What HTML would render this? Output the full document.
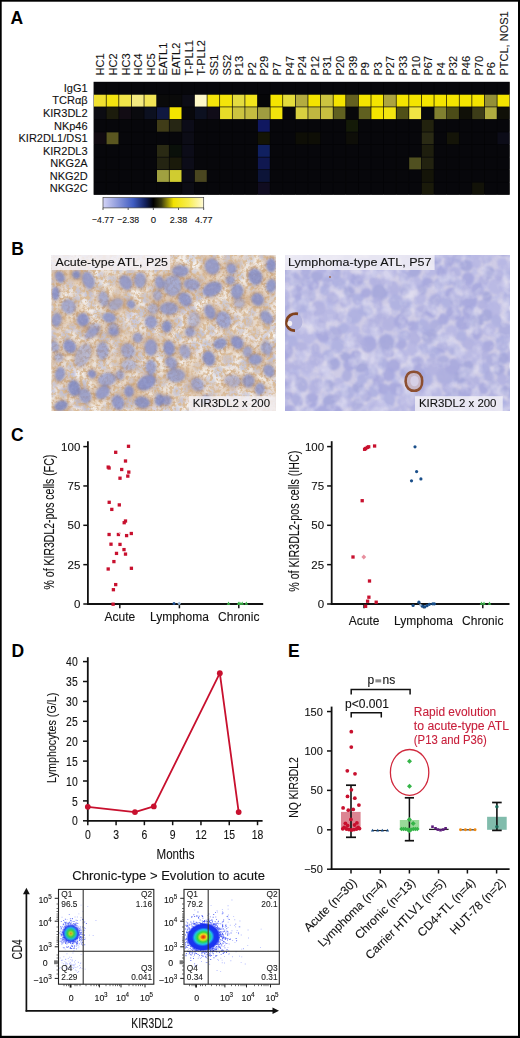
<!DOCTYPE html>
<html><head><meta charset="utf-8"><title>Figure</title>
<style>html,body{margin:0;padding:0;background:#fff;} svg{display:block;} text{font-family:"Liberation Sans", sans-serif;}</style>
</head><body>
<svg width="520" height="1038" viewBox="0 0 520 1038">
<rect x="0" y="0" width="520" height="1038" fill="#fff"/>
<rect x="0.00" y="0.00" width="1.70" height="1038.00" fill="#000" />
<rect x="0.00" y="0.00" width="520.00" height="1.70" fill="#000" />
<rect x="518.00" y="0.00" width="2.00" height="1038.00" fill="#000" />
<rect x="0.00" y="1035.80" width="520.00" height="2.20" fill="#000" />
<text x="10.40" y="23.60" font-size="17.5" text-anchor="start" fill="#000" font-weight="bold" >A</text>
<text x="11.30" y="254.80" font-size="17.5" text-anchor="start" fill="#000" font-weight="bold" >B</text>
<text x="10.90" y="441.00" font-size="17.5" text-anchor="start" fill="#000" font-weight="bold" >C</text>
<text x="11.40" y="656.90" font-size="17.5" text-anchor="start" fill="#000" font-weight="bold" >D</text>
<text x="288.00" y="656.90" font-size="17.5" text-anchor="start" fill="#000" font-weight="bold" >E</text>
<rect x="93.60" y="81.80" width="416.10" height="113.00" fill="#050507" />
<rect x="93.95" y="82.15" width="11.91" height="11.86" fill="#07070b" />
<rect x="106.56" y="82.15" width="11.91" height="11.86" fill="#07070b" />
<rect x="119.17" y="82.15" width="11.91" height="11.86" fill="#07070b" />
<rect x="131.78" y="82.15" width="11.91" height="11.86" fill="#07070b" />
<rect x="144.39" y="82.15" width="11.91" height="11.86" fill="#07070b" />
<rect x="157.00" y="82.15" width="11.91" height="11.86" fill="#07070b" />
<rect x="169.60" y="82.15" width="11.91" height="11.86" fill="#07070b" />
<rect x="182.21" y="82.15" width="11.91" height="11.86" fill="#07070b" />
<rect x="194.82" y="82.15" width="11.91" height="11.86" fill="#07070b" />
<rect x="207.43" y="82.15" width="11.91" height="11.86" fill="#07070b" />
<rect x="220.04" y="82.15" width="11.91" height="11.86" fill="#07070b" />
<rect x="232.65" y="82.15" width="11.91" height="11.86" fill="#07070b" />
<rect x="245.26" y="82.15" width="11.91" height="11.86" fill="#07070b" />
<rect x="257.87" y="82.15" width="11.91" height="11.86" fill="#07070b" />
<rect x="270.48" y="82.15" width="11.91" height="11.86" fill="#07070b" />
<rect x="283.09" y="82.15" width="11.91" height="11.86" fill="#07070b" />
<rect x="295.70" y="82.15" width="11.91" height="11.86" fill="#07070b" />
<rect x="308.30" y="82.15" width="11.91" height="11.86" fill="#07070b" />
<rect x="320.91" y="82.15" width="11.91" height="11.86" fill="#07070b" />
<rect x="333.52" y="82.15" width="11.91" height="11.86" fill="#07070b" />
<rect x="346.13" y="82.15" width="11.91" height="11.86" fill="#07070b" />
<rect x="358.74" y="82.15" width="11.91" height="11.86" fill="#07070b" />
<rect x="371.35" y="82.15" width="11.91" height="11.86" fill="#07070b" />
<rect x="383.96" y="82.15" width="11.91" height="11.86" fill="#07070b" />
<rect x="396.57" y="82.15" width="11.91" height="11.86" fill="#07070b" />
<rect x="409.18" y="82.15" width="11.91" height="11.86" fill="#07070b" />
<rect x="421.79" y="82.15" width="11.91" height="11.86" fill="#07070b" />
<rect x="434.40" y="82.15" width="11.91" height="11.86" fill="#07070b" />
<rect x="447.00" y="82.15" width="11.91" height="11.86" fill="#07070b" />
<rect x="459.61" y="82.15" width="11.91" height="11.86" fill="#07070b" />
<rect x="472.22" y="82.15" width="11.91" height="11.86" fill="#07070b" />
<rect x="484.83" y="82.15" width="11.91" height="11.86" fill="#07070b" />
<rect x="497.44" y="82.15" width="11.91" height="11.86" fill="#07070b" />
<rect x="93.95" y="94.71" width="11.91" height="11.86" fill="#f0e030" />
<rect x="106.56" y="94.71" width="11.91" height="11.86" fill="#f4e410" />
<rect x="119.17" y="94.71" width="11.91" height="11.86" fill="#f2e44a" />
<rect x="131.78" y="94.71" width="11.91" height="11.86" fill="#f4ea80" />
<rect x="144.39" y="94.71" width="11.91" height="11.86" fill="#f2e456" />
<rect x="157.00" y="94.71" width="11.91" height="11.86" fill="#0a0a0a" />
<rect x="169.60" y="94.71" width="11.91" height="11.86" fill="#0a0a0a" />
<rect x="182.21" y="94.71" width="11.91" height="11.86" fill="#0c0c16" />
<rect x="194.82" y="94.71" width="11.91" height="11.86" fill="#fdf8c8" />
<rect x="207.43" y="94.71" width="11.91" height="11.86" fill="#f4e40a" />
<rect x="220.04" y="94.71" width="11.91" height="11.86" fill="#f4e40a" />
<rect x="232.65" y="94.71" width="11.91" height="11.86" fill="#e4dc40" />
<rect x="245.26" y="94.71" width="11.91" height="11.86" fill="#f2e41c" />
<rect x="257.87" y="94.71" width="11.91" height="11.86" fill="#060608" />
<rect x="270.48" y="94.71" width="11.91" height="11.86" fill="#f4e400" />
<rect x="283.09" y="94.71" width="11.91" height="11.86" fill="#e4dc3c" />
<rect x="295.70" y="94.71" width="11.91" height="11.86" fill="#b4ac40" />
<rect x="308.30" y="94.71" width="11.91" height="11.86" fill="#f4e400" />
<rect x="320.91" y="94.71" width="11.91" height="11.86" fill="#ccc440" />
<rect x="333.52" y="94.71" width="11.91" height="11.86" fill="#f4e400" />
<rect x="346.13" y="94.71" width="11.91" height="11.86" fill="#646020" />
<rect x="358.74" y="94.71" width="11.91" height="11.86" fill="#f4e400" />
<rect x="371.35" y="94.71" width="11.91" height="11.86" fill="#f4e400" />
<rect x="383.96" y="94.71" width="11.91" height="11.86" fill="#aca440" />
<rect x="396.57" y="94.71" width="11.91" height="11.86" fill="#f4e400" />
<rect x="409.18" y="94.71" width="11.91" height="11.86" fill="#f4e400" />
<rect x="421.79" y="94.71" width="11.91" height="11.86" fill="#f4e400" />
<rect x="434.40" y="94.71" width="11.91" height="11.86" fill="#f4e400" />
<rect x="447.00" y="94.71" width="11.91" height="11.86" fill="#f4e400" />
<rect x="459.61" y="94.71" width="11.91" height="11.86" fill="#f4e400" />
<rect x="472.22" y="94.71" width="11.91" height="11.86" fill="#f4e400" />
<rect x="484.83" y="94.71" width="11.91" height="11.86" fill="#949038" />
<rect x="497.44" y="94.71" width="11.91" height="11.86" fill="#f4e400" />
<rect x="93.95" y="107.26" width="11.91" height="11.86" fill="#0c0c12" />
<rect x="106.56" y="107.26" width="11.91" height="11.86" fill="#1c1c0c" />
<rect x="119.17" y="107.26" width="11.91" height="11.86" fill="#120c14" />
<rect x="131.78" y="107.26" width="11.91" height="11.86" fill="#0a0a0e" />
<rect x="144.39" y="107.26" width="11.91" height="11.86" fill="#0c1020" />
<rect x="157.00" y="107.26" width="11.91" height="11.86" fill="#101840" />
<rect x="169.60" y="107.26" width="11.91" height="11.86" fill="#f4e400" />
<rect x="182.21" y="107.26" width="11.91" height="11.86" fill="#08080c" />
<rect x="194.82" y="107.26" width="11.91" height="11.86" fill="#0c1020" />
<rect x="207.43" y="107.26" width="11.91" height="11.86" fill="#100c18" />
<rect x="220.04" y="107.26" width="11.91" height="11.86" fill="#e8dc28" />
<rect x="232.65" y="107.26" width="11.91" height="11.86" fill="#ccc440" />
<rect x="245.26" y="107.26" width="11.91" height="11.86" fill="#c4bc40" />
<rect x="257.87" y="107.26" width="11.91" height="11.86" fill="#a09c40" />
<rect x="270.48" y="107.26" width="11.91" height="11.86" fill="#f2e40c" />
<rect x="283.09" y="107.26" width="11.91" height="11.86" fill="#06060a" />
<rect x="295.70" y="107.26" width="11.91" height="11.86" fill="#d8d040" />
<rect x="308.30" y="107.26" width="11.91" height="11.86" fill="#c0b840" />
<rect x="320.91" y="107.26" width="11.91" height="11.86" fill="#c8c040" />
<rect x="333.52" y="107.26" width="11.91" height="11.86" fill="#606020" />
<rect x="346.13" y="107.26" width="11.91" height="11.86" fill="#08080a" />
<rect x="358.74" y="107.26" width="11.91" height="11.86" fill="#606020" />
<rect x="371.35" y="107.26" width="11.91" height="11.86" fill="#f4e400" />
<rect x="383.96" y="107.26" width="11.91" height="11.86" fill="#f2e410" />
<rect x="396.57" y="107.26" width="11.91" height="11.86" fill="#505018" />
<rect x="409.18" y="107.26" width="11.91" height="11.86" fill="#f0e444" />
<rect x="421.79" y="107.26" width="11.91" height="11.86" fill="#06080c" />
<rect x="434.40" y="107.26" width="11.91" height="11.86" fill="#808030" />
<rect x="447.00" y="107.26" width="11.91" height="11.86" fill="#4c4c18" />
<rect x="459.61" y="107.26" width="11.91" height="11.86" fill="#101008" />
<rect x="472.22" y="107.26" width="11.91" height="11.86" fill="#3c3c18" />
<rect x="484.83" y="107.26" width="11.91" height="11.86" fill="#b0ac40" />
<rect x="497.44" y="107.26" width="11.91" height="11.86" fill="#101008" />
<rect x="93.95" y="119.82" width="11.91" height="11.86" fill="#07070b" />
<rect x="106.56" y="119.82" width="11.91" height="11.86" fill="#07070b" />
<rect x="119.17" y="119.82" width="11.91" height="11.86" fill="#07070b" />
<rect x="131.78" y="119.82" width="11.91" height="11.86" fill="#07070b" />
<rect x="144.39" y="119.82" width="11.91" height="11.86" fill="#07070b" />
<rect x="157.00" y="119.82" width="11.91" height="11.86" fill="#403c18" />
<rect x="169.60" y="119.82" width="11.91" height="11.86" fill="#262614" />
<rect x="182.21" y="119.82" width="11.91" height="11.86" fill="#0c0c18" />
<rect x="194.82" y="119.82" width="11.91" height="11.86" fill="#07070b" />
<rect x="207.43" y="119.82" width="11.91" height="11.86" fill="#07070b" />
<rect x="220.04" y="119.82" width="11.91" height="11.86" fill="#07070b" />
<rect x="232.65" y="119.82" width="11.91" height="11.86" fill="#07070b" />
<rect x="245.26" y="119.82" width="11.91" height="11.86" fill="#07070b" />
<rect x="257.87" y="119.82" width="11.91" height="11.86" fill="#101860" />
<rect x="270.48" y="119.82" width="11.91" height="11.86" fill="#07070b" />
<rect x="283.09" y="119.82" width="11.91" height="11.86" fill="#07070b" />
<rect x="295.70" y="119.82" width="11.91" height="11.86" fill="#07070b" />
<rect x="308.30" y="119.82" width="11.91" height="11.86" fill="#07070b" />
<rect x="320.91" y="119.82" width="11.91" height="11.86" fill="#07070b" />
<rect x="333.52" y="119.82" width="11.91" height="11.86" fill="#07070b" />
<rect x="346.13" y="119.82" width="11.91" height="11.86" fill="#141a08" />
<rect x="358.74" y="119.82" width="11.91" height="11.86" fill="#07070b" />
<rect x="371.35" y="119.82" width="11.91" height="11.86" fill="#07070b" />
<rect x="383.96" y="119.82" width="11.91" height="11.86" fill="#07070b" />
<rect x="396.57" y="119.82" width="11.91" height="11.86" fill="#07070b" />
<rect x="409.18" y="119.82" width="11.91" height="11.86" fill="#07070b" />
<rect x="421.79" y="119.82" width="11.91" height="11.86" fill="#22220e" />
<rect x="434.40" y="119.82" width="11.91" height="11.86" fill="#07070b" />
<rect x="447.00" y="119.82" width="11.91" height="11.86" fill="#07070b" />
<rect x="459.61" y="119.82" width="11.91" height="11.86" fill="#07070b" />
<rect x="472.22" y="119.82" width="11.91" height="11.86" fill="#07070b" />
<rect x="484.83" y="119.82" width="11.91" height="11.86" fill="#07070b" />
<rect x="497.44" y="119.82" width="11.91" height="11.86" fill="#07070b" />
<rect x="93.95" y="132.37" width="11.91" height="11.86" fill="#100a10" />
<rect x="106.56" y="132.37" width="11.91" height="11.86" fill="#5a5620" />
<rect x="119.17" y="132.37" width="11.91" height="11.86" fill="#07070b" />
<rect x="131.78" y="132.37" width="11.91" height="11.86" fill="#07070b" />
<rect x="144.39" y="132.37" width="11.91" height="11.86" fill="#07070b" />
<rect x="157.00" y="132.37" width="11.91" height="11.86" fill="#07070b" />
<rect x="169.60" y="132.37" width="11.91" height="11.86" fill="#07070b" />
<rect x="182.21" y="132.37" width="11.91" height="11.86" fill="#0c0c16" />
<rect x="194.82" y="132.37" width="11.91" height="11.86" fill="#07070b" />
<rect x="207.43" y="132.37" width="11.91" height="11.86" fill="#07070b" />
<rect x="220.04" y="132.37" width="11.91" height="11.86" fill="#07070b" />
<rect x="232.65" y="132.37" width="11.91" height="11.86" fill="#07070b" />
<rect x="245.26" y="132.37" width="11.91" height="11.86" fill="#07070b" />
<rect x="257.87" y="132.37" width="11.91" height="11.86" fill="#141406" />
<rect x="270.48" y="132.37" width="11.91" height="11.86" fill="#07070b" />
<rect x="283.09" y="132.37" width="11.91" height="11.86" fill="#07070b" />
<rect x="295.70" y="132.37" width="11.91" height="11.86" fill="#0e0e06" />
<rect x="308.30" y="132.37" width="11.91" height="11.86" fill="#0e0e06" />
<rect x="320.91" y="132.37" width="11.91" height="11.86" fill="#07070b" />
<rect x="333.52" y="132.37" width="11.91" height="11.86" fill="#07070b" />
<rect x="346.13" y="132.37" width="11.91" height="11.86" fill="#0e0e08" />
<rect x="358.74" y="132.37" width="11.91" height="11.86" fill="#07070b" />
<rect x="371.35" y="132.37" width="11.91" height="11.86" fill="#07070b" />
<rect x="383.96" y="132.37" width="11.91" height="11.86" fill="#07070b" />
<rect x="396.57" y="132.37" width="11.91" height="11.86" fill="#07070b" />
<rect x="409.18" y="132.37" width="11.91" height="11.86" fill="#07070b" />
<rect x="421.79" y="132.37" width="11.91" height="11.86" fill="#2a2a14" />
<rect x="434.40" y="132.37" width="11.91" height="11.86" fill="#07070b" />
<rect x="447.00" y="132.37" width="11.91" height="11.86" fill="#141408" />
<rect x="459.61" y="132.37" width="11.91" height="11.86" fill="#07070b" />
<rect x="472.22" y="132.37" width="11.91" height="11.86" fill="#07070b" />
<rect x="484.83" y="132.37" width="11.91" height="11.86" fill="#07070b" />
<rect x="497.44" y="132.37" width="11.91" height="11.86" fill="#0c0c18" />
<rect x="93.95" y="144.93" width="11.91" height="11.86" fill="#07070b" />
<rect x="106.56" y="144.93" width="11.91" height="11.86" fill="#07070b" />
<rect x="119.17" y="144.93" width="11.91" height="11.86" fill="#07070b" />
<rect x="131.78" y="144.93" width="11.91" height="11.86" fill="#07070b" />
<rect x="144.39" y="144.93" width="11.91" height="11.86" fill="#07070b" />
<rect x="157.00" y="144.93" width="11.91" height="11.86" fill="#2a2a14" />
<rect x="169.60" y="144.93" width="11.91" height="11.86" fill="#0a100a" />
<rect x="182.21" y="144.93" width="11.91" height="11.86" fill="#0c0c18" />
<rect x="194.82" y="144.93" width="11.91" height="11.86" fill="#07070b" />
<rect x="207.43" y="144.93" width="11.91" height="11.86" fill="#07070b" />
<rect x="220.04" y="144.93" width="11.91" height="11.86" fill="#07070b" />
<rect x="232.65" y="144.93" width="11.91" height="11.86" fill="#07070b" />
<rect x="245.26" y="144.93" width="11.91" height="11.86" fill="#07070b" />
<rect x="257.87" y="144.93" width="11.91" height="11.86" fill="#102060" />
<rect x="270.48" y="144.93" width="11.91" height="11.86" fill="#07070b" />
<rect x="283.09" y="144.93" width="11.91" height="11.86" fill="#07070b" />
<rect x="295.70" y="144.93" width="11.91" height="11.86" fill="#07070b" />
<rect x="308.30" y="144.93" width="11.91" height="11.86" fill="#07070b" />
<rect x="320.91" y="144.93" width="11.91" height="11.86" fill="#07070b" />
<rect x="333.52" y="144.93" width="11.91" height="11.86" fill="#07070b" />
<rect x="346.13" y="144.93" width="11.91" height="11.86" fill="#07070b" />
<rect x="358.74" y="144.93" width="11.91" height="11.86" fill="#07070b" />
<rect x="371.35" y="144.93" width="11.91" height="11.86" fill="#07070b" />
<rect x="383.96" y="144.93" width="11.91" height="11.86" fill="#07070b" />
<rect x="396.57" y="144.93" width="11.91" height="11.86" fill="#07070b" />
<rect x="409.18" y="144.93" width="11.91" height="11.86" fill="#07070b" />
<rect x="421.79" y="144.93" width="11.91" height="11.86" fill="#1e1e0e" />
<rect x="434.40" y="144.93" width="11.91" height="11.86" fill="#07070b" />
<rect x="447.00" y="144.93" width="11.91" height="11.86" fill="#07070b" />
<rect x="459.61" y="144.93" width="11.91" height="11.86" fill="#07070b" />
<rect x="472.22" y="144.93" width="11.91" height="11.86" fill="#07070b" />
<rect x="484.83" y="144.93" width="11.91" height="11.86" fill="#07070b" />
<rect x="497.44" y="144.93" width="11.91" height="11.86" fill="#07070b" />
<rect x="93.95" y="157.48" width="11.91" height="11.86" fill="#07070b" />
<rect x="106.56" y="157.48" width="11.91" height="11.86" fill="#07070b" />
<rect x="119.17" y="157.48" width="11.91" height="11.86" fill="#07070b" />
<rect x="131.78" y="157.48" width="11.91" height="11.86" fill="#07070b" />
<rect x="144.39" y="157.48" width="11.91" height="11.86" fill="#07070b" />
<rect x="157.00" y="157.48" width="11.91" height="11.86" fill="#242412" />
<rect x="169.60" y="157.48" width="11.91" height="11.86" fill="#1a1a0a" />
<rect x="182.21" y="157.48" width="11.91" height="11.86" fill="#0c0c18" />
<rect x="194.82" y="157.48" width="11.91" height="11.86" fill="#07070b" />
<rect x="207.43" y="157.48" width="11.91" height="11.86" fill="#07070b" />
<rect x="220.04" y="157.48" width="11.91" height="11.86" fill="#07070b" />
<rect x="232.65" y="157.48" width="11.91" height="11.86" fill="#07070b" />
<rect x="245.26" y="157.48" width="11.91" height="11.86" fill="#07070b" />
<rect x="257.87" y="157.48" width="11.91" height="11.86" fill="#101850" />
<rect x="270.48" y="157.48" width="11.91" height="11.86" fill="#07070b" />
<rect x="283.09" y="157.48" width="11.91" height="11.86" fill="#07070b" />
<rect x="295.70" y="157.48" width="11.91" height="11.86" fill="#07070b" />
<rect x="308.30" y="157.48" width="11.91" height="11.86" fill="#07070b" />
<rect x="320.91" y="157.48" width="11.91" height="11.86" fill="#07070b" />
<rect x="333.52" y="157.48" width="11.91" height="11.86" fill="#07070b" />
<rect x="346.13" y="157.48" width="11.91" height="11.86" fill="#07070b" />
<rect x="358.74" y="157.48" width="11.91" height="11.86" fill="#07070b" />
<rect x="371.35" y="157.48" width="11.91" height="11.86" fill="#07070b" />
<rect x="383.96" y="157.48" width="11.91" height="11.86" fill="#07070b" />
<rect x="396.57" y="157.48" width="11.91" height="11.86" fill="#07070b" />
<rect x="409.18" y="157.48" width="11.91" height="11.86" fill="#505020" />
<rect x="421.79" y="157.48" width="11.91" height="11.86" fill="#222210" />
<rect x="434.40" y="157.48" width="11.91" height="11.86" fill="#07070b" />
<rect x="447.00" y="157.48" width="11.91" height="11.86" fill="#07070b" />
<rect x="459.61" y="157.48" width="11.91" height="11.86" fill="#07070b" />
<rect x="472.22" y="157.48" width="11.91" height="11.86" fill="#07070b" />
<rect x="484.83" y="157.48" width="11.91" height="11.86" fill="#07070b" />
<rect x="497.44" y="157.48" width="11.91" height="11.86" fill="#07070b" />
<rect x="93.95" y="170.04" width="11.91" height="11.86" fill="#07070b" />
<rect x="106.56" y="170.04" width="11.91" height="11.86" fill="#07070b" />
<rect x="119.17" y="170.04" width="11.91" height="11.86" fill="#07070b" />
<rect x="131.78" y="170.04" width="11.91" height="11.86" fill="#07070b" />
<rect x="144.39" y="170.04" width="11.91" height="11.86" fill="#07070b" />
<rect x="157.00" y="170.04" width="11.91" height="11.86" fill="#a0a040" />
<rect x="169.60" y="170.04" width="11.91" height="11.86" fill="#d0cc30" />
<rect x="182.21" y="170.04" width="11.91" height="11.86" fill="#0c0c16" />
<rect x="194.82" y="170.04" width="11.91" height="11.86" fill="#4a4620" />
<rect x="207.43" y="170.04" width="11.91" height="11.86" fill="#07070b" />
<rect x="220.04" y="170.04" width="11.91" height="11.86" fill="#07070b" />
<rect x="232.65" y="170.04" width="11.91" height="11.86" fill="#07070b" />
<rect x="245.26" y="170.04" width="11.91" height="11.86" fill="#07070b" />
<rect x="257.87" y="170.04" width="11.91" height="11.86" fill="#0c1438" />
<rect x="270.48" y="170.04" width="11.91" height="11.86" fill="#07070b" />
<rect x="283.09" y="170.04" width="11.91" height="11.86" fill="#07070b" />
<rect x="295.70" y="170.04" width="11.91" height="11.86" fill="#07070b" />
<rect x="308.30" y="170.04" width="11.91" height="11.86" fill="#07070b" />
<rect x="320.91" y="170.04" width="11.91" height="11.86" fill="#07070b" />
<rect x="333.52" y="170.04" width="11.91" height="11.86" fill="#07070b" />
<rect x="346.13" y="170.04" width="11.91" height="11.86" fill="#07070b" />
<rect x="358.74" y="170.04" width="11.91" height="11.86" fill="#07070b" />
<rect x="371.35" y="170.04" width="11.91" height="11.86" fill="#07070b" />
<rect x="383.96" y="170.04" width="11.91" height="11.86" fill="#07070b" />
<rect x="396.57" y="170.04" width="11.91" height="11.86" fill="#07070b" />
<rect x="409.18" y="170.04" width="11.91" height="11.86" fill="#07070b" />
<rect x="421.79" y="170.04" width="11.91" height="11.86" fill="#141408" />
<rect x="434.40" y="170.04" width="11.91" height="11.86" fill="#07070b" />
<rect x="447.00" y="170.04" width="11.91" height="11.86" fill="#07070b" />
<rect x="459.61" y="170.04" width="11.91" height="11.86" fill="#07070b" />
<rect x="472.22" y="170.04" width="11.91" height="11.86" fill="#07070b" />
<rect x="484.83" y="170.04" width="11.91" height="11.86" fill="#07070b" />
<rect x="497.44" y="170.04" width="11.91" height="11.86" fill="#07070b" />
<rect x="93.95" y="182.59" width="11.91" height="11.86" fill="#07070b" />
<rect x="106.56" y="182.59" width="11.91" height="11.86" fill="#07070b" />
<rect x="119.17" y="182.59" width="11.91" height="11.86" fill="#07070b" />
<rect x="131.78" y="182.59" width="11.91" height="11.86" fill="#07070b" />
<rect x="144.39" y="182.59" width="11.91" height="11.86" fill="#07070b" />
<rect x="157.00" y="182.59" width="11.91" height="11.86" fill="#07070b" />
<rect x="169.60" y="182.59" width="11.91" height="11.86" fill="#07070b" />
<rect x="182.21" y="182.59" width="11.91" height="11.86" fill="#0c0c14" />
<rect x="194.82" y="182.59" width="11.91" height="11.86" fill="#07070b" />
<rect x="207.43" y="182.59" width="11.91" height="11.86" fill="#07070b" />
<rect x="220.04" y="182.59" width="11.91" height="11.86" fill="#07070b" />
<rect x="232.65" y="182.59" width="11.91" height="11.86" fill="#07070b" />
<rect x="245.26" y="182.59" width="11.91" height="11.86" fill="#07070b" />
<rect x="257.87" y="182.59" width="11.91" height="11.86" fill="#100c20" />
<rect x="270.48" y="182.59" width="11.91" height="11.86" fill="#07070b" />
<rect x="283.09" y="182.59" width="11.91" height="11.86" fill="#07070b" />
<rect x="295.70" y="182.59" width="11.91" height="11.86" fill="#07070b" />
<rect x="308.30" y="182.59" width="11.91" height="11.86" fill="#07070b" />
<rect x="320.91" y="182.59" width="11.91" height="11.86" fill="#07070b" />
<rect x="333.52" y="182.59" width="11.91" height="11.86" fill="#07070b" />
<rect x="346.13" y="182.59" width="11.91" height="11.86" fill="#07070b" />
<rect x="358.74" y="182.59" width="11.91" height="11.86" fill="#07070b" />
<rect x="371.35" y="182.59" width="11.91" height="11.86" fill="#07070b" />
<rect x="383.96" y="182.59" width="11.91" height="11.86" fill="#07070b" />
<rect x="396.57" y="182.59" width="11.91" height="11.86" fill="#07070b" />
<rect x="409.18" y="182.59" width="11.91" height="11.86" fill="#07070b" />
<rect x="421.79" y="182.59" width="11.91" height="11.86" fill="#1a1a0a" />
<rect x="434.40" y="182.59" width="11.91" height="11.86" fill="#07070b" />
<rect x="447.00" y="182.59" width="11.91" height="11.86" fill="#07070b" />
<rect x="459.61" y="182.59" width="11.91" height="11.86" fill="#07070b" />
<rect x="472.22" y="182.59" width="11.91" height="11.86" fill="#121208" />
<rect x="484.83" y="182.59" width="11.91" height="11.86" fill="#07070b" />
<rect x="497.44" y="182.59" width="11.91" height="11.86" fill="#07070b" />
<text transform="translate(104.40,75.50) rotate(-90)" font-size="11" text-anchor="start" fill="#111" stroke="#111" stroke-width="0.1">HC1</text>
<text transform="translate(117.01,75.50) rotate(-90)" font-size="11" text-anchor="start" fill="#111" stroke="#111" stroke-width="0.1">HC2</text>
<text transform="translate(129.62,75.50) rotate(-90)" font-size="11" text-anchor="start" fill="#111" stroke="#111" stroke-width="0.1">HC3</text>
<text transform="translate(142.23,75.50) rotate(-90)" font-size="11" text-anchor="start" fill="#111" stroke="#111" stroke-width="0.1">HC4</text>
<text transform="translate(154.84,75.50) rotate(-90)" font-size="11" text-anchor="start" fill="#111" stroke="#111" stroke-width="0.1">HC5</text>
<text transform="translate(167.45,75.50) rotate(-90)" font-size="11" text-anchor="start" fill="#111" stroke="#111" stroke-width="0.1">EATL1</text>
<text transform="translate(180.06,75.50) rotate(-90)" font-size="11" text-anchor="start" fill="#111" stroke="#111" stroke-width="0.1">EATL2</text>
<text transform="translate(192.67,75.50) rotate(-90)" font-size="11" text-anchor="start" fill="#111" stroke="#111" stroke-width="0.1">T-PLL1</text>
<text transform="translate(205.28,75.50) rotate(-90)" font-size="11" text-anchor="start" fill="#111" stroke="#111" stroke-width="0.1">T-PLL2</text>
<text transform="translate(217.89,75.50) rotate(-90)" font-size="11" text-anchor="start" fill="#111" stroke="#111" stroke-width="0.1">SS1</text>
<text transform="translate(230.50,75.50) rotate(-90)" font-size="11" text-anchor="start" fill="#111" stroke="#111" stroke-width="0.1">SS2</text>
<text transform="translate(243.10,75.50) rotate(-90)" font-size="11" text-anchor="start" fill="#111" stroke="#111" stroke-width="0.1">P13</text>
<text transform="translate(255.71,75.50) rotate(-90)" font-size="11" text-anchor="start" fill="#111" stroke="#111" stroke-width="0.1">P2</text>
<text transform="translate(268.32,75.50) rotate(-90)" font-size="11" text-anchor="start" fill="#111" stroke="#111" stroke-width="0.1">P29</text>
<text transform="translate(280.93,75.50) rotate(-90)" font-size="11" text-anchor="start" fill="#111" stroke="#111" stroke-width="0.1">P7</text>
<text transform="translate(293.54,75.50) rotate(-90)" font-size="11" text-anchor="start" fill="#111" stroke="#111" stroke-width="0.1">P47</text>
<text transform="translate(306.15,75.50) rotate(-90)" font-size="11" text-anchor="start" fill="#111" stroke="#111" stroke-width="0.1">P24</text>
<text transform="translate(318.76,75.50) rotate(-90)" font-size="11" text-anchor="start" fill="#111" stroke="#111" stroke-width="0.1">P12</text>
<text transform="translate(331.37,75.50) rotate(-90)" font-size="11" text-anchor="start" fill="#111" stroke="#111" stroke-width="0.1">P31</text>
<text transform="translate(343.98,75.50) rotate(-90)" font-size="11" text-anchor="start" fill="#111" stroke="#111" stroke-width="0.1">P20</text>
<text transform="translate(356.59,75.50) rotate(-90)" font-size="11" text-anchor="start" fill="#111" stroke="#111" stroke-width="0.1">P39</text>
<text transform="translate(369.20,75.50) rotate(-90)" font-size="11" text-anchor="start" fill="#111" stroke="#111" stroke-width="0.1">P9</text>
<text transform="translate(381.80,75.50) rotate(-90)" font-size="11" text-anchor="start" fill="#111" stroke="#111" stroke-width="0.1">P3</text>
<text transform="translate(394.41,75.50) rotate(-90)" font-size="11" text-anchor="start" fill="#111" stroke="#111" stroke-width="0.1">P27</text>
<text transform="translate(407.02,75.50) rotate(-90)" font-size="11" text-anchor="start" fill="#111" stroke="#111" stroke-width="0.1">P33</text>
<text transform="translate(419.63,75.50) rotate(-90)" font-size="11" text-anchor="start" fill="#111" stroke="#111" stroke-width="0.1">P10</text>
<text transform="translate(432.24,75.50) rotate(-90)" font-size="11" text-anchor="start" fill="#111" stroke="#111" stroke-width="0.1">P67</text>
<text transform="translate(444.85,75.50) rotate(-90)" font-size="11" text-anchor="start" fill="#111" stroke="#111" stroke-width="0.1">P4</text>
<text transform="translate(457.46,75.50) rotate(-90)" font-size="11" text-anchor="start" fill="#111" stroke="#111" stroke-width="0.1">P32</text>
<text transform="translate(470.07,75.50) rotate(-90)" font-size="11" text-anchor="start" fill="#111" stroke="#111" stroke-width="0.1">P46</text>
<text transform="translate(482.68,75.50) rotate(-90)" font-size="11" text-anchor="start" fill="#111" stroke="#111" stroke-width="0.1">P70</text>
<text transform="translate(495.29,75.50) rotate(-90)" font-size="11" text-anchor="start" fill="#111" stroke="#111" stroke-width="0.1">P6</text>
<text transform="translate(507.90,75.50) rotate(-90)" font-size="11" text-anchor="start" fill="#111" stroke="#111" stroke-width="0.1">PTCL, NOS1</text>
<text x="87.60" y="91.88" font-size="11" text-anchor="end" fill="#111" font-weight="normal" stroke="#111" stroke-width="0.1" >IgG1</text>
<text x="87.60" y="104.43" font-size="11" text-anchor="end" fill="#111" font-weight="normal" stroke="#111" stroke-width="0.1" >TCR&#945;&#946;</text>
<text x="87.60" y="116.99" font-size="11" text-anchor="end" fill="#111" font-weight="normal" stroke="#111" stroke-width="0.1" >KIR3DL2</text>
<text x="87.60" y="129.54" font-size="11" text-anchor="end" fill="#111" font-weight="normal" stroke="#111" stroke-width="0.1" >NKp46</text>
<text x="87.60" y="142.10" font-size="11" text-anchor="end" fill="#111" font-weight="normal" stroke="#111" stroke-width="0.1" >KIR2DL1/DS1</text>
<text x="87.60" y="154.66" font-size="11" text-anchor="end" fill="#111" font-weight="normal" stroke="#111" stroke-width="0.1" >KIR2DL3</text>
<text x="87.60" y="167.21" font-size="11" text-anchor="end" fill="#111" font-weight="normal" stroke="#111" stroke-width="0.1" >NKG2A</text>
<text x="87.60" y="179.77" font-size="11" text-anchor="end" fill="#111" font-weight="normal" stroke="#111" stroke-width="0.1" >NKG2D</text>
<text x="87.60" y="192.32" font-size="11" text-anchor="end" fill="#111" font-weight="normal" stroke="#111" stroke-width="0.1" >NKG2C</text>
<defs><linearGradient id="cbar" x1="0" x2="1" y1="0" y2="0">
<stop offset="0" stop-color="#d4d4f6"/><stop offset="0.12" stop-color="#9aa4e0"/><stop offset="0.3" stop-color="#3f5cc2"/>
<stop offset="0.42" stop-color="#12205c"/><stop offset="0.5" stop-color="#000000"/><stop offset="0.58" stop-color="#3a3a10"/>
<stop offset="0.7" stop-color="#f2e200"/><stop offset="0.85" stop-color="#f8ee50"/><stop offset="1" stop-color="#fffad8"/></linearGradient></defs>
<rect x="103.00" y="197.60" width="100.70" height="10.30" fill="url(#cbar)" stroke="#444" stroke-width="0.7"/>
<line x1="103.00" y1="207.90" x2="103.00" y2="210.00" stroke="#333" stroke-width="0.8"/>
<text x="103.00" y="222.60" font-size="9.6" text-anchor="middle" fill="#111" font-weight="normal" textLength="22.0" lengthAdjust="spacingAndGlyphs" stroke="#111" stroke-width="0.1" >&#8722;4.77</text>
<line x1="128.17" y1="207.90" x2="128.17" y2="210.00" stroke="#333" stroke-width="0.8"/>
<text x="128.17" y="222.60" font-size="9.6" text-anchor="middle" fill="#111" font-weight="normal" textLength="22.0" lengthAdjust="spacingAndGlyphs" stroke="#111" stroke-width="0.1" >&#8722;2.38</text>
<line x1="153.34" y1="207.90" x2="153.34" y2="210.00" stroke="#333" stroke-width="0.8"/>
<text x="153.34" y="222.60" font-size="9.6" text-anchor="middle" fill="#111" font-weight="normal" stroke="#111" stroke-width="0.1" >0</text>
<line x1="178.51" y1="207.90" x2="178.51" y2="210.00" stroke="#333" stroke-width="0.8"/>
<text x="178.51" y="222.60" font-size="9.6" text-anchor="middle" fill="#111" font-weight="normal" textLength="17.6" lengthAdjust="spacingAndGlyphs" stroke="#111" stroke-width="0.1" >2.38</text>
<line x1="203.68" y1="207.90" x2="203.68" y2="210.00" stroke="#333" stroke-width="0.8"/>
<text x="203.68" y="222.60" font-size="9.6" text-anchor="middle" fill="#111" font-weight="normal" textLength="17.6" lengthAdjust="spacingAndGlyphs" stroke="#111" stroke-width="0.1" >4.77</text>
<defs>
<clipPath id="clipL"><rect x="51.5" y="255" width="224.4" height="156"/></clipPath>
<clipPath id="clipR"><rect x="285" y="255" width="224.7" height="156"/></clipPath>
<filter id="brownTex" x="0" y="0" width="1" height="1">
 <feTurbulence type="fractalNoise" baseFrequency="0.3" numOctaves="3" seed="4"/>
 <feColorMatrix type="matrix" values="0 0 0 0 0.70  0 0 0 0 0.50  0 0 0 0 0.32  0 0 0 4.0 -1.7" />
</filter>
<filter id="brownTex2" x="0" y="0" width="1" height="1">
 <feTurbulence type="fractalNoise" baseFrequency="0.045" numOctaves="2" seed="17"/>
 <feColorMatrix type="matrix" values="0 0 0 0 0.76  0 0 0 0 0.57  0 0 0 0 0.40  0 0 0 2.1 -0.95" />
</filter>
<filter id="creamTex" x="0" y="0" width="1" height="1">
 <feTurbulence type="fractalNoise" baseFrequency="0.06" numOctaves="3" seed="12"/>
 <feColorMatrix type="matrix" values="0 0 0 0 0.95  0 0 0 0 0.93  0 0 0 0 0.91  0 0 0 2.6 -1.0" />
</filter>
<filter id="violTex" x="0" y="0" width="1" height="1">
 <feTurbulence type="fractalNoise" baseFrequency="0.05" numOctaves="2" seed="33"/>
 <feColorMatrix type="matrix" values="0 0 0 0 0.66  0 0 0 0 0.64  0 0 0 0 0.80  0 0 0 2.0 -0.95" />
</filter>
<filter id="lavTex" x="0" y="0" width="1" height="1">
 <feTurbulence type="fractalNoise" baseFrequency="0.06" numOctaves="3" seed="9"/>
 <feColorMatrix type="matrix" values="0 0 0 0 0.87  0 0 0 0 0.85  0 0 0 0 0.93  0 0 0 2.6 -1.2" />
</filter>
<filter id="lavTex2" x="0" y="0" width="1" height="1">
 <feTurbulence type="fractalNoise" baseFrequency="0.09" numOctaves="3" seed="21"/>
 <feColorMatrix type="matrix" values="0 0 0 0 0.49  0 0 0 0 0.50  0 0 0 0 0.80  0 0 0 2.2 -0.9" />
</filter>
<filter id="nucTex" x="0" y="0" width="1" height="1">
 <feTurbulence type="fractalNoise" baseFrequency="0.3" numOctaves="2" seed="5"/>
 <feColorMatrix type="matrix" values="0 0 0 0 0.42  0 0 0 0 0.45  0 0 0 0 0.70  0 0 0 1.6 -0.75" />
</filter>
<filter id="blur06"><feGaussianBlur stdDeviation="0.7"/></filter>
<filter id="blur09"><feGaussianBlur stdDeviation="0.9"/></filter>
<filter id="blur08"><feGaussianBlur stdDeviation="0.9"/></filter>
<filter id="blur12"><feGaussianBlur stdDeviation="1.6"/></filter>
<mask id="nucMask"><rect x="51.5" y="255" width="224.4" height="156" fill="#000"/><g fill="#fff"><ellipse cx="59.9" cy="277" rx="4.5" ry="5" transform="rotate(0 59.9 277)"/><ellipse cx="76.3" cy="274.8" rx="4" ry="3.2" transform="rotate(0 76.3 274.8)"/><ellipse cx="88.4" cy="280.3" rx="5.5" ry="8.5" transform="rotate(-20 88.4 280.3)"/><ellipse cx="55.5" cy="293.5" rx="3.5" ry="6.5" transform="rotate(0 55.5 293.5)"/><ellipse cx="68.6" cy="306.6" rx="7.5" ry="6.5" transform="rotate(0 68.6 306.6)"/><ellipse cx="103.7" cy="299" rx="4.5" ry="7.5" transform="rotate(-10 103.7 299)"/><ellipse cx="125.7" cy="282.5" rx="6.5" ry="6.5" transform="rotate(0 125.7 282.5)"/><ellipse cx="140" cy="280.3" rx="5.5" ry="7.5" transform="rotate(0 140 280.3)"/><ellipse cx="115.8" cy="304.4" rx="7.5" ry="5" transform="rotate(-30 115.8 304.4)"/><ellipse cx="109.2" cy="317.6" rx="6.5" ry="4.5" transform="rotate(0 109.2 317.6)"/><ellipse cx="82.9" cy="319.8" rx="6.5" ry="5.5" transform="rotate(0 82.9 319.8)"/><ellipse cx="131" cy="304.4" rx="4" ry="3.5" transform="rotate(0 131 304.4)"/><ellipse cx="153" cy="308.8" rx="5.5" ry="4.5" transform="rotate(0 153 308.8)"/><ellipse cx="151" cy="322" rx="6.5" ry="5.5" transform="rotate(0 151 322)"/><ellipse cx="56.6" cy="319.8" rx="4.5" ry="6.5" transform="rotate(0 56.6 319.8)"/><ellipse cx="159.6" cy="282.5" rx="4.5" ry="5.5" transform="rotate(0 159.6 282.5)"/><ellipse cx="157.5" cy="295.7" rx="4.5" ry="4.5" transform="rotate(0 157.5 295.7)"/><ellipse cx="93.9" cy="328.6" rx="6.5" ry="4.5" transform="rotate(0 93.9 328.6)"/><ellipse cx="113.6" cy="328.6" rx="5.5" ry="4.5" transform="rotate(0 113.6 328.6)"/><ellipse cx="212.2" cy="266.5" rx="8" ry="7" transform="rotate(0 212.2 266.5)"/><ellipse cx="231.5" cy="268.7" rx="5" ry="4.5" transform="rotate(0 231.5 268.7)"/><ellipse cx="230.3" cy="280" rx="4.5" ry="3.5" transform="rotate(0 230.3 280)"/><ellipse cx="180.4" cy="271" rx="8" ry="5.5" transform="rotate(0 180.4 271)"/><ellipse cx="172.5" cy="285.8" rx="10" ry="9" transform="rotate(0 172.5 285.8)"/><ellipse cx="191.8" cy="284.6" rx="8" ry="5.5" transform="rotate(0 191.8 284.6)"/><ellipse cx="212.2" cy="289.2" rx="10" ry="6.5" transform="rotate(-25 212.2 289.2)"/><ellipse cx="237.2" cy="291.4" rx="6.5" ry="6.5" transform="rotate(0 237.2 291.4)"/><ellipse cx="255.3" cy="276.7" rx="6.5" ry="8" transform="rotate(0 255.3 276.7)"/><ellipse cx="271.2" cy="265.3" rx="4.5" ry="6.5" transform="rotate(0 271.2 265.3)"/><ellipse cx="271.2" cy="285.8" rx="4.5" ry="6.5" transform="rotate(0 271.2 285.8)"/><ellipse cx="169" cy="308.5" rx="9" ry="6" transform="rotate(0 169 308.5)"/><ellipse cx="185" cy="299.4" rx="6.5" ry="6.5" transform="rotate(0 185 299.4)"/><ellipse cx="194" cy="319.8" rx="6.5" ry="6.5" transform="rotate(0 194 319.8)"/><ellipse cx="209.9" cy="311.9" rx="5.5" ry="6.5" transform="rotate(0 209.9 311.9)"/><ellipse cx="223.5" cy="319.8" rx="8" ry="7.5" transform="rotate(0 223.5 319.8)"/><ellipse cx="239.4" cy="302.8" rx="5.5" ry="4.5" transform="rotate(0 239.4 302.8)"/><ellipse cx="257.6" cy="299.4" rx="6.5" ry="5.5" transform="rotate(0 257.6 299.4)"/><ellipse cx="266.6" cy="317.5" rx="5.5" ry="6.5" transform="rotate(0 266.6 317.5)"/><ellipse cx="166.8" cy="326.6" rx="5" ry="5" transform="rotate(0 166.8 326.6)"/><ellipse cx="54.4" cy="346.4" rx="4" ry="5.5" transform="rotate(0 54.4 346.4)"/><ellipse cx="58.8" cy="357.4" rx="4.5" ry="3.5" transform="rotate(0 58.8 357.4)"/><ellipse cx="69.7" cy="346.4" rx="6.5" ry="6" transform="rotate(0 69.7 346.4)"/><ellipse cx="82.9" cy="355.2" rx="7" ry="12" transform="rotate(25 82.9 355.2)"/><ellipse cx="91.7" cy="333.3" rx="7.5" ry="3.5" transform="rotate(0 91.7 333.3)"/><ellipse cx="102.6" cy="350.8" rx="6.5" ry="7.5" transform="rotate(0 102.6 350.8)"/><ellipse cx="113.6" cy="332.2" rx="5" ry="3.5" transform="rotate(0 113.6 332.2)"/><ellipse cx="127.9" cy="350.8" rx="7.5" ry="6.5" transform="rotate(0 127.9 350.8)"/><ellipse cx="137.7" cy="337.7" rx="5" ry="4" transform="rotate(0 137.7 337.7)"/><ellipse cx="150.9" cy="347.5" rx="6" ry="8" transform="rotate(0 150.9 347.5)"/><ellipse cx="129" cy="365" rx="7.5" ry="5" transform="rotate(0 129 365)"/><ellipse cx="150.9" cy="367.3" rx="5.5" ry="6.5" transform="rotate(0 150.9 367.3)"/><ellipse cx="107" cy="379.3" rx="9" ry="6" transform="rotate(0 107 379.3)"/><ellipse cx="74.1" cy="388.1" rx="6.5" ry="7" transform="rotate(0 74.1 388.1)"/><ellipse cx="85" cy="395.8" rx="6.5" ry="6.5" transform="rotate(0 85 395.8)"/><ellipse cx="102.6" cy="392.5" rx="7.5" ry="5.5" transform="rotate(0 102.6 392.5)"/><ellipse cx="118" cy="402.4" rx="6.5" ry="6.5" transform="rotate(0 118 402.4)"/><ellipse cx="129" cy="391.4" rx="5" ry="5" transform="rotate(0 129 391.4)"/><ellipse cx="146.5" cy="382.6" rx="10" ry="6.5" transform="rotate(0 146.5 382.6)"/><ellipse cx="142.1" cy="402.4" rx="7.5" ry="5.5" transform="rotate(0 142.1 402.4)"/><ellipse cx="61" cy="405.7" rx="6.5" ry="4.5" transform="rotate(0 61 405.7)"/><ellipse cx="159.6" cy="400.2" rx="5" ry="5" transform="rotate(0 159.6 400.2)"/><ellipse cx="169" cy="348.2" rx="6" ry="6.5" transform="rotate(0 169 348.2)"/><ellipse cx="171.3" cy="362.9" rx="5" ry="6.5" transform="rotate(0 171.3 362.9)"/><ellipse cx="185" cy="351.6" rx="5.5" ry="6" transform="rotate(0 185 351.6)"/><ellipse cx="175.9" cy="375.4" rx="9" ry="6.5" transform="rotate(0 175.9 375.4)"/><ellipse cx="197.4" cy="384.5" rx="6.5" ry="6" transform="rotate(0 197.4 384.5)"/><ellipse cx="208.8" cy="358.4" rx="6.5" ry="6.5" transform="rotate(0 208.8 358.4)"/><ellipse cx="220.1" cy="343.6" rx="6.5" ry="5" transform="rotate(0 220.1 343.6)"/><ellipse cx="237.2" cy="342.5" rx="6" ry="6" transform="rotate(0 237.2 342.5)"/><ellipse cx="247.4" cy="351.6" rx="4.5" ry="4.5" transform="rotate(0 247.4 351.6)"/><ellipse cx="255.3" cy="359.5" rx="6.5" ry="5" transform="rotate(0 255.3 359.5)"/><ellipse cx="266.6" cy="348.2" rx="6" ry="5.5" transform="rotate(0 266.6 348.2)"/><ellipse cx="268.9" cy="370.8" rx="5.5" ry="5.5" transform="rotate(0 268.9 370.8)"/><ellipse cx="232.6" cy="381" rx="8" ry="5.5" transform="rotate(0 232.6 381)"/><ellipse cx="248.5" cy="381" rx="6.5" ry="5.5" transform="rotate(0 248.5 381)"/><ellipse cx="259.8" cy="389" rx="5" ry="5" transform="rotate(0 259.8 389)"/><ellipse cx="166.8" cy="400.3" rx="5" ry="4" transform="rotate(0 166.8 400.3)"/><ellipse cx="60" cy="374" rx="5" ry="6" transform="rotate(0 60 374)"/><ellipse cx="120" cy="375" rx="4" ry="4" transform="rotate(0 120 375)"/><ellipse cx="92" cy="374" rx="4" ry="3.5" transform="rotate(0 92 374)"/><ellipse cx="206" cy="400" rx="5" ry="4" transform="rotate(0 206 400)"/><ellipse cx="190" cy="332" rx="5" ry="4" transform="rotate(0 190 332)"/></g></mask>
</defs>
<g clip-path="url(#clipL)">
<rect x="51.50" y="255.00" width="224.40" height="156.00" fill="#ebe2da" />
<rect x="51.50" y="255.00" width="224.40" height="156.00" fill="#fff" filter="url(#violTex)"/>
<rect x="51.50" y="255.00" width="224.40" height="156.00" fill="#fff" filter="url(#creamTex)"/>
<g filter="url(#blur09)">
<ellipse cx="91.7" cy="304.4" rx="4.0" ry="4.7" transform="rotate(-30 91.7 304.4)" fill="#9ca0c6" fill-opacity="0.45"/>
<ellipse cx="93.7" cy="266.0" rx="4.2" ry="4.9" transform="rotate(-20 93.7 266.0)" fill="#9ca0c6" fill-opacity="0.40"/>
<ellipse cx="177.7" cy="323.0" rx="5.0" ry="5.9" transform="rotate(0 177.7 323.0)" fill="#9ca0c6" fill-opacity="0.46"/>
<ellipse cx="218.7" cy="371.9" rx="5.3" ry="6.2" transform="rotate(-10 218.7 371.9)" fill="#9ca0c6" fill-opacity="0.40"/>
<ellipse cx="71.6" cy="326.8" rx="4.0" ry="4.7" transform="rotate(-30 71.6 326.8)" fill="#9ca0c6" fill-opacity="0.48"/>
<ellipse cx="77.7" cy="402.9" rx="3.9" ry="4.6" transform="rotate(-10 77.7 402.9)" fill="#9ca0c6" fill-opacity="0.49"/>
<ellipse cx="242.2" cy="408.8" rx="5.1" ry="6.0" transform="rotate(-10 242.2 408.8)" fill="#9ca0c6" fill-opacity="0.37"/>
<ellipse cx="265.7" cy="338.0" rx="4.2" ry="4.9" transform="rotate(-10 265.7 338.0)" fill="#9ca0c6" fill-opacity="0.32"/>
<ellipse cx="163.0" cy="259.3" rx="4.4" ry="5.2" transform="rotate(-30 163.0 259.3)" fill="#9ca0c6" fill-opacity="0.31"/>
<ellipse cx="118.0" cy="267.7" rx="5.3" ry="6.2" transform="rotate(10 118.0 267.7)" fill="#9ca0c6" fill-opacity="0.31"/>
<ellipse cx="258.7" cy="400.8" rx="5.1" ry="6.0" transform="rotate(-10 258.7 400.8)" fill="#9ca0c6" fill-opacity="0.30"/>
<ellipse cx="51.9" cy="267.1" rx="5.4" ry="6.3" transform="rotate(-20 51.9 267.1)" fill="#9ca0c6" fill-opacity="0.50"/>
<ellipse cx="66.1" cy="256.0" rx="4.1" ry="4.8" transform="rotate(-10 66.1 256.0)" fill="#9ca0c6" fill-opacity="0.43"/>
<ellipse cx="226.9" cy="408.2" rx="5.1" ry="6.0" transform="rotate(0 226.9 408.2)" fill="#9ca0c6" fill-opacity="0.39"/>
<ellipse cx="278.0" cy="329.5" rx="5.1" ry="6.0" transform="rotate(-30 278.0 329.5)" fill="#9ca0c6" fill-opacity="0.38"/>
<ellipse cx="86.7" cy="408.0" rx="3.9" ry="4.6" transform="rotate(-30 86.7 408.0)" fill="#9ca0c6" fill-opacity="0.46"/>
<ellipse cx="69.8" cy="365.4" rx="4.0" ry="4.7" transform="rotate(-30 69.8 365.4)" fill="#9ca0c6" fill-opacity="0.36"/>
<ellipse cx="228.0" cy="259.1" rx="5.2" ry="6.1" transform="rotate(0 228.0 259.1)" fill="#9ca0c6" fill-opacity="0.49"/>
<ellipse cx="225.4" cy="304.6" rx="4.6" ry="5.4" transform="rotate(-30 225.4 304.6)" fill="#9ca0c6" fill-opacity="0.40"/>
<ellipse cx="190.0" cy="412.1" rx="4.3" ry="5.1" transform="rotate(0 190.0 412.1)" fill="#9ca0c6" fill-opacity="0.45"/>
<ellipse cx="247.8" cy="321.7" rx="5.1" ry="6.0" transform="rotate(-40 247.8 321.7)" fill="#9ca0c6" fill-opacity="0.48"/>
<ellipse cx="271.5" cy="358.1" rx="4.8" ry="5.7" transform="rotate(0 271.5 358.1)" fill="#9ca0c6" fill-opacity="0.46"/>
<ellipse cx="249.2" cy="258.0" rx="5.0" ry="5.8" transform="rotate(-30 249.2 258.0)" fill="#9ca0c6" fill-opacity="0.33"/>
<ellipse cx="69.7" cy="283.2" rx="4.9" ry="5.8" transform="rotate(0 69.7 283.2)" fill="#9ca0c6" fill-opacity="0.44"/>
<ellipse cx="210.8" cy="329.7" rx="4.2" ry="5.0" transform="rotate(0 210.8 329.7)" fill="#9ca0c6" fill-opacity="0.36"/>
<ellipse cx="125.2" cy="329.3" rx="5.1" ry="6.0" transform="rotate(-30 125.2 329.3)" fill="#9ca0c6" fill-opacity="0.40"/>
<ellipse cx="186.9" cy="388.9" rx="4.5" ry="5.3" transform="rotate(0 186.9 388.9)" fill="#9ca0c6" fill-opacity="0.49"/>
<ellipse cx="156.7" cy="267.6" rx="4.3" ry="5.1" transform="rotate(-10 156.7 267.6)" fill="#9ca0c6" fill-opacity="0.49"/>
<ellipse cx="267.8" cy="328.0" rx="4.1" ry="4.8" transform="rotate(-20 267.8 328.0)" fill="#9ca0c6" fill-opacity="0.36"/>
<ellipse cx="202.2" cy="257.1" rx="4.7" ry="5.5" transform="rotate(-20 202.2 257.1)" fill="#9ca0c6" fill-opacity="0.44"/>
<ellipse cx="140.6" cy="257.0" rx="4.2" ry="4.9" transform="rotate(-40 140.6 257.0)" fill="#9ca0c6" fill-opacity="0.35"/>
<ellipse cx="71.5" cy="375.0" rx="4.2" ry="4.9" transform="rotate(-30 71.5 375.0)" fill="#9ca0c6" fill-opacity="0.39"/>
<ellipse cx="255.3" cy="332.6" rx="4.6" ry="5.5" transform="rotate(-20 255.3 332.6)" fill="#9ca0c6" fill-opacity="0.34"/>
<ellipse cx="227.9" cy="359.7" rx="5.3" ry="6.3" transform="rotate(-20 227.9 359.7)" fill="#9ca0c6" fill-opacity="0.43"/>
<ellipse cx="115.3" cy="254.6" rx="4.5" ry="5.3" transform="rotate(-40 115.3 254.6)" fill="#9ca0c6" fill-opacity="0.33"/>
<ellipse cx="206.7" cy="345.4" rx="4.6" ry="5.4" transform="rotate(-10 206.7 345.4)" fill="#9ca0c6" fill-opacity="0.43"/>
<ellipse cx="51.9" cy="392.7" rx="3.9" ry="4.6" transform="rotate(-20 51.9 392.7)" fill="#9ca0c6" fill-opacity="0.35"/>
<ellipse cx="127.1" cy="296.7" rx="4.6" ry="5.4" transform="rotate(-20 127.1 296.7)" fill="#9ca0c6" fill-opacity="0.45"/>
<ellipse cx="196.4" cy="402.2" rx="4.9" ry="5.8" transform="rotate(0 196.4 402.2)" fill="#9ca0c6" fill-opacity="0.47"/>
<ellipse cx="130.4" cy="271.2" rx="4.3" ry="5.0" transform="rotate(-40 130.4 271.2)" fill="#9ca0c6" fill-opacity="0.39"/>
<ellipse cx="88.8" cy="294.9" rx="4.7" ry="5.5" transform="rotate(-10 88.8 294.9)" fill="#9ca0c6" fill-opacity="0.45"/>
<ellipse cx="162.5" cy="337.6" rx="5.0" ry="5.9" transform="rotate(-10 162.5 337.6)" fill="#9ca0c6" fill-opacity="0.38"/>
<ellipse cx="178.4" cy="336.8" rx="4.0" ry="4.7" transform="rotate(10 178.4 336.8)" fill="#9ca0c6" fill-opacity="0.47"/>
<ellipse cx="54.4" cy="382.9" rx="4.4" ry="5.2" transform="rotate(0 54.4 382.9)" fill="#9ca0c6" fill-opacity="0.34"/>
<ellipse cx="145.1" cy="265.8" rx="3.8" ry="4.5" transform="rotate(-40 145.1 265.8)" fill="#9ca0c6" fill-opacity="0.49"/>
<ellipse cx="271.8" cy="298.0" rx="4.7" ry="5.5" transform="rotate(0 271.8 298.0)" fill="#9ca0c6" fill-opacity="0.31"/>
<ellipse cx="262.7" cy="255.3" rx="4.0" ry="4.7" transform="rotate(10 262.7 255.3)" fill="#9ca0c6" fill-opacity="0.46"/>
<ellipse cx="276.6" cy="402.1" rx="5.1" ry="6.0" transform="rotate(-40 276.6 402.1)" fill="#9ca0c6" fill-opacity="0.36"/>
<ellipse cx="101.7" cy="276.0" rx="4.2" ry="4.9" transform="rotate(-30 101.7 276.0)" fill="#9ca0c6" fill-opacity="0.44"/>
<ellipse cx="197.2" cy="366.9" rx="4.3" ry="5.1" transform="rotate(0 197.2 366.9)" fill="#9ca0c6" fill-opacity="0.36"/>
<ellipse cx="135.8" cy="323.2" rx="5.0" ry="5.9" transform="rotate(-10 135.8 323.2)" fill="#9ca0c6" fill-opacity="0.41"/>
<ellipse cx="192.0" cy="309.4" rx="4.1" ry="4.8" transform="rotate(-40 192.0 309.4)" fill="#9ca0c6" fill-opacity="0.42"/>
<ellipse cx="194.8" cy="272.8" rx="3.8" ry="4.5" transform="rotate(0 194.8 272.8)" fill="#9ca0c6" fill-opacity="0.30"/>
<ellipse cx="145.5" cy="297.7" rx="4.8" ry="5.7" transform="rotate(-30 145.5 297.7)" fill="#9ca0c6" fill-opacity="0.50"/>
<ellipse cx="86.0" cy="254.0" rx="5.4" ry="6.3" transform="rotate(0 86.0 254.0)" fill="#9ca0c6" fill-opacity="0.45"/>
<ellipse cx="277.9" cy="384.3" rx="4.6" ry="5.4" transform="rotate(-30 277.9 384.3)" fill="#9ca0c6" fill-opacity="0.45"/>
<ellipse cx="106.2" cy="409.3" rx="5.0" ry="5.9" transform="rotate(0 106.2 409.3)" fill="#9ca0c6" fill-opacity="0.36"/>
<ellipse cx="114.9" cy="362.8" rx="3.9" ry="4.6" transform="rotate(-30 114.9 362.8)" fill="#9ca0c6" fill-opacity="0.45"/>
<ellipse cx="77.2" cy="299.8" rx="4.0" ry="4.7" transform="rotate(-40 77.2 299.8)" fill="#9ca0c6" fill-opacity="0.38"/>
<ellipse cx="117.2" cy="342.2" rx="4.6" ry="5.4" transform="rotate(-30 117.2 342.2)" fill="#9ca0c6" fill-opacity="0.43"/>
<ellipse cx="161.9" cy="380.9" rx="5.1" ry="6.0" transform="rotate(-20 161.9 380.9)" fill="#9ca0c6" fill-opacity="0.39"/>
<ellipse cx="112.1" cy="280.1" rx="5.1" ry="5.9" transform="rotate(-30 112.1 280.1)" fill="#9ca0c6" fill-opacity="0.39"/>
<ellipse cx="233.8" cy="396.3" rx="5.5" ry="6.5" transform="rotate(-30 233.8 396.3)" fill="#9ca0c6" fill-opacity="0.30"/>
<ellipse cx="82.2" cy="266.4" rx="4.8" ry="5.7" transform="rotate(-10 82.2 266.4)" fill="#9ca0c6" fill-opacity="0.49"/>
<ellipse cx="140.2" cy="369.1" rx="4.2" ry="4.9" transform="rotate(0 140.2 369.1)" fill="#9ca0c6" fill-opacity="0.33"/>
<ellipse cx="84.5" cy="383.8" rx="3.9" ry="4.6" transform="rotate(0 84.5 383.8)" fill="#9ca0c6" fill-opacity="0.48"/>
<ellipse cx="239.6" cy="275.8" rx="4.0" ry="4.7" transform="rotate(-30 239.6 275.8)" fill="#9ca0c6" fill-opacity="0.43"/>
<ellipse cx="182.6" cy="310.0" rx="4.3" ry="5.0" transform="rotate(10 182.6 310.0)" fill="#9ca0c6" fill-opacity="0.37"/>
<ellipse cx="190.8" cy="258.0" rx="4.9" ry="5.8" transform="rotate(10 190.8 258.0)" fill="#9ca0c6" fill-opacity="0.33"/>
<ellipse cx="244.5" cy="365.2" rx="5.4" ry="6.3" transform="rotate(10 244.5 365.2)" fill="#9ca0c6" fill-opacity="0.47"/>
<ellipse cx="105.2" cy="261.4" rx="4.4" ry="5.1" transform="rotate(10 105.2 261.4)" fill="#9ca0c6" fill-opacity="0.37"/>
<ellipse cx="128.0" cy="254.5" rx="5.4" ry="6.3" transform="rotate(-30 128.0 254.5)" fill="#9ca0c6" fill-opacity="0.38"/>
<ellipse cx="252.3" cy="311.7" rx="4.3" ry="5.1" transform="rotate(0 252.3 311.7)" fill="#9ca0c6" fill-opacity="0.45"/>
<ellipse cx="189.5" cy="377.2" rx="4.4" ry="5.1" transform="rotate(-30 189.5 377.2)" fill="#9ca0c6" fill-opacity="0.31"/>
<ellipse cx="51.7" cy="308.0" rx="5.0" ry="5.9" transform="rotate(-30 51.7 308.0)" fill="#9ca0c6" fill-opacity="0.37"/>
<ellipse cx="212.8" cy="253.9" rx="4.6" ry="5.4" transform="rotate(-40 212.8 253.9)" fill="#9ca0c6" fill-opacity="0.48"/>
<ellipse cx="210.2" cy="380.8" rx="5.1" ry="6.0" transform="rotate(-40 210.2 380.8)" fill="#9ca0c6" fill-opacity="0.31"/>
<ellipse cx="236.3" cy="320.2" rx="3.9" ry="4.6" transform="rotate(10 236.3 320.2)" fill="#9ca0c6" fill-opacity="0.37"/>
<ellipse cx="160.8" cy="355.1" rx="3.9" ry="4.5" transform="rotate(-30 160.8 355.1)" fill="#9ca0c6" fill-opacity="0.31"/>
<ellipse cx="131.8" cy="380.5" rx="4.2" ry="5.0" transform="rotate(0 131.8 380.5)" fill="#9ca0c6" fill-opacity="0.37"/>
<ellipse cx="212.6" cy="393.0" rx="4.4" ry="5.2" transform="rotate(-20 212.6 393.0)" fill="#9ca0c6" fill-opacity="0.39"/>
<ellipse cx="245.8" cy="397.0" rx="4.7" ry="5.6" transform="rotate(-10 245.8 397.0)" fill="#9ca0c6" fill-opacity="0.37"/>
<ellipse cx="139.2" cy="356.2" rx="5.2" ry="6.1" transform="rotate(0 139.2 356.2)" fill="#9ca0c6" fill-opacity="0.46"/>
<ellipse cx="240.7" cy="329.4" rx="4.2" ry="4.9" transform="rotate(-10 240.7 329.4)" fill="#9ca0c6" fill-opacity="0.37"/>
<ellipse cx="69.6" cy="266.0" rx="4.4" ry="5.2" transform="rotate(-40 69.6 266.0)" fill="#9ca0c6" fill-opacity="0.31"/>
<ellipse cx="99.0" cy="253.1" rx="4.2" ry="4.9" transform="rotate(-10 99.0 253.1)" fill="#9ca0c6" fill-opacity="0.49"/>
<ellipse cx="116.9" cy="293.4" rx="4.0" ry="4.7" transform="rotate(10 116.9 293.4)" fill="#9ca0c6" fill-opacity="0.45"/>
<ellipse cx="65.7" cy="335.8" rx="4.7" ry="5.5" transform="rotate(-10 65.7 335.8)" fill="#9ca0c6" fill-opacity="0.50"/>
<ellipse cx="198.3" cy="296.0" rx="4.6" ry="5.4" transform="rotate(10 198.3 296.0)" fill="#9ca0c6" fill-opacity="0.49"/>
<ellipse cx="79.9" cy="333.4" rx="3.9" ry="4.5" transform="rotate(-20 79.9 333.4)" fill="#9ca0c6" fill-opacity="0.43"/>
<ellipse cx="164.9" cy="411.4" rx="5.3" ry="6.3" transform="rotate(10 164.9 411.4)" fill="#9ca0c6" fill-opacity="0.37"/>
<ellipse cx="121.0" cy="319.7" rx="4.1" ry="4.8" transform="rotate(-40 121.0 319.7)" fill="#9ca0c6" fill-opacity="0.43"/>
<ellipse cx="97.7" cy="314.1" rx="4.3" ry="5.0" transform="rotate(-30 97.7 314.1)" fill="#9ca0c6" fill-opacity="0.31"/>
<ellipse cx="277.4" cy="344.2" rx="5.3" ry="6.3" transform="rotate(-30 277.4 344.2)" fill="#9ca0c6" fill-opacity="0.46"/>
<ellipse cx="69.0" cy="412.8" rx="4.1" ry="4.9" transform="rotate(-30 69.0 412.8)" fill="#9ca0c6" fill-opacity="0.49"/>
<ellipse cx="212.0" cy="407.4" rx="4.4" ry="5.2" transform="rotate(0 212.0 407.4)" fill="#9ca0c6" fill-opacity="0.40"/>
<ellipse cx="50.2" cy="281.8" rx="4.4" ry="5.2" transform="rotate(0 50.2 281.8)" fill="#9ca0c6" fill-opacity="0.48"/>
<ellipse cx="102.5" cy="364.6" rx="5.4" ry="6.3" transform="rotate(-30 102.5 364.6)" fill="#9ca0c6" fill-opacity="0.39"/>
<ellipse cx="173.6" cy="254.1" rx="4.7" ry="5.6" transform="rotate(10 173.6 254.1)" fill="#9ca0c6" fill-opacity="0.34"/>
<ellipse cx="129.2" cy="403.8" rx="4.9" ry="5.8" transform="rotate(10 129.2 403.8)" fill="#9ca0c6" fill-opacity="0.49"/>
<ellipse cx="228.3" cy="333.9" rx="4.8" ry="5.6" transform="rotate(0 228.3 333.9)" fill="#9ca0c6" fill-opacity="0.47"/>
<ellipse cx="181.5" cy="402.0" rx="4.1" ry="4.8" transform="rotate(10 181.5 402.0)" fill="#9ca0c6" fill-opacity="0.44"/>
<ellipse cx="99.1" cy="286.3" rx="4.0" ry="4.7" transform="rotate(10 99.1 286.3)" fill="#9ca0c6" fill-opacity="0.33"/>
<ellipse cx="52.3" cy="335.2" rx="4.7" ry="5.5" transform="rotate(10 52.3 335.2)" fill="#9ca0c6" fill-opacity="0.45"/>
<ellipse cx="54.6" cy="254.0" rx="4.3" ry="5.0" transform="rotate(-20 54.6 254.0)" fill="#9ca0c6" fill-opacity="0.36"/>
<ellipse cx="252.4" cy="288.1" rx="4.2" ry="4.9" transform="rotate(0 252.4 288.1)" fill="#9ca0c6" fill-opacity="0.34"/>
<ellipse cx="266.8" cy="307.1" rx="4.0" ry="4.8" transform="rotate(-10 266.8 307.1)" fill="#9ca0c6" fill-opacity="0.36"/>
<ellipse cx="201.9" cy="278.2" rx="4.1" ry="4.8" transform="rotate(-20 201.9 278.2)" fill="#9ca0c6" fill-opacity="0.45"/>
<ellipse cx="176.6" cy="391.8" rx="4.1" ry="4.9" transform="rotate(-20 176.6 391.8)" fill="#9ca0c6" fill-opacity="0.39"/>
<ellipse cx="266.8" cy="411.7" rx="4.7" ry="5.6" transform="rotate(0 266.8 411.7)" fill="#9ca0c6" fill-opacity="0.37"/>
<ellipse cx="257.0" cy="369.8" rx="3.8" ry="4.5" transform="rotate(-40 257.0 369.8)" fill="#9ca0c6" fill-opacity="0.42"/>
<ellipse cx="141.9" cy="312.3" rx="5.3" ry="6.2" transform="rotate(-30 141.9 312.3)" fill="#9ca0c6" fill-opacity="0.43"/>
<ellipse cx="63.2" cy="392.8" rx="4.8" ry="5.6" transform="rotate(0 63.2 392.8)" fill="#9ca0c6" fill-opacity="0.47"/>
<ellipse cx="118.2" cy="390.2" rx="4.5" ry="5.3" transform="rotate(10 118.2 390.2)" fill="#9ca0c6" fill-opacity="0.31"/>
<ellipse cx="195.2" cy="345.6" rx="4.2" ry="4.9" transform="rotate(-10 195.2 345.6)" fill="#9ca0c6" fill-opacity="0.38"/>
<ellipse cx="152.1" cy="256.7" rx="5.5" ry="6.4" transform="rotate(0 152.1 256.7)" fill="#9ca0c6" fill-opacity="0.34"/>
<ellipse cx="176.0" cy="410.0" rx="3.8" ry="4.5" transform="rotate(0 176.0 410.0)" fill="#9ca0c6" fill-opacity="0.35"/>
<ellipse cx="156.7" cy="391.0" rx="4.1" ry="4.8" transform="rotate(10 156.7 391.0)" fill="#9ca0c6" fill-opacity="0.36"/>
<ellipse cx="103.9" cy="337.4" rx="5.4" ry="6.4" transform="rotate(-40 103.9 337.4)" fill="#9ca0c6" fill-opacity="0.48"/>
<ellipse cx="150.9" cy="332.5" rx="4.2" ry="5.0" transform="rotate(10 150.9 332.5)" fill="#9ca0c6" fill-opacity="0.46"/>
<ellipse cx="128.4" cy="313.4" rx="4.2" ry="4.9" transform="rotate(-30 128.4 313.4)" fill="#9ca0c6" fill-opacity="0.31"/>
<ellipse cx="239.0" cy="263.7" rx="4.1" ry="4.9" transform="rotate(10 239.0 263.7)" fill="#9ca0c6" fill-opacity="0.42"/>
<ellipse cx="276.9" cy="317.9" rx="3.9" ry="4.6" transform="rotate(10 276.9 317.9)" fill="#9ca0c6" fill-opacity="0.47"/>
<ellipse cx="53.5" cy="364.0" rx="3.9" ry="4.5" transform="rotate(-10 53.5 364.0)" fill="#9ca0c6" fill-opacity="0.32"/>
<ellipse cx="166.2" cy="270.9" rx="4.2" ry="5.0" transform="rotate(0 166.2 270.9)" fill="#9ca0c6" fill-opacity="0.40"/>
<ellipse cx="116.7" cy="353.6" rx="4.1" ry="4.8" transform="rotate(-20 116.7 353.6)" fill="#9ca0c6" fill-opacity="0.35"/>
<ellipse cx="144.6" cy="413.0" rx="3.9" ry="4.6" transform="rotate(-30 144.6 413.0)" fill="#9ca0c6" fill-opacity="0.34"/>
<ellipse cx="200.2" cy="334.4" rx="4.9" ry="5.8" transform="rotate(-20 200.2 334.4)" fill="#9ca0c6" fill-opacity="0.50"/>
<ellipse cx="151.9" cy="289.1" rx="4.2" ry="4.9" transform="rotate(0 151.9 289.1)" fill="#9ca0c6" fill-opacity="0.32"/>
<ellipse cx="78.6" cy="290.2" rx="4.4" ry="5.1" transform="rotate(-40 78.6 290.2)" fill="#9ca0c6" fill-opacity="0.44"/>
</g>
<rect x="51.50" y="255.00" width="224.40" height="156.00" fill="#fff" filter="url(#brownTex2)"/>
<rect x="51.50" y="255.00" width="224.40" height="156.00" fill="#fff" filter="url(#brownTex)"/>
<g filter="url(#blur12)">
<ellipse cx="59.9" cy="277" rx="6.5" ry="7.0" transform="rotate(0 59.9 277)" fill="none" stroke="#b07c50" stroke-width="2.4" stroke-opacity="0.4"/>
<ellipse cx="76.3" cy="274.8" rx="6.0" ry="5.2" transform="rotate(0 76.3 274.8)" fill="none" stroke="#b07c50" stroke-width="2.4" stroke-opacity="0.4"/>
<ellipse cx="88.4" cy="280.3" rx="7.5" ry="10.5" transform="rotate(-20 88.4 280.3)" fill="none" stroke="#b07c50" stroke-width="2.4" stroke-opacity="0.4"/>
<ellipse cx="55.5" cy="293.5" rx="5.5" ry="8.5" transform="rotate(0 55.5 293.5)" fill="none" stroke="#b07c50" stroke-width="2.4" stroke-opacity="0.4"/>
<ellipse cx="68.6" cy="306.6" rx="9.5" ry="8.5" transform="rotate(0 68.6 306.6)" fill="none" stroke="#b07c50" stroke-width="2.4" stroke-opacity="0.4"/>
<ellipse cx="103.7" cy="299" rx="6.5" ry="9.5" transform="rotate(-10 103.7 299)" fill="none" stroke="#b07c50" stroke-width="2.4" stroke-opacity="0.4"/>
<ellipse cx="125.7" cy="282.5" rx="8.5" ry="8.5" transform="rotate(0 125.7 282.5)" fill="none" stroke="#b07c50" stroke-width="2.4" stroke-opacity="0.4"/>
<ellipse cx="140" cy="280.3" rx="7.5" ry="9.5" transform="rotate(0 140 280.3)" fill="none" stroke="#b07c50" stroke-width="2.4" stroke-opacity="0.4"/>
<ellipse cx="115.8" cy="304.4" rx="9.5" ry="7.0" transform="rotate(-30 115.8 304.4)" fill="none" stroke="#b07c50" stroke-width="2.4" stroke-opacity="0.4"/>
<ellipse cx="109.2" cy="317.6" rx="8.5" ry="6.5" transform="rotate(0 109.2 317.6)" fill="none" stroke="#b07c50" stroke-width="2.4" stroke-opacity="0.4"/>
<ellipse cx="82.9" cy="319.8" rx="8.5" ry="7.5" transform="rotate(0 82.9 319.8)" fill="none" stroke="#b07c50" stroke-width="2.4" stroke-opacity="0.4"/>
<ellipse cx="131" cy="304.4" rx="6.0" ry="5.5" transform="rotate(0 131 304.4)" fill="none" stroke="#b07c50" stroke-width="2.4" stroke-opacity="0.4"/>
<ellipse cx="153" cy="308.8" rx="7.5" ry="6.5" transform="rotate(0 153 308.8)" fill="none" stroke="#b07c50" stroke-width="2.4" stroke-opacity="0.4"/>
<ellipse cx="151" cy="322" rx="8.5" ry="7.5" transform="rotate(0 151 322)" fill="none" stroke="#b07c50" stroke-width="2.4" stroke-opacity="0.4"/>
<ellipse cx="56.6" cy="319.8" rx="6.5" ry="8.5" transform="rotate(0 56.6 319.8)" fill="none" stroke="#b07c50" stroke-width="2.4" stroke-opacity="0.4"/>
<ellipse cx="159.6" cy="282.5" rx="6.5" ry="7.5" transform="rotate(0 159.6 282.5)" fill="none" stroke="#b07c50" stroke-width="2.4" stroke-opacity="0.4"/>
<ellipse cx="157.5" cy="295.7" rx="6.5" ry="6.5" transform="rotate(0 157.5 295.7)" fill="none" stroke="#b07c50" stroke-width="2.4" stroke-opacity="0.4"/>
<ellipse cx="93.9" cy="328.6" rx="8.5" ry="6.5" transform="rotate(0 93.9 328.6)" fill="none" stroke="#b07c50" stroke-width="2.4" stroke-opacity="0.4"/>
<ellipse cx="113.6" cy="328.6" rx="7.5" ry="6.5" transform="rotate(0 113.6 328.6)" fill="none" stroke="#b07c50" stroke-width="2.4" stroke-opacity="0.4"/>
<ellipse cx="212.2" cy="266.5" rx="10.0" ry="9.0" transform="rotate(0 212.2 266.5)" fill="none" stroke="#b07c50" stroke-width="2.4" stroke-opacity="0.4"/>
<ellipse cx="231.5" cy="268.7" rx="7.0" ry="6.5" transform="rotate(0 231.5 268.7)" fill="none" stroke="#b07c50" stroke-width="2.4" stroke-opacity="0.4"/>
<ellipse cx="230.3" cy="280" rx="6.5" ry="5.5" transform="rotate(0 230.3 280)" fill="none" stroke="#b07c50" stroke-width="2.4" stroke-opacity="0.4"/>
<ellipse cx="180.4" cy="271" rx="10.0" ry="7.5" transform="rotate(0 180.4 271)" fill="none" stroke="#b07c50" stroke-width="2.4" stroke-opacity="0.4"/>
<ellipse cx="172.5" cy="285.8" rx="12.0" ry="11.0" transform="rotate(0 172.5 285.8)" fill="none" stroke="#b07c50" stroke-width="2.4" stroke-opacity="0.4"/>
<ellipse cx="191.8" cy="284.6" rx="10.0" ry="7.5" transform="rotate(0 191.8 284.6)" fill="none" stroke="#b07c50" stroke-width="2.4" stroke-opacity="0.4"/>
<ellipse cx="212.2" cy="289.2" rx="12.0" ry="8.5" transform="rotate(-25 212.2 289.2)" fill="none" stroke="#b07c50" stroke-width="2.4" stroke-opacity="0.4"/>
<ellipse cx="237.2" cy="291.4" rx="8.5" ry="8.5" transform="rotate(0 237.2 291.4)" fill="none" stroke="#b07c50" stroke-width="2.4" stroke-opacity="0.4"/>
<ellipse cx="255.3" cy="276.7" rx="8.5" ry="10.0" transform="rotate(0 255.3 276.7)" fill="none" stroke="#b07c50" stroke-width="2.4" stroke-opacity="0.4"/>
<ellipse cx="271.2" cy="265.3" rx="6.5" ry="8.5" transform="rotate(0 271.2 265.3)" fill="none" stroke="#b07c50" stroke-width="2.4" stroke-opacity="0.4"/>
<ellipse cx="271.2" cy="285.8" rx="6.5" ry="8.5" transform="rotate(0 271.2 285.8)" fill="none" stroke="#b07c50" stroke-width="2.4" stroke-opacity="0.4"/>
<ellipse cx="169" cy="308.5" rx="11.0" ry="8.0" transform="rotate(0 169 308.5)" fill="none" stroke="#b07c50" stroke-width="2.4" stroke-opacity="0.4"/>
<ellipse cx="185" cy="299.4" rx="8.5" ry="8.5" transform="rotate(0 185 299.4)" fill="none" stroke="#b07c50" stroke-width="2.4" stroke-opacity="0.4"/>
<ellipse cx="194" cy="319.8" rx="8.5" ry="8.5" transform="rotate(0 194 319.8)" fill="none" stroke="#b07c50" stroke-width="2.4" stroke-opacity="0.4"/>
<ellipse cx="209.9" cy="311.9" rx="7.5" ry="8.5" transform="rotate(0 209.9 311.9)" fill="none" stroke="#b07c50" stroke-width="2.4" stroke-opacity="0.4"/>
<ellipse cx="223.5" cy="319.8" rx="10.0" ry="9.5" transform="rotate(0 223.5 319.8)" fill="none" stroke="#b07c50" stroke-width="2.4" stroke-opacity="0.4"/>
<ellipse cx="239.4" cy="302.8" rx="7.5" ry="6.5" transform="rotate(0 239.4 302.8)" fill="none" stroke="#b07c50" stroke-width="2.4" stroke-opacity="0.4"/>
<ellipse cx="257.6" cy="299.4" rx="8.5" ry="7.5" transform="rotate(0 257.6 299.4)" fill="none" stroke="#b07c50" stroke-width="2.4" stroke-opacity="0.4"/>
<ellipse cx="266.6" cy="317.5" rx="7.5" ry="8.5" transform="rotate(0 266.6 317.5)" fill="none" stroke="#b07c50" stroke-width="2.4" stroke-opacity="0.4"/>
<ellipse cx="166.8" cy="326.6" rx="7.0" ry="7.0" transform="rotate(0 166.8 326.6)" fill="none" stroke="#b07c50" stroke-width="2.4" stroke-opacity="0.4"/>
<ellipse cx="54.4" cy="346.4" rx="6.0" ry="7.5" transform="rotate(0 54.4 346.4)" fill="none" stroke="#b07c50" stroke-width="2.4" stroke-opacity="0.4"/>
<ellipse cx="58.8" cy="357.4" rx="6.5" ry="5.5" transform="rotate(0 58.8 357.4)" fill="none" stroke="#b07c50" stroke-width="2.4" stroke-opacity="0.4"/>
<ellipse cx="69.7" cy="346.4" rx="8.5" ry="8.0" transform="rotate(0 69.7 346.4)" fill="none" stroke="#b07c50" stroke-width="2.4" stroke-opacity="0.4"/>
<ellipse cx="82.9" cy="355.2" rx="9.0" ry="14.0" transform="rotate(25 82.9 355.2)" fill="none" stroke="#b07c50" stroke-width="2.4" stroke-opacity="0.4"/>
<ellipse cx="91.7" cy="333.3" rx="9.5" ry="5.5" transform="rotate(0 91.7 333.3)" fill="none" stroke="#b07c50" stroke-width="2.4" stroke-opacity="0.4"/>
<ellipse cx="102.6" cy="350.8" rx="8.5" ry="9.5" transform="rotate(0 102.6 350.8)" fill="none" stroke="#b07c50" stroke-width="2.4" stroke-opacity="0.4"/>
<ellipse cx="113.6" cy="332.2" rx="7.0" ry="5.5" transform="rotate(0 113.6 332.2)" fill="none" stroke="#b07c50" stroke-width="2.4" stroke-opacity="0.4"/>
<ellipse cx="127.9" cy="350.8" rx="9.5" ry="8.5" transform="rotate(0 127.9 350.8)" fill="none" stroke="#b07c50" stroke-width="2.4" stroke-opacity="0.4"/>
<ellipse cx="137.7" cy="337.7" rx="7.0" ry="6.0" transform="rotate(0 137.7 337.7)" fill="none" stroke="#b07c50" stroke-width="2.4" stroke-opacity="0.4"/>
<ellipse cx="150.9" cy="347.5" rx="8.0" ry="10.0" transform="rotate(0 150.9 347.5)" fill="none" stroke="#b07c50" stroke-width="2.4" stroke-opacity="0.4"/>
<ellipse cx="129" cy="365" rx="9.5" ry="7.0" transform="rotate(0 129 365)" fill="none" stroke="#b07c50" stroke-width="2.4" stroke-opacity="0.4"/>
<ellipse cx="150.9" cy="367.3" rx="7.5" ry="8.5" transform="rotate(0 150.9 367.3)" fill="none" stroke="#b07c50" stroke-width="2.4" stroke-opacity="0.4"/>
<ellipse cx="107" cy="379.3" rx="11.0" ry="8.0" transform="rotate(0 107 379.3)" fill="none" stroke="#b07c50" stroke-width="2.4" stroke-opacity="0.4"/>
<ellipse cx="74.1" cy="388.1" rx="8.5" ry="9.0" transform="rotate(0 74.1 388.1)" fill="none" stroke="#b07c50" stroke-width="2.4" stroke-opacity="0.4"/>
<ellipse cx="85" cy="395.8" rx="8.5" ry="8.5" transform="rotate(0 85 395.8)" fill="none" stroke="#b07c50" stroke-width="2.4" stroke-opacity="0.4"/>
<ellipse cx="102.6" cy="392.5" rx="9.5" ry="7.5" transform="rotate(0 102.6 392.5)" fill="none" stroke="#b07c50" stroke-width="2.4" stroke-opacity="0.4"/>
<ellipse cx="118" cy="402.4" rx="8.5" ry="8.5" transform="rotate(0 118 402.4)" fill="none" stroke="#b07c50" stroke-width="2.4" stroke-opacity="0.4"/>
<ellipse cx="129" cy="391.4" rx="7.0" ry="7.0" transform="rotate(0 129 391.4)" fill="none" stroke="#b07c50" stroke-width="2.4" stroke-opacity="0.4"/>
<ellipse cx="146.5" cy="382.6" rx="12.0" ry="8.5" transform="rotate(0 146.5 382.6)" fill="none" stroke="#b07c50" stroke-width="2.4" stroke-opacity="0.4"/>
<ellipse cx="142.1" cy="402.4" rx="9.5" ry="7.5" transform="rotate(0 142.1 402.4)" fill="none" stroke="#b07c50" stroke-width="2.4" stroke-opacity="0.4"/>
<ellipse cx="61" cy="405.7" rx="8.5" ry="6.5" transform="rotate(0 61 405.7)" fill="none" stroke="#b07c50" stroke-width="2.4" stroke-opacity="0.4"/>
<ellipse cx="159.6" cy="400.2" rx="7.0" ry="7.0" transform="rotate(0 159.6 400.2)" fill="none" stroke="#b07c50" stroke-width="2.4" stroke-opacity="0.4"/>
<ellipse cx="169" cy="348.2" rx="8.0" ry="8.5" transform="rotate(0 169 348.2)" fill="none" stroke="#b07c50" stroke-width="2.4" stroke-opacity="0.4"/>
<ellipse cx="171.3" cy="362.9" rx="7.0" ry="8.5" transform="rotate(0 171.3 362.9)" fill="none" stroke="#b07c50" stroke-width="2.4" stroke-opacity="0.4"/>
<ellipse cx="185" cy="351.6" rx="7.5" ry="8.0" transform="rotate(0 185 351.6)" fill="none" stroke="#b07c50" stroke-width="2.4" stroke-opacity="0.4"/>
<ellipse cx="175.9" cy="375.4" rx="11.0" ry="8.5" transform="rotate(0 175.9 375.4)" fill="none" stroke="#b07c50" stroke-width="2.4" stroke-opacity="0.4"/>
<ellipse cx="197.4" cy="384.5" rx="8.5" ry="8.0" transform="rotate(0 197.4 384.5)" fill="none" stroke="#b07c50" stroke-width="2.4" stroke-opacity="0.4"/>
<ellipse cx="208.8" cy="358.4" rx="8.5" ry="8.5" transform="rotate(0 208.8 358.4)" fill="none" stroke="#b07c50" stroke-width="2.4" stroke-opacity="0.4"/>
<ellipse cx="220.1" cy="343.6" rx="8.5" ry="7.0" transform="rotate(0 220.1 343.6)" fill="none" stroke="#b07c50" stroke-width="2.4" stroke-opacity="0.4"/>
<ellipse cx="237.2" cy="342.5" rx="8.0" ry="8.0" transform="rotate(0 237.2 342.5)" fill="none" stroke="#b07c50" stroke-width="2.4" stroke-opacity="0.4"/>
<ellipse cx="247.4" cy="351.6" rx="6.5" ry="6.5" transform="rotate(0 247.4 351.6)" fill="none" stroke="#b07c50" stroke-width="2.4" stroke-opacity="0.4"/>
<ellipse cx="255.3" cy="359.5" rx="8.5" ry="7.0" transform="rotate(0 255.3 359.5)" fill="none" stroke="#b07c50" stroke-width="2.4" stroke-opacity="0.4"/>
<ellipse cx="266.6" cy="348.2" rx="8.0" ry="7.5" transform="rotate(0 266.6 348.2)" fill="none" stroke="#b07c50" stroke-width="2.4" stroke-opacity="0.4"/>
<ellipse cx="268.9" cy="370.8" rx="7.5" ry="7.5" transform="rotate(0 268.9 370.8)" fill="none" stroke="#b07c50" stroke-width="2.4" stroke-opacity="0.4"/>
<ellipse cx="232.6" cy="381" rx="10.0" ry="7.5" transform="rotate(0 232.6 381)" fill="none" stroke="#b07c50" stroke-width="2.4" stroke-opacity="0.4"/>
<ellipse cx="248.5" cy="381" rx="8.5" ry="7.5" transform="rotate(0 248.5 381)" fill="none" stroke="#b07c50" stroke-width="2.4" stroke-opacity="0.4"/>
<ellipse cx="259.8" cy="389" rx="7.0" ry="7.0" transform="rotate(0 259.8 389)" fill="none" stroke="#b07c50" stroke-width="2.4" stroke-opacity="0.4"/>
<ellipse cx="166.8" cy="400.3" rx="7.0" ry="6.0" transform="rotate(0 166.8 400.3)" fill="none" stroke="#b07c50" stroke-width="2.4" stroke-opacity="0.4"/>
<ellipse cx="60" cy="374" rx="7.0" ry="8.0" transform="rotate(0 60 374)" fill="none" stroke="#b07c50" stroke-width="2.4" stroke-opacity="0.4"/>
<ellipse cx="120" cy="375" rx="6.0" ry="6.0" transform="rotate(0 120 375)" fill="none" stroke="#b07c50" stroke-width="2.4" stroke-opacity="0.4"/>
<ellipse cx="92" cy="374" rx="6.0" ry="5.5" transform="rotate(0 92 374)" fill="none" stroke="#b07c50" stroke-width="2.4" stroke-opacity="0.4"/>
<ellipse cx="206" cy="400" rx="7.0" ry="6.0" transform="rotate(0 206 400)" fill="none" stroke="#b07c50" stroke-width="2.4" stroke-opacity="0.4"/>
<ellipse cx="190" cy="332" rx="7.0" ry="6.0" transform="rotate(0 190 332)" fill="none" stroke="#b07c50" stroke-width="2.4" stroke-opacity="0.4"/>
</g>
<g filter="url(#blur08)">
<ellipse cx="59.9" cy="277" rx="4.1" ry="5.6" transform="rotate(-30 59.9 277)" fill="#868dc2" fill-opacity="0.90" stroke="#6a70a8" stroke-width="0.9" stroke-opacity="0.63"/>
<ellipse cx="76.3" cy="274.8" rx="3.6" ry="3.7" transform="rotate(-30 76.3 274.8)" fill="#8088c0" fill-opacity="0.90" stroke="#6a70a8" stroke-width="0.9" stroke-opacity="0.63"/>
<ellipse cx="88.4" cy="280.3" rx="5.5" ry="8.4" transform="rotate(-20 88.4 280.3)" fill="#9096c6" fill-opacity="0.90" stroke="#6a70a8" stroke-width="0.9" stroke-opacity="0.63"/>
<ellipse cx="55.5" cy="293.5" rx="3.6" ry="6.5" transform="rotate(0 55.5 293.5)" fill="#848cc4" fill-opacity="0.90" stroke="#6a70a8" stroke-width="0.9" stroke-opacity="0.63"/>
<ellipse cx="68.6" cy="306.6" rx="6.6" ry="7.2" transform="rotate(-40 68.6 306.6)" fill="#9096c6" fill-opacity="0.75" stroke="#6a70a8" stroke-width="0.9" stroke-opacity="0.52"/>
<ellipse cx="103.7" cy="299" rx="4.6" ry="7.4" transform="rotate(-10 103.7 299)" fill="#868dc2" fill-opacity="0.65" stroke="#6a70a8" stroke-width="0.9" stroke-opacity="0.45"/>
<ellipse cx="125.7" cy="282.5" rx="5.7" ry="7.2" transform="rotate(-30 125.7 282.5)" fill="#9096c6" fill-opacity="0.90" stroke="#6a70a8" stroke-width="0.9" stroke-opacity="0.63"/>
<ellipse cx="140" cy="280.3" rx="5.5" ry="7.4" transform="rotate(0 140 280.3)" fill="#9096c6" fill-opacity="0.85" stroke="#6a70a8" stroke-width="0.9" stroke-opacity="0.59"/>
<ellipse cx="115.8" cy="304.4" rx="7.4" ry="5.0" transform="rotate(-30 115.8 304.4)" fill="#8c93c6" fill-opacity="0.65" stroke="#6a70a8" stroke-width="0.9" stroke-opacity="0.45"/>
<ellipse cx="109.2" cy="317.6" rx="6.5" ry="4.6" transform="rotate(10 109.2 317.6)" fill="#8c93c6" fill-opacity="0.90" stroke="#6a70a8" stroke-width="0.9" stroke-opacity="0.63"/>
<ellipse cx="82.9" cy="319.8" rx="5.7" ry="6.2" transform="rotate(-10 82.9 319.8)" fill="#848cc4" fill-opacity="0.90" stroke="#6a70a8" stroke-width="0.9" stroke-opacity="0.63"/>
<ellipse cx="131" cy="304.4" rx="3.6" ry="4.0" transform="rotate(-40 131 304.4)" fill="#8c93c6" fill-opacity="0.90" stroke="#6a70a8" stroke-width="0.9" stroke-opacity="0.63"/>
<ellipse cx="153" cy="308.8" rx="4.9" ry="5.1" transform="rotate(-40 153 308.8)" fill="#8088c0" fill-opacity="0.50" stroke="#6a70a8" stroke-width="0.9" stroke-opacity="0.35"/>
<ellipse cx="151" cy="322" rx="5.7" ry="6.2" transform="rotate(-20 151 322)" fill="#9096c6" fill-opacity="0.90" stroke="#6a70a8" stroke-width="0.9" stroke-opacity="0.63"/>
<ellipse cx="56.6" cy="319.8" rx="4.6" ry="6.5" transform="rotate(10 56.6 319.8)" fill="#9096c6" fill-opacity="0.90" stroke="#6a70a8" stroke-width="0.9" stroke-opacity="0.63"/>
<ellipse cx="159.6" cy="282.5" rx="4.1" ry="6.2" transform="rotate(-10 159.6 282.5)" fill="#9096c6" fill-opacity="0.90" stroke="#6a70a8" stroke-width="0.9" stroke-opacity="0.63"/>
<ellipse cx="157.5" cy="295.7" rx="4.1" ry="5.1" transform="rotate(0 157.5 295.7)" fill="#9096c6" fill-opacity="0.65" stroke="#6a70a8" stroke-width="0.9" stroke-opacity="0.45"/>
<ellipse cx="93.9" cy="328.6" rx="6.5" ry="4.6" transform="rotate(-20 93.9 328.6)" fill="#848cc4" fill-opacity="0.50" stroke="#6a70a8" stroke-width="0.9" stroke-opacity="0.35"/>
<ellipse cx="113.6" cy="328.6" rx="4.9" ry="5.1" transform="rotate(-30 113.6 328.6)" fill="#9096c6" fill-opacity="0.65" stroke="#6a70a8" stroke-width="0.9" stroke-opacity="0.45"/>
<ellipse cx="212.2" cy="266.5" rx="7.0" ry="7.7" transform="rotate(-20 212.2 266.5)" fill="#9096c6" fill-opacity="0.90" stroke="#6a70a8" stroke-width="0.9" stroke-opacity="0.63"/>
<ellipse cx="231.5" cy="268.7" rx="4.5" ry="5.1" transform="rotate(-20 231.5 268.7)" fill="#9096c6" fill-opacity="0.90" stroke="#6a70a8" stroke-width="0.9" stroke-opacity="0.63"/>
<ellipse cx="230.3" cy="280" rx="4.1" ry="4.0" transform="rotate(-10 230.3 280)" fill="#868dc2" fill-opacity="0.75" stroke="#6a70a8" stroke-width="0.9" stroke-opacity="0.52"/>
<ellipse cx="180.4" cy="271" rx="7.9" ry="5.5" transform="rotate(0 180.4 271)" fill="#868dc2" fill-opacity="0.85" stroke="#6a70a8" stroke-width="0.9" stroke-opacity="0.59"/>
<ellipse cx="172.5" cy="285.8" rx="8.7" ry="9.9" transform="rotate(0 172.5 285.8)" fill="#8c93c6" fill-opacity="0.75" stroke="#6a70a8" stroke-width="0.9" stroke-opacity="0.52"/>
<ellipse cx="191.8" cy="284.6" rx="7.9" ry="5.5" transform="rotate(10 191.8 284.6)" fill="#848cc4" fill-opacity="0.75" stroke="#6a70a8" stroke-width="0.9" stroke-opacity="0.52"/>
<ellipse cx="212.2" cy="289.2" rx="9.8" ry="6.5" transform="rotate(-25 212.2 289.2)" fill="#868dc2" fill-opacity="0.90" stroke="#6a70a8" stroke-width="0.9" stroke-opacity="0.63"/>
<ellipse cx="237.2" cy="291.4" rx="5.7" ry="7.2" transform="rotate(10 237.2 291.4)" fill="#8c93c6" fill-opacity="0.90" stroke="#6a70a8" stroke-width="0.9" stroke-opacity="0.63"/>
<ellipse cx="255.3" cy="276.7" rx="6.5" ry="7.9" transform="rotate(-20 255.3 276.7)" fill="#868dc2" fill-opacity="0.90" stroke="#6a70a8" stroke-width="0.9" stroke-opacity="0.63"/>
<ellipse cx="271.2" cy="265.3" rx="4.6" ry="6.5" transform="rotate(0 271.2 265.3)" fill="#848cc4" fill-opacity="0.90" stroke="#6a70a8" stroke-width="0.9" stroke-opacity="0.63"/>
<ellipse cx="271.2" cy="285.8" rx="4.6" ry="6.5" transform="rotate(10 271.2 285.8)" fill="#8c93c6" fill-opacity="0.90" stroke="#6a70a8" stroke-width="0.9" stroke-opacity="0.63"/>
<ellipse cx="169" cy="308.5" rx="8.8" ry="6.0" transform="rotate(0 169 308.5)" fill="#8088c0" fill-opacity="0.75" stroke="#6a70a8" stroke-width="0.9" stroke-opacity="0.52"/>
<ellipse cx="185" cy="299.4" rx="5.7" ry="7.2" transform="rotate(-40 185 299.4)" fill="#848cc4" fill-opacity="0.85" stroke="#6a70a8" stroke-width="0.9" stroke-opacity="0.59"/>
<ellipse cx="194" cy="319.8" rx="5.7" ry="7.2" transform="rotate(10 194 319.8)" fill="#9096c6" fill-opacity="0.50" stroke="#6a70a8" stroke-width="0.9" stroke-opacity="0.35"/>
<ellipse cx="209.9" cy="311.9" rx="4.9" ry="7.2" transform="rotate(-20 209.9 311.9)" fill="#848cc4" fill-opacity="0.85" stroke="#6a70a8" stroke-width="0.9" stroke-opacity="0.59"/>
<ellipse cx="223.5" cy="319.8" rx="7.0" ry="8.3" transform="rotate(-30 223.5 319.8)" fill="#848cc4" fill-opacity="0.75" stroke="#6a70a8" stroke-width="0.9" stroke-opacity="0.52"/>
<ellipse cx="239.4" cy="302.8" rx="4.9" ry="5.1" transform="rotate(-10 239.4 302.8)" fill="#9096c6" fill-opacity="0.50" stroke="#6a70a8" stroke-width="0.9" stroke-opacity="0.35"/>
<ellipse cx="257.6" cy="299.4" rx="5.7" ry="6.2" transform="rotate(-40 257.6 299.4)" fill="#868dc2" fill-opacity="0.90" stroke="#6a70a8" stroke-width="0.9" stroke-opacity="0.63"/>
<ellipse cx="266.6" cy="317.5" rx="4.9" ry="7.2" transform="rotate(-40 266.6 317.5)" fill="#9096c6" fill-opacity="0.90" stroke="#6a70a8" stroke-width="0.9" stroke-opacity="0.63"/>
<ellipse cx="166.8" cy="326.6" rx="4.5" ry="5.6" transform="rotate(0 166.8 326.6)" fill="#8088c0" fill-opacity="0.90" stroke="#6a70a8" stroke-width="0.9" stroke-opacity="0.63"/>
<ellipse cx="54.4" cy="346.4" rx="4.1" ry="5.5" transform="rotate(-20 54.4 346.4)" fill="#868dc2" fill-opacity="0.65" stroke="#6a70a8" stroke-width="0.9" stroke-opacity="0.45"/>
<ellipse cx="58.8" cy="357.4" rx="4.1" ry="4.0" transform="rotate(-40 58.8 357.4)" fill="#8088c0" fill-opacity="0.50" stroke="#6a70a8" stroke-width="0.9" stroke-opacity="0.35"/>
<ellipse cx="69.7" cy="346.4" rx="5.7" ry="6.7" transform="rotate(-40 69.7 346.4)" fill="#848cc4" fill-opacity="0.90" stroke="#6a70a8" stroke-width="0.9" stroke-opacity="0.63"/>
<ellipse cx="82.9" cy="355.2" rx="6.9" ry="11.7" transform="rotate(25 82.9 355.2)" fill="#868dc2" fill-opacity="0.50" stroke="#6a70a8" stroke-width="0.9" stroke-opacity="0.35"/>
<ellipse cx="91.7" cy="333.3" rx="7.4" ry="3.6" transform="rotate(-30 91.7 333.3)" fill="#9096c6" fill-opacity="0.75" stroke="#6a70a8" stroke-width="0.9" stroke-opacity="0.52"/>
<ellipse cx="102.6" cy="350.8" rx="5.7" ry="8.3" transform="rotate(0 102.6 350.8)" fill="#8088c0" fill-opacity="0.65" stroke="#6a70a8" stroke-width="0.9" stroke-opacity="0.45"/>
<ellipse cx="113.6" cy="332.2" rx="5.0" ry="3.6" transform="rotate(10 113.6 332.2)" fill="#848cc4" fill-opacity="0.75" stroke="#6a70a8" stroke-width="0.9" stroke-opacity="0.52"/>
<ellipse cx="127.9" cy="350.8" rx="6.6" ry="7.2" transform="rotate(-20 127.9 350.8)" fill="#8088c0" fill-opacity="0.65" stroke="#6a70a8" stroke-width="0.9" stroke-opacity="0.45"/>
<ellipse cx="137.7" cy="337.7" rx="4.5" ry="4.6" transform="rotate(-10 137.7 337.7)" fill="#9096c6" fill-opacity="0.85" stroke="#6a70a8" stroke-width="0.9" stroke-opacity="0.59"/>
<ellipse cx="150.9" cy="347.5" rx="6.0" ry="7.9" transform="rotate(0 150.9 347.5)" fill="#9096c6" fill-opacity="0.90" stroke="#6a70a8" stroke-width="0.9" stroke-opacity="0.63"/>
<ellipse cx="129" cy="365" rx="7.4" ry="5.0" transform="rotate(0 129 365)" fill="#868dc2" fill-opacity="0.50" stroke="#6a70a8" stroke-width="0.9" stroke-opacity="0.35"/>
<ellipse cx="150.9" cy="367.3" rx="4.9" ry="7.2" transform="rotate(0 150.9 367.3)" fill="#868dc2" fill-opacity="0.75" stroke="#6a70a8" stroke-width="0.9" stroke-opacity="0.52"/>
<ellipse cx="107" cy="379.3" rx="8.8" ry="6.0" transform="rotate(-10 107 379.3)" fill="#8c93c6" fill-opacity="0.75" stroke="#6a70a8" stroke-width="0.9" stroke-opacity="0.52"/>
<ellipse cx="74.1" cy="388.1" rx="5.7" ry="7.7" transform="rotate(-10 74.1 388.1)" fill="#8088c0" fill-opacity="0.90" stroke="#6a70a8" stroke-width="0.9" stroke-opacity="0.63"/>
<ellipse cx="85" cy="395.8" rx="5.7" ry="7.2" transform="rotate(-20 85 395.8)" fill="#868dc2" fill-opacity="0.75" stroke="#6a70a8" stroke-width="0.9" stroke-opacity="0.52"/>
<ellipse cx="102.6" cy="392.5" rx="7.4" ry="5.5" transform="rotate(-40 102.6 392.5)" fill="#9096c6" fill-opacity="0.90" stroke="#6a70a8" stroke-width="0.9" stroke-opacity="0.63"/>
<ellipse cx="118" cy="402.4" rx="5.7" ry="7.2" transform="rotate(-20 118 402.4)" fill="#848cc4" fill-opacity="0.85" stroke="#6a70a8" stroke-width="0.9" stroke-opacity="0.59"/>
<ellipse cx="129" cy="391.4" rx="4.5" ry="5.6" transform="rotate(0 129 391.4)" fill="#868dc2" fill-opacity="0.90" stroke="#6a70a8" stroke-width="0.9" stroke-opacity="0.63"/>
<ellipse cx="146.5" cy="382.6" rx="9.8" ry="6.5" transform="rotate(-30 146.5 382.6)" fill="#848cc4" fill-opacity="0.90" stroke="#6a70a8" stroke-width="0.9" stroke-opacity="0.63"/>
<ellipse cx="142.1" cy="402.4" rx="7.4" ry="5.5" transform="rotate(10 142.1 402.4)" fill="#8088c0" fill-opacity="0.85" stroke="#6a70a8" stroke-width="0.9" stroke-opacity="0.59"/>
<ellipse cx="61" cy="405.7" rx="6.5" ry="4.6" transform="rotate(-20 61 405.7)" fill="#8088c0" fill-opacity="0.90" stroke="#6a70a8" stroke-width="0.9" stroke-opacity="0.63"/>
<ellipse cx="159.6" cy="400.2" rx="4.5" ry="5.6" transform="rotate(10 159.6 400.2)" fill="#8088c0" fill-opacity="0.90" stroke="#6a70a8" stroke-width="0.9" stroke-opacity="0.63"/>
<ellipse cx="169" cy="348.2" rx="5.3" ry="7.2" transform="rotate(-10 169 348.2)" fill="#848cc4" fill-opacity="0.90" stroke="#6a70a8" stroke-width="0.9" stroke-opacity="0.63"/>
<ellipse cx="171.3" cy="362.9" rx="5.0" ry="6.5" transform="rotate(-40 171.3 362.9)" fill="#848cc4" fill-opacity="0.75" stroke="#6a70a8" stroke-width="0.9" stroke-opacity="0.52"/>
<ellipse cx="185" cy="351.6" rx="4.9" ry="6.7" transform="rotate(-20 185 351.6)" fill="#9096c6" fill-opacity="0.75" stroke="#6a70a8" stroke-width="0.9" stroke-opacity="0.52"/>
<ellipse cx="175.9" cy="375.4" rx="8.8" ry="6.5" transform="rotate(0 175.9 375.4)" fill="#868dc2" fill-opacity="0.75" stroke="#6a70a8" stroke-width="0.9" stroke-opacity="0.52"/>
<ellipse cx="197.4" cy="384.5" rx="5.7" ry="6.7" transform="rotate(-30 197.4 384.5)" fill="#8088c0" fill-opacity="0.65" stroke="#6a70a8" stroke-width="0.9" stroke-opacity="0.45"/>
<ellipse cx="208.8" cy="358.4" rx="5.7" ry="7.2" transform="rotate(-20 208.8 358.4)" fill="#8088c0" fill-opacity="0.90" stroke="#6a70a8" stroke-width="0.9" stroke-opacity="0.63"/>
<ellipse cx="220.1" cy="343.6" rx="6.5" ry="5.0" transform="rotate(-20 220.1 343.6)" fill="#8088c0" fill-opacity="0.85" stroke="#6a70a8" stroke-width="0.9" stroke-opacity="0.59"/>
<ellipse cx="237.2" cy="342.5" rx="5.3" ry="6.7" transform="rotate(-40 237.2 342.5)" fill="#848cc4" fill-opacity="0.90" stroke="#6a70a8" stroke-width="0.9" stroke-opacity="0.63"/>
<ellipse cx="247.4" cy="351.6" rx="4.1" ry="5.1" transform="rotate(10 247.4 351.6)" fill="#8c93c6" fill-opacity="0.75" stroke="#6a70a8" stroke-width="0.9" stroke-opacity="0.52"/>
<ellipse cx="255.3" cy="359.5" rx="6.5" ry="5.0" transform="rotate(0 255.3 359.5)" fill="#8c93c6" fill-opacity="0.90" stroke="#6a70a8" stroke-width="0.9" stroke-opacity="0.63"/>
<ellipse cx="266.6" cy="348.2" rx="5.3" ry="6.2" transform="rotate(-20 266.6 348.2)" fill="#8c93c6" fill-opacity="0.75" stroke="#6a70a8" stroke-width="0.9" stroke-opacity="0.52"/>
<ellipse cx="268.9" cy="370.8" rx="4.9" ry="6.2" transform="rotate(-30 268.9 370.8)" fill="#9096c6" fill-opacity="0.90" stroke="#6a70a8" stroke-width="0.9" stroke-opacity="0.63"/>
<ellipse cx="232.6" cy="381" rx="7.9" ry="5.5" transform="rotate(10 232.6 381)" fill="#848cc4" fill-opacity="0.50" stroke="#6a70a8" stroke-width="0.9" stroke-opacity="0.35"/>
<ellipse cx="248.5" cy="381" rx="5.7" ry="6.2" transform="rotate(0 248.5 381)" fill="#8088c0" fill-opacity="0.75" stroke="#6a70a8" stroke-width="0.9" stroke-opacity="0.52"/>
<ellipse cx="259.8" cy="389" rx="4.5" ry="5.6" transform="rotate(10 259.8 389)" fill="#8c93c6" fill-opacity="0.85" stroke="#6a70a8" stroke-width="0.9" stroke-opacity="0.59"/>
<ellipse cx="166.8" cy="400.3" rx="4.5" ry="4.6" transform="rotate(-30 166.8 400.3)" fill="#848cc4" fill-opacity="0.75" stroke="#6a70a8" stroke-width="0.9" stroke-opacity="0.52"/>
<ellipse cx="60" cy="374" rx="4.5" ry="6.7" transform="rotate(10 60 374)" fill="#8c93c6" fill-opacity="0.90" stroke="#6a70a8" stroke-width="0.9" stroke-opacity="0.63"/>
<ellipse cx="120" cy="375" rx="3.6" ry="4.6" transform="rotate(-10 120 375)" fill="#8088c0" fill-opacity="0.65" stroke="#6a70a8" stroke-width="0.9" stroke-opacity="0.45"/>
<ellipse cx="92" cy="374" rx="3.6" ry="4.0" transform="rotate(-40 92 374)" fill="#848cc4" fill-opacity="0.90" stroke="#6a70a8" stroke-width="0.9" stroke-opacity="0.63"/>
<ellipse cx="206" cy="400" rx="4.5" ry="4.6" transform="rotate(-30 206 400)" fill="#8088c0" fill-opacity="0.90" stroke="#6a70a8" stroke-width="0.9" stroke-opacity="0.63"/>
<ellipse cx="190" cy="332" rx="4.5" ry="4.6" transform="rotate(-30 190 332)" fill="#8088c0" fill-opacity="0.75" stroke="#6a70a8" stroke-width="0.9" stroke-opacity="0.52"/>
</g>
<rect x="51.50" y="255.00" width="224.40" height="156.00" fill="#fff" filter="url(#nucTex)" mask="url(#nucMask)" opacity="0.5"/>
</g>
<g clip-path="url(#clipR)">
<rect x="285.00" y="255.00" width="224.70" height="156.00" fill="#cfcce6" />
<rect x="285.00" y="255.00" width="224.70" height="156.00" fill="#fff" filter="url(#lavTex2)"/>
<g filter="url(#blur09)">
<ellipse cx="386.3" cy="342.9" rx="8.7" ry="8.3" transform="rotate(85 386.3 342.9)" fill="#a2a4da" fill-opacity="0.84"/>
<ellipse cx="323.4" cy="335.0" rx="7.7" ry="7.3" transform="rotate(31 323.4 335.0)" fill="#a4a6dc" fill-opacity="0.84"/>
<ellipse cx="466.3" cy="265.6" rx="6.6" ry="5.9" transform="rotate(2 466.3 265.6)" fill="#a2a4da" fill-opacity="0.84"/>
<ellipse cx="301.3" cy="384.4" rx="7.9" ry="6.5" transform="rotate(63 301.3 384.4)" fill="#aaacde" fill-opacity="0.84"/>
<ellipse cx="289.8" cy="413.0" rx="8.9" ry="7.9" transform="rotate(37 289.8 413.0)" fill="#a4a6dc" fill-opacity="0.84"/>
<ellipse cx="433.7" cy="352.2" rx="6.1" ry="5.9" transform="rotate(12 433.7 352.2)" fill="#acaee0" fill-opacity="0.84"/>
<ellipse cx="283.5" cy="337.7" rx="5.7" ry="5.4" transform="rotate(154 283.5 337.7)" fill="#a2a4da" fill-opacity="0.84"/>
<ellipse cx="324.7" cy="290.2" rx="5.6" ry="4.8" transform="rotate(100 324.7 290.2)" fill="#acaee0" fill-opacity="0.84"/>
<ellipse cx="389.0" cy="323.1" rx="8.4" ry="7.2" transform="rotate(102 389.0 323.1)" fill="#b0b0e0" fill-opacity="0.84"/>
<ellipse cx="402.0" cy="356.3" rx="7.2" ry="6.9" transform="rotate(115 402.0 356.3)" fill="#b6b6e4" fill-opacity="0.84"/>
<ellipse cx="435.7" cy="325.9" rx="6.5" ry="6.4" transform="rotate(5 435.7 325.9)" fill="#aaacde" fill-opacity="0.84"/>
<ellipse cx="514.4" cy="415.3" rx="8.4" ry="7.0" transform="rotate(62 514.4 415.3)" fill="#a4a6dc" fill-opacity="0.84"/>
<ellipse cx="446.3" cy="302.3" rx="6.3" ry="5.3" transform="rotate(47 446.3 302.3)" fill="#acaee0" fill-opacity="0.84"/>
<ellipse cx="347.9" cy="261.7" rx="8.2" ry="7.6" transform="rotate(107 347.9 261.7)" fill="#a2a4da" fill-opacity="0.84"/>
<ellipse cx="374.1" cy="390.5" rx="6.9" ry="5.6" transform="rotate(95 374.1 390.5)" fill="#acaee0" fill-opacity="0.84"/>
<ellipse cx="505.1" cy="390.7" rx="5.5" ry="5.4" transform="rotate(17 505.1 390.7)" fill="#a2a4da" fill-opacity="0.84"/>
<ellipse cx="329.3" cy="401.1" rx="7.1" ry="6.1" transform="rotate(135 329.3 401.1)" fill="#a2a4da" fill-opacity="0.84"/>
<ellipse cx="510.4" cy="316.0" rx="5.8" ry="5.7" transform="rotate(97 510.4 316.0)" fill="#acaee0" fill-opacity="0.84"/>
<ellipse cx="427.9" cy="379.2" rx="6.4" ry="4.9" transform="rotate(93 427.9 379.2)" fill="#acaee0" fill-opacity="0.84"/>
<ellipse cx="300.5" cy="305.2" rx="8.9" ry="8.1" transform="rotate(5 300.5 305.2)" fill="#acaee0" fill-opacity="0.84"/>
<ellipse cx="303.7" cy="259.9" rx="8.3" ry="8.1" transform="rotate(154 303.7 259.9)" fill="#acaee0" fill-opacity="0.84"/>
<ellipse cx="324.8" cy="371.5" rx="6.0" ry="5.4" transform="rotate(89 324.8 371.5)" fill="#b6b6e4" fill-opacity="0.84"/>
<ellipse cx="431.3" cy="269.3" rx="7.0" ry="7.0" transform="rotate(144 431.3 269.3)" fill="#b6b6e4" fill-opacity="0.84"/>
<ellipse cx="468.8" cy="300.5" rx="8.6" ry="7.6" transform="rotate(15 468.8 300.5)" fill="#a4a6dc" fill-opacity="0.84"/>
<ellipse cx="329.5" cy="315.4" rx="8.5" ry="6.8" transform="rotate(5 329.5 315.4)" fill="#b6b6e4" fill-opacity="0.84"/>
<ellipse cx="357.3" cy="299.2" rx="5.8" ry="5.7" transform="rotate(10 357.3 299.2)" fill="#acaee0" fill-opacity="0.84"/>
<ellipse cx="301.2" cy="346.7" rx="6.4" ry="5.3" transform="rotate(5 301.2 346.7)" fill="#b0b0e0" fill-opacity="0.84"/>
<ellipse cx="421.3" cy="311.7" rx="7.1" ry="5.9" transform="rotate(138 421.3 311.7)" fill="#b0b0e0" fill-opacity="0.84"/>
<ellipse cx="505.4" cy="330.3" rx="7.5" ry="7.1" transform="rotate(93 505.4 330.3)" fill="#aaacde" fill-opacity="0.84"/>
<ellipse cx="483.6" cy="280.3" rx="6.0" ry="5.3" transform="rotate(125 483.6 280.3)" fill="#b0b0e0" fill-opacity="0.84"/>
<ellipse cx="493.5" cy="385.8" rx="6.4" ry="5.2" transform="rotate(97 493.5 385.8)" fill="#a2a4da" fill-opacity="0.84"/>
<ellipse cx="420.2" cy="298.7" rx="6.1" ry="5.7" transform="rotate(146 420.2 298.7)" fill="#b6b6e4" fill-opacity="0.84"/>
<ellipse cx="449.3" cy="261.4" rx="6.3" ry="4.9" transform="rotate(109 449.3 261.4)" fill="#a4a6dc" fill-opacity="0.84"/>
<ellipse cx="411.5" cy="391.5" rx="7.7" ry="6.7" transform="rotate(162 411.5 391.5)" fill="#acaee0" fill-opacity="0.84"/>
<ellipse cx="345.9" cy="402.3" rx="6.2" ry="5.9" transform="rotate(45 345.9 402.3)" fill="#b6b6e4" fill-opacity="0.84"/>
<ellipse cx="283.9" cy="294.7" rx="7.1" ry="5.7" transform="rotate(72 283.9 294.7)" fill="#b0b0e0" fill-opacity="0.84"/>
<ellipse cx="294.2" cy="279.3" rx="6.8" ry="6.6" transform="rotate(124 294.2 279.3)" fill="#aaacde" fill-opacity="0.84"/>
<ellipse cx="414.5" cy="271.8" rx="6.8" ry="5.3" transform="rotate(150 414.5 271.8)" fill="#a2a4da" fill-opacity="0.84"/>
<ellipse cx="489.4" cy="412.8" rx="7.8" ry="7.5" transform="rotate(128 489.4 412.8)" fill="#a4a6dc" fill-opacity="0.84"/>
<ellipse cx="442.4" cy="347.0" rx="6.0" ry="5.9" transform="rotate(90 442.4 347.0)" fill="#a4a6dc" fill-opacity="0.84"/>
<ellipse cx="288.2" cy="253.0" rx="8.7" ry="7.1" transform="rotate(59 288.2 253.0)" fill="#a2a4da" fill-opacity="0.84"/>
<ellipse cx="444.7" cy="409.8" rx="5.6" ry="4.2" transform="rotate(15 444.7 409.8)" fill="#b6b6e4" fill-opacity="0.84"/>
<ellipse cx="354.9" cy="415.9" rx="5.8" ry="4.6" transform="rotate(61 354.9 415.9)" fill="#aaacde" fill-opacity="0.84"/>
<ellipse cx="408.3" cy="372.3" rx="8.7" ry="6.7" transform="rotate(163 408.3 372.3)" fill="#aaacde" fill-opacity="0.84"/>
<ellipse cx="453.2" cy="366.8" rx="8.3" ry="8.3" transform="rotate(155 453.2 366.8)" fill="#a4a6dc" fill-opacity="0.84"/>
<ellipse cx="495.0" cy="308.4" rx="7.9" ry="6.8" transform="rotate(41 495.0 308.4)" fill="#b6b6e4" fill-opacity="0.84"/>
<ellipse cx="465.8" cy="393.3" rx="7.5" ry="6.0" transform="rotate(151 465.8 393.3)" fill="#a4a6dc" fill-opacity="0.84"/>
<ellipse cx="371.3" cy="372.0" rx="7.5" ry="6.3" transform="rotate(124 371.3 372.0)" fill="#acaee0" fill-opacity="0.84"/>
<ellipse cx="383.5" cy="389.2" rx="5.8" ry="5.3" transform="rotate(138 383.5 389.2)" fill="#a4a6dc" fill-opacity="0.84"/>
<ellipse cx="393.0" cy="288.2" rx="7.9" ry="6.1" transform="rotate(67 393.0 288.2)" fill="#b0b0e0" fill-opacity="0.84"/>
<ellipse cx="340.1" cy="251.9" rx="6.6" ry="5.7" transform="rotate(22 340.1 251.9)" fill="#b0b0e0" fill-opacity="0.84"/>
<ellipse cx="439.4" cy="283.6" rx="6.1" ry="5.6" transform="rotate(131 439.4 283.6)" fill="#acaee0" fill-opacity="0.84"/>
<ellipse cx="492.8" cy="359.6" rx="7.0" ry="6.5" transform="rotate(162 492.8 359.6)" fill="#aaacde" fill-opacity="0.84"/>
<ellipse cx="494.8" cy="396.1" rx="6.8" ry="6.0" transform="rotate(155 494.8 396.1)" fill="#b0b0e0" fill-opacity="0.84"/>
<ellipse cx="396.7" cy="389.0" rx="8.5" ry="6.5" transform="rotate(21 396.7 389.0)" fill="#a4a6dc" fill-opacity="0.84"/>
<ellipse cx="319.7" cy="324.8" rx="6.5" ry="6.4" transform="rotate(173 319.7 324.8)" fill="#b0b0e0" fill-opacity="0.84"/>
<ellipse cx="396.1" cy="302.4" rx="8.4" ry="7.2" transform="rotate(85 396.1 302.4)" fill="#acaee0" fill-opacity="0.84"/>
<ellipse cx="287.4" cy="394.9" rx="5.6" ry="4.6" transform="rotate(20 287.4 394.9)" fill="#a4a6dc" fill-opacity="0.84"/>
<ellipse cx="466.0" cy="253.2" rx="6.0" ry="4.7" transform="rotate(40 466.0 253.2)" fill="#acaee0" fill-opacity="0.84"/>
<ellipse cx="386.9" cy="254.1" rx="8.4" ry="8.3" transform="rotate(30 386.9 254.1)" fill="#a2a4da" fill-opacity="0.84"/>
<ellipse cx="335.8" cy="273.4" rx="5.7" ry="5.4" transform="rotate(111 335.8 273.4)" fill="#aaacde" fill-opacity="0.84"/>
<ellipse cx="322.0" cy="251.8" rx="7.2" ry="6.6" transform="rotate(174 322.0 251.8)" fill="#b6b6e4" fill-opacity="0.84"/>
<ellipse cx="447.8" cy="279.7" rx="6.5" ry="5.3" transform="rotate(35 447.8 279.7)" fill="#acaee0" fill-opacity="0.84"/>
<ellipse cx="361.2" cy="365.8" rx="7.3" ry="6.7" transform="rotate(159 361.2 365.8)" fill="#a2a4da" fill-opacity="0.84"/>
<ellipse cx="499.2" cy="369.9" rx="6.0" ry="5.3" transform="rotate(147 499.2 369.9)" fill="#a2a4da" fill-opacity="0.84"/>
<ellipse cx="368.5" cy="344.4" rx="8.6" ry="8.3" transform="rotate(147 368.5 344.4)" fill="#a4a6dc" fill-opacity="0.84"/>
<ellipse cx="467.2" cy="406.7" rx="7.1" ry="6.4" transform="rotate(17 467.2 406.7)" fill="#acaee0" fill-opacity="0.84"/>
<ellipse cx="472.3" cy="356.5" rx="8.0" ry="7.2" transform="rotate(101 472.3 356.5)" fill="#b6b6e4" fill-opacity="0.84"/>
<ellipse cx="361.9" cy="263.7" rx="7.0" ry="6.0" transform="rotate(133 361.9 263.7)" fill="#aaacde" fill-opacity="0.84"/>
<ellipse cx="286.7" cy="384.3" rx="5.7" ry="5.7" transform="rotate(108 286.7 384.3)" fill="#a4a6dc" fill-opacity="0.84"/>
<ellipse cx="468.0" cy="278.7" rx="6.7" ry="6.1" transform="rotate(95 468.0 278.7)" fill="#a4a6dc" fill-opacity="0.84"/>
<ellipse cx="503.1" cy="264.3" rx="6.3" ry="5.7" transform="rotate(49 503.1 264.3)" fill="#b6b6e4" fill-opacity="0.84"/>
<ellipse cx="430.1" cy="336.8" rx="8.5" ry="7.5" transform="rotate(4 430.1 336.8)" fill="#a2a4da" fill-opacity="0.84"/>
<ellipse cx="478.6" cy="399.5" rx="6.2" ry="5.7" transform="rotate(79 478.6 399.5)" fill="#b6b6e4" fill-opacity="0.84"/>
<ellipse cx="414.7" cy="283.4" rx="7.4" ry="5.8" transform="rotate(124 414.7 283.4)" fill="#b6b6e4" fill-opacity="0.84"/>
<ellipse cx="468.3" cy="343.4" rx="7.2" ry="6.3" transform="rotate(31 468.3 343.4)" fill="#b0b0e0" fill-opacity="0.84"/>
<ellipse cx="377.2" cy="408.8" rx="8.7" ry="7.6" transform="rotate(0 377.2 408.8)" fill="#b6b6e4" fill-opacity="0.84"/>
<ellipse cx="343.3" cy="328.5" rx="5.9" ry="5.2" transform="rotate(149 343.3 328.5)" fill="#acaee0" fill-opacity="0.84"/>
<ellipse cx="425.2" cy="403.6" rx="6.0" ry="5.4" transform="rotate(27 425.2 403.6)" fill="#a2a4da" fill-opacity="0.84"/>
<ellipse cx="333.4" cy="364.0" rx="6.6" ry="6.5" transform="rotate(137 333.4 364.0)" fill="#a2a4da" fill-opacity="0.84"/>
<ellipse cx="338.9" cy="282.8" rx="7.4" ry="5.9" transform="rotate(29 338.9 282.8)" fill="#acaee0" fill-opacity="0.84"/>
<ellipse cx="382.6" cy="312.4" rx="6.9" ry="6.8" transform="rotate(70 382.6 312.4)" fill="#b0b0e0" fill-opacity="0.84"/>
<ellipse cx="404.4" cy="276.5" rx="6.2" ry="5.5" transform="rotate(59 404.4 276.5)" fill="#acaee0" fill-opacity="0.84"/>
<ellipse cx="496.9" cy="286.2" rx="9.0" ry="7.8" transform="rotate(157 496.9 286.2)" fill="#b6b6e4" fill-opacity="0.84"/>
<ellipse cx="488.6" cy="272.2" rx="6.3" ry="5.6" transform="rotate(91 488.6 272.2)" fill="#a2a4da" fill-opacity="0.84"/>
<ellipse cx="450.7" cy="293.1" rx="5.8" ry="5.3" transform="rotate(141 450.7 293.1)" fill="#a4a6dc" fill-opacity="0.84"/>
<ellipse cx="475.6" cy="320.0" rx="8.3" ry="7.4" transform="rotate(39 475.6 320.0)" fill="#a2a4da" fill-opacity="0.84"/>
<ellipse cx="309.6" cy="316.9" rx="7.9" ry="6.7" transform="rotate(113 309.6 316.9)" fill="#b6b6e4" fill-opacity="0.84"/>
<ellipse cx="401.0" cy="344.4" rx="6.0" ry="5.0" transform="rotate(161 401.0 344.4)" fill="#a4a6dc" fill-opacity="0.84"/>
<ellipse cx="512.7" cy="403.9" rx="5.8" ry="5.1" transform="rotate(174 512.7 403.9)" fill="#b6b6e4" fill-opacity="0.84"/>
<ellipse cx="401.1" cy="321.4" rx="7.6" ry="7.0" transform="rotate(87 401.1 321.4)" fill="#a4a6dc" fill-opacity="0.84"/>
<ellipse cx="283.1" cy="366.4" rx="8.5" ry="7.9" transform="rotate(33 283.1 366.4)" fill="#b0b0e0" fill-opacity="0.84"/>
<ellipse cx="375.2" cy="282.4" rx="6.1" ry="4.7" transform="rotate(17 375.2 282.4)" fill="#b0b0e0" fill-opacity="0.84"/>
<ellipse cx="400.5" cy="252.6" rx="8.6" ry="7.2" transform="rotate(178 400.5 252.6)" fill="#aaacde" fill-opacity="0.84"/>
<ellipse cx="398.5" cy="413.1" rx="8.3" ry="6.4" transform="rotate(135 398.5 413.1)" fill="#b6b6e4" fill-opacity="0.84"/>
<ellipse cx="460.3" cy="377.0" rx="6.9" ry="6.4" transform="rotate(167 460.3 377.0)" fill="#a2a4da" fill-opacity="0.84"/>
<ellipse cx="444.8" cy="376.4" rx="8.9" ry="8.2" transform="rotate(29 444.8 376.4)" fill="#aaacde" fill-opacity="0.84"/>
<ellipse cx="285.4" cy="352.2" rx="8.1" ry="7.0" transform="rotate(133 285.4 352.2)" fill="#a4a6dc" fill-opacity="0.84"/>
<ellipse cx="340.3" cy="316.7" rx="5.7" ry="4.8" transform="rotate(128 340.3 316.7)" fill="#b0b0e0" fill-opacity="0.84"/>
<ellipse cx="513.8" cy="355.9" rx="8.3" ry="7.3" transform="rotate(115 513.8 355.9)" fill="#b0b0e0" fill-opacity="0.84"/>
<ellipse cx="423.6" cy="259.7" rx="8.8" ry="8.4" transform="rotate(12 423.6 259.7)" fill="#b6b6e4" fill-opacity="0.84"/>
<ellipse cx="297.3" cy="400.3" rx="7.0" ry="5.5" transform="rotate(65 297.3 400.3)" fill="#aaacde" fill-opacity="0.84"/>
<ellipse cx="412.7" cy="348.2" rx="7.7" ry="5.9" transform="rotate(89 412.7 348.2)" fill="#b6b6e4" fill-opacity="0.84"/>
<ellipse cx="379.9" cy="353.5" rx="5.9" ry="4.5" transform="rotate(95 379.9 353.5)" fill="#acaee0" fill-opacity="0.84"/>
<ellipse cx="407.3" cy="262.0" rx="5.8" ry="5.6" transform="rotate(144 407.3 262.0)" fill="#aaacde" fill-opacity="0.84"/>
<ellipse cx="367.7" cy="329.4" rx="6.2" ry="5.1" transform="rotate(30 367.7 329.4)" fill="#b6b6e4" fill-opacity="0.84"/>
<ellipse cx="379.7" cy="292.8" rx="8.3" ry="8.2" transform="rotate(2 379.7 292.8)" fill="#a2a4da" fill-opacity="0.84"/>
<ellipse cx="356.5" cy="341.1" rx="8.1" ry="7.7" transform="rotate(133 356.5 341.1)" fill="#b0b0e0" fill-opacity="0.84"/>
<ellipse cx="496.4" cy="321.0" rx="6.8" ry="5.5" transform="rotate(76 496.4 321.0)" fill="#acaee0" fill-opacity="0.84"/>
<ellipse cx="307.6" cy="367.7" rx="7.5" ry="6.0" transform="rotate(165 307.6 367.7)" fill="#b6b6e4" fill-opacity="0.84"/>
<ellipse cx="354.6" cy="316.3" rx="8.8" ry="7.3" transform="rotate(132 354.6 316.3)" fill="#acaee0" fill-opacity="0.84"/>
<ellipse cx="365.9" cy="310.3" rx="6.9" ry="5.9" transform="rotate(25 365.9 310.3)" fill="#acaee0" fill-opacity="0.84"/>
<ellipse cx="487.0" cy="296.7" rx="5.6" ry="4.9" transform="rotate(67 487.0 296.7)" fill="#a2a4da" fill-opacity="0.84"/>
<ellipse cx="305.5" cy="280.6" rx="6.3" ry="4.8" transform="rotate(115 305.5 280.6)" fill="#aaacde" fill-opacity="0.84"/>
<ellipse cx="404.0" cy="335.6" rx="6.5" ry="5.4" transform="rotate(175 404.0 335.6)" fill="#acaee0" fill-opacity="0.84"/>
<ellipse cx="282.6" cy="328.5" rx="6.8" ry="5.6" transform="rotate(33 282.6 328.5)" fill="#aaacde" fill-opacity="0.84"/>
<ellipse cx="467.2" cy="368.4" rx="7.6" ry="7.3" transform="rotate(93 467.2 368.4)" fill="#a2a4da" fill-opacity="0.84"/>
<ellipse cx="317.0" cy="276.0" rx="6.6" ry="5.2" transform="rotate(7 317.0 276.0)" fill="#a2a4da" fill-opacity="0.84"/>
<ellipse cx="429.7" cy="414.9" rx="6.4" ry="5.4" transform="rotate(117 429.7 414.9)" fill="#aaacde" fill-opacity="0.84"/>
<ellipse cx="412.6" cy="326.0" rx="5.5" ry="5.2" transform="rotate(168 412.6 326.0)" fill="#a4a6dc" fill-opacity="0.84"/>
<ellipse cx="513.0" cy="382.7" rx="6.2" ry="5.5" transform="rotate(45 513.0 382.7)" fill="#a2a4da" fill-opacity="0.84"/>
<ellipse cx="372.2" cy="360.7" rx="6.4" ry="5.4" transform="rotate(127 372.2 360.7)" fill="#b0b0e0" fill-opacity="0.84"/>
<ellipse cx="502.1" cy="343.4" rx="8.0" ry="6.7" transform="rotate(89 502.1 343.4)" fill="#acaee0" fill-opacity="0.84"/>
<ellipse cx="357.9" cy="387.3" rx="5.8" ry="5.2" transform="rotate(165 357.9 387.3)" fill="#a2a4da" fill-opacity="0.84"/>
<ellipse cx="375.6" cy="262.1" rx="8.7" ry="7.3" transform="rotate(51 375.6 262.1)" fill="#a2a4da" fill-opacity="0.84"/>
<ellipse cx="284.4" cy="304.9" rx="6.7" ry="6.0" transform="rotate(79 284.4 304.9)" fill="#aaacde" fill-opacity="0.84"/>
<ellipse cx="427.4" cy="282.9" rx="5.8" ry="5.3" transform="rotate(166 427.4 282.9)" fill="#a4a6dc" fill-opacity="0.84"/>
<ellipse cx="337.5" cy="345.7" rx="7.9" ry="6.7" transform="rotate(115 337.5 345.7)" fill="#acaee0" fill-opacity="0.84"/>
<ellipse cx="357.4" cy="404.2" rx="6.8" ry="5.2" transform="rotate(153 357.4 404.2)" fill="#aaacde" fill-opacity="0.84"/>
<ellipse cx="388.8" cy="270.6" rx="8.9" ry="8.1" transform="rotate(70 388.8 270.6)" fill="#b0b0e0" fill-opacity="0.84"/>
<ellipse cx="311.9" cy="400.1" rx="7.4" ry="7.1" transform="rotate(124 311.9 400.1)" fill="#a4a6dc" fill-opacity="0.84"/>
<ellipse cx="322.3" cy="413.8" rx="8.8" ry="8.0" transform="rotate(125 322.3 413.8)" fill="#a4a6dc" fill-opacity="0.84"/>
<ellipse cx="434.7" cy="301.1" rx="7.8" ry="6.1" transform="rotate(126 434.7 301.1)" fill="#aaacde" fill-opacity="0.84"/>
<ellipse cx="453.4" cy="313.4" rx="7.6" ry="7.0" transform="rotate(24 453.4 313.4)" fill="#a4a6dc" fill-opacity="0.84"/>
<ellipse cx="443.3" cy="337.4" rx="6.3" ry="4.9" transform="rotate(158 443.3 337.4)" fill="#acaee0" fill-opacity="0.84"/>
<ellipse cx="436.4" cy="393.8" rx="7.0" ry="5.7" transform="rotate(81 436.4 393.8)" fill="#b6b6e4" fill-opacity="0.84"/>
<ellipse cx="503.5" cy="250.1" rx="6.4" ry="6.2" transform="rotate(38 503.5 250.1)" fill="#a2a4da" fill-opacity="0.84"/>
<ellipse cx="327.5" cy="355.0" rx="6.2" ry="5.0" transform="rotate(138 327.5 355.0)" fill="#acaee0" fill-opacity="0.84"/>
<ellipse cx="486.8" cy="258.3" rx="5.9" ry="5.2" transform="rotate(132 486.8 258.3)" fill="#aaacde" fill-opacity="0.84"/>
<ellipse cx="484.4" cy="368.4" rx="6.0" ry="5.6" transform="rotate(24 484.4 368.4)" fill="#acaee0" fill-opacity="0.84"/>
<ellipse cx="339.0" cy="383.3" rx="5.8" ry="5.3" transform="rotate(75 339.0 383.3)" fill="#b6b6e4" fill-opacity="0.84"/>
<ellipse cx="347.0" cy="375.4" rx="6.4" ry="5.0" transform="rotate(105 347.0 375.4)" fill="#aaacde" fill-opacity="0.84"/>
<ellipse cx="388.5" cy="374.6" rx="6.8" ry="6.3" transform="rotate(73 388.5 374.6)" fill="#a4a6dc" fill-opacity="0.84"/>
<ellipse cx="466.0" cy="289.5" rx="6.0" ry="5.3" transform="rotate(101 466.0 289.5)" fill="#b0b0e0" fill-opacity="0.84"/>
<ellipse cx="294.4" cy="318.2" rx="6.8" ry="6.2" transform="rotate(154 294.4 318.2)" fill="#acaee0" fill-opacity="0.84"/>
<ellipse cx="297.1" cy="364.8" rx="6.8" ry="5.1" transform="rotate(157 297.1 364.8)" fill="#b0b0e0" fill-opacity="0.84"/>
<ellipse cx="461.1" cy="336.2" rx="5.7" ry="5.2" transform="rotate(173 461.1 336.2)" fill="#acaee0" fill-opacity="0.84"/>
<ellipse cx="315.5" cy="348.8" rx="5.6" ry="4.4" transform="rotate(78 315.5 348.8)" fill="#b0b0e0" fill-opacity="0.84"/>
<ellipse cx="333.1" cy="298.5" rx="6.7" ry="6.4" transform="rotate(2 333.1 298.5)" fill="#b0b0e0" fill-opacity="0.84"/>
<ellipse cx="330.7" cy="256.8" rx="5.6" ry="5.0" transform="rotate(138 330.7 256.8)" fill="#b6b6e4" fill-opacity="0.84"/>
<ellipse cx="509.3" cy="299.5" rx="7.8" ry="6.2" transform="rotate(43 509.3 299.5)" fill="#acaee0" fill-opacity="0.84"/>
<ellipse cx="509.6" cy="274.9" rx="6.2" ry="4.8" transform="rotate(83 509.6 274.9)" fill="#acaee0" fill-opacity="0.84"/>
<ellipse cx="405.5" cy="289.3" rx="6.4" ry="5.8" transform="rotate(142 405.5 289.3)" fill="#aaacde" fill-opacity="0.84"/>
<ellipse cx="356.4" cy="279.5" rx="7.3" ry="5.9" transform="rotate(24 356.4 279.5)" fill="#a4a6dc" fill-opacity="0.84"/>
<ellipse cx="499.3" cy="414.1" rx="5.7" ry="4.8" transform="rotate(47 499.3 414.1)" fill="#b0b0e0" fill-opacity="0.84"/>
<ellipse cx="366.0" cy="293.1" rx="5.7" ry="4.8" transform="rotate(152 366.0 293.1)" fill="#a4a6dc" fill-opacity="0.84"/>
<ellipse cx="321.7" cy="267.6" rx="6.0" ry="5.3" transform="rotate(85 321.7 267.6)" fill="#b0b0e0" fill-opacity="0.84"/>
<ellipse cx="305.5" cy="413.9" rx="7.0" ry="5.3" transform="rotate(110 305.5 413.9)" fill="#aaacde" fill-opacity="0.84"/>
<ellipse cx="513.3" cy="372.5" rx="6.6" ry="5.5" transform="rotate(129 513.3 372.5)" fill="#a2a4da" fill-opacity="0.84"/>
<ellipse cx="453.1" cy="414.2" rx="6.9" ry="5.4" transform="rotate(144 453.1 414.2)" fill="#aaacde" fill-opacity="0.84"/>
<ellipse cx="345.7" cy="356.9" rx="5.8" ry="4.6" transform="rotate(31 345.7 356.9)" fill="#a2a4da" fill-opacity="0.84"/>
<ellipse cx="483.2" cy="388.4" rx="5.9" ry="4.9" transform="rotate(75 483.2 388.4)" fill="#a4a6dc" fill-opacity="0.84"/>
<ellipse cx="347.3" cy="391.8" rx="7.9" ry="6.1" transform="rotate(49 347.3 391.8)" fill="#acaee0" fill-opacity="0.84"/>
<ellipse cx="454.7" cy="349.8" rx="7.1" ry="6.0" transform="rotate(31 454.7 349.8)" fill="#acaee0" fill-opacity="0.84"/>
<ellipse cx="443.3" cy="361.6" rx="6.4" ry="6.3" transform="rotate(40 443.3 361.6)" fill="#aaacde" fill-opacity="0.84"/>
<ellipse cx="432.7" cy="366.4" rx="9.0" ry="9.0" transform="rotate(65 432.7 366.4)" fill="#b0b0e0" fill-opacity="0.84"/>
<ellipse cx="316.1" cy="385.9" rx="8.1" ry="6.6" transform="rotate(133 316.1 385.9)" fill="#b0b0e0" fill-opacity="0.84"/>
<ellipse cx="286.7" cy="268.3" rx="6.6" ry="5.1" transform="rotate(96 286.7 268.3)" fill="#a2a4da" fill-opacity="0.84"/>
<ellipse cx="353.9" cy="330.3" rx="6.3" ry="5.4" transform="rotate(47 353.9 330.3)" fill="#b6b6e4" fill-opacity="0.84"/>
<ellipse cx="472.5" cy="380.9" rx="7.7" ry="6.6" transform="rotate(40 472.5 380.9)" fill="#b0b0e0" fill-opacity="0.84"/>
<ellipse cx="293.3" cy="376.8" rx="5.7" ry="4.9" transform="rotate(21 293.3 376.8)" fill="#b0b0e0" fill-opacity="0.84"/>
<ellipse cx="463.6" cy="323.1" rx="8.1" ry="6.9" transform="rotate(147 463.6 323.1)" fill="#a4a6dc" fill-opacity="0.84"/>
<ellipse cx="411.6" cy="403.1" rx="6.2" ry="6.0" transform="rotate(16 411.6 403.1)" fill="#b0b0e0" fill-opacity="0.84"/>
<ellipse cx="318.5" cy="308.1" rx="7.6" ry="7.1" transform="rotate(64 318.5 308.1)" fill="#b0b0e0" fill-opacity="0.84"/>
<ellipse cx="348.9" cy="292.0" rx="6.0" ry="5.8" transform="rotate(8 348.9 292.0)" fill="#a2a4da" fill-opacity="0.84"/>
<ellipse cx="378.1" cy="330.7" rx="5.8" ry="4.9" transform="rotate(173 378.1 330.7)" fill="#b0b0e0" fill-opacity="0.84"/>
<ellipse cx="487.7" cy="346.4" rx="7.0" ry="5.6" transform="rotate(142 487.7 346.4)" fill="#a4a6dc" fill-opacity="0.84"/>
<ellipse cx="301.1" cy="332.6" rx="7.2" ry="6.5" transform="rotate(30 301.1 332.6)" fill="#b6b6e4" fill-opacity="0.84"/>
<ellipse cx="477.7" cy="333.5" rx="6.7" ry="5.0" transform="rotate(112 477.7 333.5)" fill="#a4a6dc" fill-opacity="0.84"/>
<ellipse cx="514.4" cy="337.6" rx="6.2" ry="5.4" transform="rotate(126 514.4 337.6)" fill="#a4a6dc" fill-opacity="0.84"/>
<ellipse cx="422.4" cy="326.4" rx="7.4" ry="7.3" transform="rotate(54 422.4 326.4)" fill="#acaee0" fill-opacity="0.84"/>
<ellipse cx="511.9" cy="287.1" rx="6.3" ry="5.4" transform="rotate(172 511.9 287.1)" fill="#a4a6dc" fill-opacity="0.84"/>
<ellipse cx="476.3" cy="262.3" rx="6.4" ry="4.9" transform="rotate(75 476.3 262.3)" fill="#b6b6e4" fill-opacity="0.84"/>
<ellipse cx="389.0" cy="399.5" rx="7.9" ry="6.1" transform="rotate(96 389.0 399.5)" fill="#acaee0" fill-opacity="0.84"/>
<ellipse cx="405.8" cy="312.3" rx="6.0" ry="4.9" transform="rotate(28 405.8 312.3)" fill="#aaacde" fill-opacity="0.84"/>
<ellipse cx="446.1" cy="400.8" rx="5.6" ry="5.0" transform="rotate(104 446.1 400.8)" fill="#a4a6dc" fill-opacity="0.84"/>
<ellipse cx="454.0" cy="393.7" rx="6.8" ry="5.9" transform="rotate(174 454.0 393.7)" fill="#a2a4da" fill-opacity="0.84"/>
<ellipse cx="359.8" cy="250.2" rx="5.5" ry="5.3" transform="rotate(79 359.8 250.2)" fill="#b6b6e4" fill-opacity="0.84"/>
<ellipse cx="364.0" cy="415.9" rx="5.7" ry="4.4" transform="rotate(129 364.0 415.9)" fill="#a2a4da" fill-opacity="0.84"/>
<ellipse cx="419.8" cy="386.1" rx="5.7" ry="5.1" transform="rotate(87 419.8 386.1)" fill="#a4a6dc" fill-opacity="0.84"/>
<ellipse cx="356.2" cy="356.1" rx="6.0" ry="5.8" transform="rotate(27 356.2 356.1)" fill="#a4a6dc" fill-opacity="0.84"/>
<ellipse cx="280.9" cy="316.0" rx="6.4" ry="5.1" transform="rotate(109 280.9 316.0)" fill="#acaee0" fill-opacity="0.84"/>
<ellipse cx="477.4" cy="414.2" rx="8.2" ry="7.9" transform="rotate(163 477.4 414.2)" fill="#b6b6e4" fill-opacity="0.84"/>
<ellipse cx="443.1" cy="319.2" rx="5.7" ry="5.1" transform="rotate(61 443.1 319.2)" fill="#a4a6dc" fill-opacity="0.84"/>
<ellipse cx="327.7" cy="282.1" rx="5.8" ry="5.3" transform="rotate(81 327.7 282.1)" fill="#aaacde" fill-opacity="0.84"/>
<ellipse cx="417.6" cy="411.8" rx="7.7" ry="6.5" transform="rotate(35 417.6 411.8)" fill="#b0b0e0" fill-opacity="0.84"/>
<ellipse cx="514.2" cy="264.7" rx="8.5" ry="6.8" transform="rotate(131 514.2 264.7)" fill="#b6b6e4" fill-opacity="0.84"/>
<ellipse cx="335.7" cy="412.2" rx="7.4" ry="6.6" transform="rotate(148 335.7 412.2)" fill="#a4a6dc" fill-opacity="0.84"/>
<ellipse cx="382.6" cy="363.5" rx="6.4" ry="5.3" transform="rotate(92 382.6 363.5)" fill="#acaee0" fill-opacity="0.84"/>
<ellipse cx="512.1" cy="252.6" rx="5.7" ry="4.8" transform="rotate(122 512.1 252.6)" fill="#b6b6e4" fill-opacity="0.84"/>
<ellipse cx="284.7" cy="277.4" rx="5.5" ry="5.1" transform="rotate(4 284.7 277.4)" fill="#a2a4da" fill-opacity="0.84"/>
<ellipse cx="372.2" cy="250.3" rx="5.7" ry="5.1" transform="rotate(96 372.2 250.3)" fill="#aaacde" fill-opacity="0.84"/>
<ellipse cx="417.6" cy="361.9" rx="6.5" ry="6.3" transform="rotate(155 417.6 361.9)" fill="#a4a6dc" fill-opacity="0.84"/>
<ellipse cx="422.0" cy="289.7" rx="5.6" ry="4.5" transform="rotate(58 422.0 289.7)" fill="#aaacde" fill-opacity="0.84"/>
<ellipse cx="435.0" cy="258.6" rx="6.2" ry="5.8" transform="rotate(11 435.0 258.6)" fill="#a2a4da" fill-opacity="0.84"/>
<ellipse cx="309.7" cy="294.6" rx="7.3" ry="5.9" transform="rotate(74 309.7 294.6)" fill="#aaacde" fill-opacity="0.84"/>
<ellipse cx="494.1" cy="250.1" rx="6.2" ry="5.5" transform="rotate(177 494.1 250.1)" fill="#b6b6e4" fill-opacity="0.84"/>
<ellipse cx="316.4" cy="359.2" rx="7.7" ry="7.0" transform="rotate(12 316.4 359.2)" fill="#b0b0e0" fill-opacity="0.84"/>
<ellipse cx="489.3" cy="329.7" rx="6.9" ry="6.0" transform="rotate(141 489.3 329.7)" fill="#b6b6e4" fill-opacity="0.84"/>
<ellipse cx="461.3" cy="357.6" rx="6.0" ry="4.7" transform="rotate(102 461.3 357.6)" fill="#b6b6e4" fill-opacity="0.84"/>
<ellipse cx="455.1" cy="272.3" rx="6.5" ry="5.3" transform="rotate(32 455.1 272.3)" fill="#b0b0e0" fill-opacity="0.84"/>
<ellipse cx="305.4" cy="271.3" rx="5.7" ry="5.2" transform="rotate(118 305.4 271.3)" fill="#aaacde" fill-opacity="0.84"/>
<ellipse cx="451.3" cy="331.3" rx="6.4" ry="5.5" transform="rotate(100 451.3 331.3)" fill="#b6b6e4" fill-opacity="0.84"/>
<ellipse cx="414.6" cy="337.4" rx="6.9" ry="6.6" transform="rotate(74 414.6 337.4)" fill="#b0b0e0" fill-opacity="0.84"/>
<ellipse cx="406.9" cy="303.5" rx="5.7" ry="4.9" transform="rotate(157 406.9 303.5)" fill="#acaee0" fill-opacity="0.84"/>
<ellipse cx="310.9" cy="250.6" rx="6.6" ry="5.7" transform="rotate(9 310.9 250.6)" fill="#aaacde" fill-opacity="0.84"/>
<ellipse cx="419.7" cy="373.0" rx="6.3" ry="5.2" transform="rotate(59 419.7 373.0)" fill="#a4a6dc" fill-opacity="0.84"/>
<ellipse cx="301.1" cy="356.1" rx="5.7" ry="5.4" transform="rotate(36 301.1 356.1)" fill="#b6b6e4" fill-opacity="0.84"/>
<ellipse cx="313.6" cy="285.2" rx="5.9" ry="4.9" transform="rotate(144 313.6 285.2)" fill="#a4a6dc" fill-opacity="0.84"/>
<ellipse cx="374.4" cy="321.3" rx="7.6" ry="6.2" transform="rotate(151 374.4 321.3)" fill="#b0b0e0" fill-opacity="0.84"/>
<ellipse cx="345.2" cy="301.9" rx="5.8" ry="5.7" transform="rotate(168 345.2 301.9)" fill="#b0b0e0" fill-opacity="0.84"/>
<ellipse cx="309.5" cy="338.8" rx="6.3" ry="4.8" transform="rotate(160 309.5 338.8)" fill="#b6b6e4" fill-opacity="0.84"/>
<ellipse cx="328.8" cy="386.0" rx="5.9" ry="5.9" transform="rotate(154 328.8 386.0)" fill="#a2a4da" fill-opacity="0.84"/>
<ellipse cx="486.7" cy="314.9" rx="6.0" ry="5.7" transform="rotate(88 486.7 314.9)" fill="#a2a4da" fill-opacity="0.84"/>
<ellipse cx="482.7" cy="304.9" rx="5.6" ry="5.1" transform="rotate(37 482.7 304.9)" fill="#b0b0e0" fill-opacity="0.84"/>
<ellipse cx="478.2" cy="251.7" rx="7.1" ry="5.7" transform="rotate(25 478.2 251.7)" fill="#b6b6e4" fill-opacity="0.84"/>
<ellipse cx="477.3" cy="289.5" rx="6.8" ry="6.5" transform="rotate(109 477.3 289.5)" fill="#a4a6dc" fill-opacity="0.84"/>
<ellipse cx="365.7" cy="395.9" rx="5.9" ry="5.7" transform="rotate(54 365.7 395.9)" fill="#aaacde" fill-opacity="0.84"/>
<ellipse cx="402.9" cy="401.1" rx="5.8" ry="5.4" transform="rotate(92 402.9 401.1)" fill="#b6b6e4" fill-opacity="0.84"/>
<ellipse cx="489.3" cy="376.3" rx="6.3" ry="5.2" transform="rotate(88 489.3 376.3)" fill="#aaacde" fill-opacity="0.84"/>
<ellipse cx="503.4" cy="358.1" rx="5.7" ry="5.4" transform="rotate(49 503.4 358.1)" fill="#a2a4da" fill-opacity="0.84"/>
<ellipse cx="437.3" cy="405.6" rx="5.6" ry="5.2" transform="rotate(141 437.3 405.6)" fill="#b0b0e0" fill-opacity="0.84"/>
<ellipse cx="498.8" cy="274.3" rx="5.8" ry="5.2" transform="rotate(78 498.8 274.3)" fill="#a4a6dc" fill-opacity="0.84"/>
<ellipse cx="334.6" cy="333.7" rx="7.4" ry="6.7" transform="rotate(161 334.6 333.7)" fill="#aaacde" fill-opacity="0.84"/>
<ellipse cx="362.5" cy="379.3" rx="5.8" ry="5.0" transform="rotate(101 362.5 379.3)" fill="#acaee0" fill-opacity="0.84"/>
<ellipse cx="442.3" cy="270.9" rx="6.7" ry="5.3" transform="rotate(133 442.3 270.9)" fill="#a4a6dc" fill-opacity="0.84"/>
<ellipse cx="502.0" cy="404.0" rx="5.5" ry="4.4" transform="rotate(126 502.0 404.0)" fill="#acaee0" fill-opacity="0.84"/>
<ellipse cx="393.4" cy="365.4" rx="6.9" ry="6.5" transform="rotate(177 393.4 365.4)" fill="#a4a6dc" fill-opacity="0.84"/>
<ellipse cx="424.0" cy="348.5" rx="5.9" ry="4.5" transform="rotate(47 424.0 348.5)" fill="#acaee0" fill-opacity="0.84"/>
<ellipse cx="349.1" cy="365.0" rx="5.9" ry="5.8" transform="rotate(65 349.1 365.0)" fill="#a4a6dc" fill-opacity="0.84"/>
<ellipse cx="444.3" cy="250.6" rx="8.2" ry="7.0" transform="rotate(29 444.3 250.6)" fill="#a4a6dc" fill-opacity="0.84"/>
<ellipse cx="377.4" cy="303.6" rx="6.5" ry="5.0" transform="rotate(67 377.4 303.6)" fill="#b0b0e0" fill-opacity="0.84"/>
<ellipse cx="502.5" cy="379.3" rx="6.1" ry="5.4" transform="rotate(62 502.5 379.3)" fill="#b0b0e0" fill-opacity="0.84"/>
<ellipse cx="297.4" cy="292.1" rx="6.6" ry="6.5" transform="rotate(170 297.4 292.1)" fill="#a4a6dc" fill-opacity="0.84"/>
<ellipse cx="431.5" cy="312.0" rx="6.4" ry="5.6" transform="rotate(32 431.5 312.0)" fill="#a4a6dc" fill-opacity="0.84"/>
<ellipse cx="366.3" cy="274.2" rx="5.8" ry="5.7" transform="rotate(66 366.3 274.2)" fill="#b0b0e0" fill-opacity="0.84"/>
<ellipse cx="281.2" cy="402.7" rx="6.4" ry="5.6" transform="rotate(153 281.2 402.7)" fill="#b6b6e4" fill-opacity="0.84"/>
<ellipse cx="337.4" cy="396.0" rx="5.5" ry="4.4" transform="rotate(111 337.4 396.0)" fill="#aaacde" fill-opacity="0.84"/>
<ellipse cx="467.7" cy="311.6" rx="5.7" ry="5.4" transform="rotate(110 467.7 311.6)" fill="#a4a6dc" fill-opacity="0.84"/>
<ellipse cx="424.9" cy="394.1" rx="5.7" ry="5.0" transform="rotate(174 424.9 394.1)" fill="#b6b6e4" fill-opacity="0.84"/>
<ellipse cx="337.2" cy="264.4" rx="6.2" ry="5.4" transform="rotate(82 337.2 264.4)" fill="#a4a6dc" fill-opacity="0.84"/>
<ellipse cx="455.6" cy="404.5" rx="5.9" ry="5.2" transform="rotate(177 455.6 404.5)" fill="#acaee0" fill-opacity="0.84"/>
<ellipse cx="411.9" cy="254.7" rx="5.8" ry="5.6" transform="rotate(71 411.9 254.7)" fill="#aaacde" fill-opacity="0.84"/>
<ellipse cx="347.1" cy="274.8" rx="5.8" ry="4.5" transform="rotate(62 347.1 274.8)" fill="#b6b6e4" fill-opacity="0.84"/>
<ellipse cx="478.1" cy="345.6" rx="5.6" ry="5.4" transform="rotate(71 478.1 345.6)" fill="#b6b6e4" fill-opacity="0.84"/>
<ellipse cx="514.9" cy="393.4" rx="8.2" ry="7.9" transform="rotate(158 514.9 393.4)" fill="#a2a4da" fill-opacity="0.84"/>
<ellipse cx="483.0" cy="354.9" rx="5.7" ry="5.3" transform="rotate(156 483.0 354.9)" fill="#b0b0e0" fill-opacity="0.84"/>
<ellipse cx="515.0" cy="324.2" rx="5.9" ry="5.0" transform="rotate(36 515.0 324.2)" fill="#b6b6e4" fill-opacity="0.84"/>
<ellipse cx="292.8" cy="327.2" rx="5.5" ry="5.0" transform="rotate(92 292.8 327.2)" fill="#b0b0e0" fill-opacity="0.84"/>
<ellipse cx="457.2" cy="301.3" rx="7.1" ry="6.2" transform="rotate(22 457.2 301.3)" fill="#aaacde" fill-opacity="0.84"/>
<ellipse cx="457.5" cy="257.6" rx="5.7" ry="5.5" transform="rotate(21 457.5 257.6)" fill="#aaacde" fill-opacity="0.84"/>
<ellipse cx="446.4" cy="387.6" rx="5.7" ry="4.5" transform="rotate(70 446.4 387.6)" fill="#b0b0e0" fill-opacity="0.84"/>
<ellipse cx="458.1" cy="284.3" rx="6.0" ry="5.3" transform="rotate(72 458.1 284.3)" fill="#acaee0" fill-opacity="0.84"/>
<ellipse cx="378.4" cy="380.3" rx="5.8" ry="5.6" transform="rotate(134 378.4 380.3)" fill="#a4a6dc" fill-opacity="0.84"/>
<ellipse cx="291.8" cy="341.0" rx="6.1" ry="6.0" transform="rotate(120 291.8 341.0)" fill="#acaee0" fill-opacity="0.84"/>
<ellipse cx="384.3" cy="281.2" rx="5.6" ry="4.6" transform="rotate(13 384.3 281.2)" fill="#b0b0e0" fill-opacity="0.84"/>
<ellipse cx="387.7" cy="415.2" rx="6.0" ry="5.7" transform="rotate(119 387.7 415.2)" fill="#b0b0e0" fill-opacity="0.84"/>
<ellipse cx="314.6" cy="259.9" rx="5.9" ry="5.2" transform="rotate(3 314.6 259.9)" fill="#aaacde" fill-opacity="0.84"/>
<ellipse cx="388.6" cy="353.5" rx="5.6" ry="4.4" transform="rotate(177 388.6 353.5)" fill="#a4a6dc" fill-opacity="0.84"/>
</g>
<rect x="285.00" y="255.00" width="224.70" height="156.00" fill="#fff" filter="url(#lavTex)" opacity="0.55"/>
<g filter="url(#blur06)">
<ellipse cx="414" cy="381.2" rx="8.2" ry="9.6" fill="#c8b8c8"/>
<path d="M414,371.8 C408,371.6 405.4,376 405.6,381.5 C405.8,387.5 409.5,391 414.5,390.8 C419.5,390.6 422.4,386.5 422.2,381 C422,375.5 419.4,372 414,371.8Z" fill="none" stroke="#8c5030" stroke-width="2.6"/>
<ellipse cx="414.5" cy="381" rx="4.2" ry="5.2" fill="#d6d0e6"/>
<ellipse cx="294.5" cy="322" rx="8" ry="8.6" fill="#b4b4de"/>
<path d="M298,313.8 C292,313 287.2,316 286.6,321.5 C286,327 289.5,330.6 295,330.6" fill="none" stroke="#80421f" stroke-width="2.8"/>
<ellipse cx="289.8" cy="323.5" rx="2.4" ry="2.8" fill="#f2eef2"/>
<circle cx="330" cy="277" r="0.9" fill="#9a6040"/>
</g></g>
<rect x="51.50" y="255.00" width="118.60" height="15.00" fill="rgba(244,242,246,0.82)" />
<text x="55.40" y="265.60" font-size="11.5" text-anchor="start" fill="#111" font-weight="normal" textLength="112.6" lengthAdjust="spacingAndGlyphs" stroke="#111" stroke-width="0.1" >Acute-type ATL, P25</text>
<rect x="188.80" y="396.20" width="87.10" height="14.80" fill="rgba(244,242,246,0.82)" />
<text x="192.70" y="407.20" font-size="11.5" text-anchor="start" fill="#111" font-weight="normal" textLength="77.3" lengthAdjust="spacingAndGlyphs" stroke="#111" stroke-width="0.1" >KIR3DL2 x 200</text>
<rect x="285.00" y="255.00" width="149.60" height="15.00" fill="rgba(244,242,246,0.82)" />
<text x="288.00" y="265.60" font-size="11.5" text-anchor="start" fill="#111" font-weight="normal" textLength="143.5" lengthAdjust="spacingAndGlyphs" stroke="#111" stroke-width="0.1" >Lymphoma-type ATL, P57</text>
<rect x="415.00" y="396.20" width="87.70" height="14.80" fill="rgba(244,242,246,0.82)" />
<text x="418.90" y="407.20" font-size="11.5" text-anchor="start" fill="#111" font-weight="normal" textLength="77.6" lengthAdjust="spacingAndGlyphs" stroke="#111" stroke-width="0.1" >KIR3DL2 x 200</text>
<line x1="87.90" y1="441.20" x2="87.90" y2="604.75" stroke="#111" stroke-width="1.8"/>
<line x1="87.00" y1="604.00" x2="263.20" y2="604.00" stroke="#111" stroke-width="1.8"/>
<line x1="83.30" y1="604.00" x2="87.90" y2="604.00" stroke="#111" stroke-width="1.5"/>
<text x="80.30" y="608.00" font-size="11.6" text-anchor="end" fill="#111" font-weight="normal" textLength="6.4" lengthAdjust="spacingAndGlyphs" stroke="#111" stroke-width="0.1" >0</text>
<line x1="83.30" y1="564.65" x2="87.90" y2="564.65" stroke="#111" stroke-width="1.5"/>
<text x="80.30" y="568.65" font-size="11.6" text-anchor="end" fill="#111" font-weight="normal" textLength="12.8" lengthAdjust="spacingAndGlyphs" stroke="#111" stroke-width="0.1" >25</text>
<line x1="83.30" y1="525.30" x2="87.90" y2="525.30" stroke="#111" stroke-width="1.5"/>
<text x="80.30" y="529.30" font-size="11.6" text-anchor="end" fill="#111" font-weight="normal" textLength="12.8" lengthAdjust="spacingAndGlyphs" stroke="#111" stroke-width="0.1" >50</text>
<line x1="83.30" y1="485.95" x2="87.90" y2="485.95" stroke="#111" stroke-width="1.5"/>
<text x="80.30" y="489.95" font-size="11.6" text-anchor="end" fill="#111" font-weight="normal" textLength="12.8" lengthAdjust="spacingAndGlyphs" stroke="#111" stroke-width="0.1" >75</text>
<line x1="83.30" y1="446.60" x2="87.90" y2="446.60" stroke="#111" stroke-width="1.5"/>
<text x="80.30" y="450.60" font-size="11.6" text-anchor="end" fill="#111" font-weight="normal" textLength="19.2" lengthAdjust="spacingAndGlyphs" stroke="#111" stroke-width="0.1" >100</text>
<line x1="119.80" y1="604.00" x2="119.80" y2="608.30" stroke="#111" stroke-width="1.5"/>
<text x="119.80" y="621.40" font-size="12" text-anchor="middle" fill="#111" font-weight="normal" stroke="#111" stroke-width="0.1" >Acute</text>
<line x1="179.40" y1="604.00" x2="179.40" y2="608.30" stroke="#111" stroke-width="1.5"/>
<text x="179.40" y="621.40" font-size="12" text-anchor="middle" fill="#111" font-weight="normal" stroke="#111" stroke-width="0.1" >Lymphoma</text>
<line x1="238.80" y1="604.00" x2="238.80" y2="608.30" stroke="#111" stroke-width="1.5"/>
<text x="238.80" y="621.40" font-size="12" text-anchor="middle" fill="#111" font-weight="normal" stroke="#111" stroke-width="0.1" >Chronic</text>
<text transform="translate(54.40,522.10) rotate(-90)" font-size="14" text-anchor="middle" fill="#111" textLength="134.6" lengthAdjust="spacingAndGlyphs" stroke="#111" stroke-width="0.1">% of KIR3DL2-pos cells (FC)</text>
<rect x="126.85" y="444.65" width="3.30" height="3.30" fill="#c8102e" />
<rect x="114.05" y="450.65" width="3.30" height="3.30" fill="#c8102e" />
<rect x="123.85" y="459.35" width="3.30" height="3.30" fill="#c8102e" />
<rect x="106.55" y="465.45" width="3.30" height="3.30" fill="#c8102e" />
<rect x="107.45" y="466.35" width="3.30" height="3.30" fill="#c8102e" />
<rect x="120.05" y="467.85" width="3.30" height="3.30" fill="#c8102e" />
<rect x="127.15" y="470.45" width="3.30" height="3.30" fill="#c8102e" />
<rect x="126.15" y="474.45" width="3.30" height="3.30" fill="#c8102e" />
<rect x="118.35" y="476.55" width="3.30" height="3.30" fill="#c8102e" />
<rect x="107.55" y="500.65" width="3.30" height="3.30" fill="#c8102e" />
<rect x="117.65" y="503.25" width="3.30" height="3.30" fill="#c8102e" />
<rect x="110.15" y="507.75" width="3.30" height="3.30" fill="#c8102e" />
<rect x="123.85" y="519.35" width="3.30" height="3.30" fill="#c8102e" />
<rect x="122.55" y="521.05" width="3.30" height="3.30" fill="#c8102e" />
<rect x="107.45" y="532.85" width="3.30" height="3.30" fill="#c8102e" />
<rect x="116.75" y="532.85" width="3.30" height="3.30" fill="#c8102e" />
<rect x="124.95" y="533.95" width="3.30" height="3.30" fill="#c8102e" />
<rect x="129.65" y="531.85" width="3.30" height="3.30" fill="#c8102e" />
<rect x="109.35" y="542.55" width="3.30" height="3.30" fill="#c8102e" />
<rect x="118.35" y="542.75" width="3.30" height="3.30" fill="#c8102e" />
<rect x="122.35" y="547.95" width="3.30" height="3.30" fill="#c8102e" />
<rect x="114.85" y="551.75" width="3.30" height="3.30" fill="#c8102e" />
<rect x="123.85" y="552.45" width="3.30" height="3.30" fill="#c8102e" />
<rect x="112.25" y="559.95" width="3.30" height="3.30" fill="#c8102e" />
<rect x="106.55" y="567.35" width="3.30" height="3.30" fill="#c8102e" />
<rect x="129.75" y="566.65" width="3.30" height="3.30" fill="#c8102e" />
<rect x="114.05" y="582.95" width="3.30" height="3.30" fill="#c8102e" />
<rect x="111.75" y="588.05" width="3.30" height="3.30" fill="#c8102e" />
<rect x="111.45" y="602.55" width="3.30" height="3.30" fill="#c8102e" />
<path d="M119.80,532.10 L121.00,533.30 L119.80,534.50 L118.60,533.30Z" fill="#f0a0b0"/>
<circle cx="174.00" cy="603.60" r="1.5" fill="#1f4f8f"/>
<path d="M179.20,601.80 L181.00,603.60 L179.20,605.40 L177.40,603.60Z" fill="#8fb0d4"/>
<path d="M228.50,601.50 L230.30,604.74 L226.70,604.74Z" fill="#3cb44a"/>
<path d="M238.50,601.50 L240.30,604.74 L236.70,604.74Z" fill="#3cb44a"/>
<path d="M239.90,601.50 L241.70,604.74 L238.10,604.74Z" fill="#3cb44a"/>
<path d="M242.20,601.50 L244.00,604.74 L240.40,604.74Z" fill="#3cb44a"/>
<path d="M246.30,601.50 L248.10,604.74 L244.50,604.74Z" fill="#3cb44a"/>
<line x1="331.70" y1="441.20" x2="331.70" y2="604.75" stroke="#111" stroke-width="1.8"/>
<line x1="330.80" y1="604.00" x2="509.50" y2="604.00" stroke="#111" stroke-width="1.8"/>
<line x1="327.10" y1="604.00" x2="331.70" y2="604.00" stroke="#111" stroke-width="1.5"/>
<text x="324.10" y="608.00" font-size="11.6" text-anchor="end" fill="#111" font-weight="normal" textLength="6.4" lengthAdjust="spacingAndGlyphs" stroke="#111" stroke-width="0.1" >0</text>
<line x1="327.10" y1="564.65" x2="331.70" y2="564.65" stroke="#111" stroke-width="1.5"/>
<text x="324.10" y="568.65" font-size="11.6" text-anchor="end" fill="#111" font-weight="normal" textLength="12.8" lengthAdjust="spacingAndGlyphs" stroke="#111" stroke-width="0.1" >25</text>
<line x1="327.10" y1="525.30" x2="331.70" y2="525.30" stroke="#111" stroke-width="1.5"/>
<text x="324.10" y="529.30" font-size="11.6" text-anchor="end" fill="#111" font-weight="normal" textLength="12.8" lengthAdjust="spacingAndGlyphs" stroke="#111" stroke-width="0.1" >50</text>
<line x1="327.10" y1="485.95" x2="331.70" y2="485.95" stroke="#111" stroke-width="1.5"/>
<text x="324.10" y="489.95" font-size="11.6" text-anchor="end" fill="#111" font-weight="normal" textLength="12.8" lengthAdjust="spacingAndGlyphs" stroke="#111" stroke-width="0.1" >75</text>
<line x1="327.10" y1="446.60" x2="331.70" y2="446.60" stroke="#111" stroke-width="1.5"/>
<text x="324.10" y="450.60" font-size="11.6" text-anchor="end" fill="#111" font-weight="normal" textLength="19.2" lengthAdjust="spacingAndGlyphs" stroke="#111" stroke-width="0.1" >100</text>
<line x1="364.00" y1="604.00" x2="364.00" y2="608.30" stroke="#111" stroke-width="1.5"/>
<text x="364.00" y="624.50" font-size="12" text-anchor="middle" fill="#111" font-weight="normal" stroke="#111" stroke-width="0.1" >Acute</text>
<line x1="423.50" y1="604.00" x2="423.50" y2="608.30" stroke="#111" stroke-width="1.5"/>
<text x="423.50" y="624.50" font-size="12" text-anchor="middle" fill="#111" font-weight="normal" stroke="#111" stroke-width="0.1" >Lymphoma</text>
<line x1="482.80" y1="604.00" x2="482.80" y2="608.30" stroke="#111" stroke-width="1.5"/>
<text x="482.80" y="624.50" font-size="12" text-anchor="middle" fill="#111" font-weight="normal" stroke="#111" stroke-width="0.1" >Chronic</text>
<text transform="translate(299.10,521.30) rotate(-90)" font-size="14" text-anchor="middle" fill="#111" textLength="141" lengthAdjust="spacingAndGlyphs" stroke="#111" stroke-width="0.1">% of KIR3DL2-pos cells (IHC)</text>
<rect x="362.95" y="447.65" width="3.30" height="3.30" fill="#c8102e" />
<rect x="364.05" y="446.85" width="3.30" height="3.30" fill="#c8102e" />
<rect x="365.65" y="445.75" width="3.30" height="3.30" fill="#c8102e" />
<rect x="367.05" y="445.15" width="3.30" height="3.30" fill="#c8102e" />
<rect x="372.95" y="444.35" width="3.30" height="3.30" fill="#c8102e" />
<rect x="360.55" y="499.05" width="3.30" height="3.30" fill="#c8102e" />
<rect x="351.35" y="555.35" width="3.30" height="3.30" fill="#c8102e" />
<rect x="367.85" y="579.35" width="3.30" height="3.30" fill="#c8102e" />
<rect x="367.25" y="595.55" width="3.30" height="3.30" fill="#c8102e" />
<rect x="365.95" y="599.55" width="3.30" height="3.30" fill="#c8102e" />
<rect x="374.55" y="600.55" width="3.30" height="3.30" fill="#c8102e" />
<rect x="363.95" y="604.65" width="3.30" height="3.30" fill="#c8102e" />
<path d="M363.80,554.60 L366.20,557.00 L363.80,559.40 L361.40,557.00Z" fill="#e8909f"/>
<circle cx="415.00" cy="446.80" r="1.6" fill="#1a4f8a"/>
<circle cx="416.60" cy="471.60" r="1.6" fill="#1a4f8a"/>
<circle cx="411.50" cy="480.80" r="1.6" fill="#1a4f8a"/>
<circle cx="420.90" cy="478.90" r="1.6" fill="#1a4f8a"/>
<circle cx="413.10" cy="605.50" r="1.6" fill="#1a4f8a"/>
<circle cx="418.90" cy="602.20" r="1.6" fill="#1a4f8a"/>
<circle cx="422.40" cy="606.20" r="1.6" fill="#1a4f8a"/>
<circle cx="424.70" cy="606.90" r="1.6" fill="#1a4f8a"/>
<circle cx="427.00" cy="605.70" r="1.6" fill="#1a4f8a"/>
<circle cx="429.30" cy="604.30" r="1.6" fill="#1a4f8a"/>
<circle cx="432.80" cy="603.80" r="1.6" fill="#1a4f8a"/>
<circle cx="434.40" cy="603.80" r="1.6" fill="#1a4f8a"/>
<path d="M420.50,603.40 L422.10,605.00 L420.50,606.60 L418.90,605.00Z" fill="#9ab8d8"/>
<path d="M481.50,601.40 L483.30,604.64 L479.70,604.64Z" fill="#3cb44a"/>
<path d="M484.00,601.40 L485.80,604.64 L482.20,604.64Z" fill="#3cb44a"/>
<path d="M489.50,601.40 L491.30,604.64 L487.70,604.64Z" fill="#3cb44a"/>
<line x1="87.80" y1="657.20" x2="87.80" y2="821.60" stroke="#111" stroke-width="1.8"/>
<line x1="86.90" y1="820.80" x2="262.60" y2="820.80" stroke="#111" stroke-width="1.8"/>
<line x1="83.00" y1="820.80" x2="87.80" y2="820.80" stroke="#111" stroke-width="1.5"/>
<text x="77.70" y="825.40" font-size="12" text-anchor="end" fill="#111" font-weight="normal" textLength="5.8" lengthAdjust="spacingAndGlyphs" stroke="#111" stroke-width="0.1" >0</text>
<line x1="83.00" y1="800.90" x2="87.80" y2="800.90" stroke="#111" stroke-width="1.5"/>
<text x="77.70" y="805.50" font-size="12" text-anchor="end" fill="#111" font-weight="normal" textLength="5.8" lengthAdjust="spacingAndGlyphs" stroke="#111" stroke-width="0.1" >5</text>
<line x1="83.00" y1="781.00" x2="87.80" y2="781.00" stroke="#111" stroke-width="1.5"/>
<text x="77.70" y="785.60" font-size="12" text-anchor="end" fill="#111" font-weight="normal" textLength="11.6" lengthAdjust="spacingAndGlyphs" stroke="#111" stroke-width="0.1" >10</text>
<line x1="83.00" y1="761.10" x2="87.80" y2="761.10" stroke="#111" stroke-width="1.5"/>
<text x="77.70" y="765.70" font-size="12" text-anchor="end" fill="#111" font-weight="normal" textLength="11.6" lengthAdjust="spacingAndGlyphs" stroke="#111" stroke-width="0.1" >15</text>
<line x1="83.00" y1="741.20" x2="87.80" y2="741.20" stroke="#111" stroke-width="1.5"/>
<text x="77.70" y="745.80" font-size="12" text-anchor="end" fill="#111" font-weight="normal" textLength="11.6" lengthAdjust="spacingAndGlyphs" stroke="#111" stroke-width="0.1" >20</text>
<line x1="83.00" y1="721.30" x2="87.80" y2="721.30" stroke="#111" stroke-width="1.5"/>
<text x="77.70" y="725.90" font-size="12" text-anchor="end" fill="#111" font-weight="normal" textLength="11.6" lengthAdjust="spacingAndGlyphs" stroke="#111" stroke-width="0.1" >25</text>
<line x1="83.00" y1="701.40" x2="87.80" y2="701.40" stroke="#111" stroke-width="1.5"/>
<text x="77.70" y="706.00" font-size="12" text-anchor="end" fill="#111" font-weight="normal" textLength="11.6" lengthAdjust="spacingAndGlyphs" stroke="#111" stroke-width="0.1" >30</text>
<line x1="83.00" y1="681.50" x2="87.80" y2="681.50" stroke="#111" stroke-width="1.5"/>
<text x="77.70" y="686.10" font-size="12" text-anchor="end" fill="#111" font-weight="normal" textLength="11.6" lengthAdjust="spacingAndGlyphs" stroke="#111" stroke-width="0.1" >35</text>
<line x1="83.00" y1="661.60" x2="87.80" y2="661.60" stroke="#111" stroke-width="1.5"/>
<text x="77.70" y="666.20" font-size="12" text-anchor="end" fill="#111" font-weight="normal" textLength="11.6" lengthAdjust="spacingAndGlyphs" stroke="#111" stroke-width="0.1" >40</text>
<line x1="87.80" y1="820.80" x2="87.80" y2="825.20" stroke="#111" stroke-width="1.5"/>
<text x="87.80" y="838.60" font-size="12" text-anchor="middle" fill="#111" font-weight="normal" textLength="5.8" lengthAdjust="spacingAndGlyphs" stroke="#111" stroke-width="0.1" >0</text>
<line x1="116.09" y1="820.80" x2="116.09" y2="825.20" stroke="#111" stroke-width="1.5"/>
<text x="116.09" y="838.60" font-size="12" text-anchor="middle" fill="#111" font-weight="normal" textLength="5.8" lengthAdjust="spacingAndGlyphs" stroke="#111" stroke-width="0.1" >3</text>
<line x1="144.38" y1="820.80" x2="144.38" y2="825.20" stroke="#111" stroke-width="1.5"/>
<text x="144.38" y="838.60" font-size="12" text-anchor="middle" fill="#111" font-weight="normal" textLength="5.8" lengthAdjust="spacingAndGlyphs" stroke="#111" stroke-width="0.1" >6</text>
<line x1="172.67" y1="820.80" x2="172.67" y2="825.20" stroke="#111" stroke-width="1.5"/>
<text x="172.67" y="838.60" font-size="12" text-anchor="middle" fill="#111" font-weight="normal" textLength="5.8" lengthAdjust="spacingAndGlyphs" stroke="#111" stroke-width="0.1" >9</text>
<line x1="200.96" y1="820.80" x2="200.96" y2="825.20" stroke="#111" stroke-width="1.5"/>
<text x="200.96" y="838.60" font-size="12" text-anchor="middle" fill="#111" font-weight="normal" textLength="11.6" lengthAdjust="spacingAndGlyphs" stroke="#111" stroke-width="0.1" >12</text>
<line x1="229.25" y1="820.80" x2="229.25" y2="825.20" stroke="#111" stroke-width="1.5"/>
<text x="229.25" y="838.60" font-size="12" text-anchor="middle" fill="#111" font-weight="normal" textLength="11.6" lengthAdjust="spacingAndGlyphs" stroke="#111" stroke-width="0.1" >15</text>
<line x1="257.54" y1="820.80" x2="257.54" y2="825.20" stroke="#111" stroke-width="1.5"/>
<text x="257.54" y="838.60" font-size="12" text-anchor="middle" fill="#111" font-weight="normal" textLength="11.6" lengthAdjust="spacingAndGlyphs" stroke="#111" stroke-width="0.1" >18</text>
<text x="175.50" y="858.80" font-size="14.8" text-anchor="middle" fill="#111" font-weight="normal" textLength="37.9" lengthAdjust="spacingAndGlyphs" stroke="#111" stroke-width="0.1" >Months</text>
<text transform="translate(55.60,737.80) rotate(-90)" font-size="13.5" text-anchor="middle" fill="#111" textLength="90.2" lengthAdjust="spacingAndGlyphs" stroke="#111" stroke-width="0.1">Lymphocytes (G/L)</text>
<polyline points="87.80,806.87 134.95,812.04 153.81,806.47 219.82,673.14 238.68,812.04" fill="none" stroke="#c8102e" stroke-width="1.8" stroke-linejoin="round"/>
<circle cx="87.80" cy="806.87" r="2.9" fill="#c8102e"/>
<circle cx="134.95" cy="812.04" r="2.9" fill="#c8102e"/>
<circle cx="153.81" cy="806.47" r="2.9" fill="#c8102e"/>
<circle cx="219.82" cy="673.14" r="2.9" fill="#c8102e"/>
<circle cx="238.68" cy="812.04" r="2.9" fill="#c8102e"/>
<text x="168.60" y="879.80" font-size="12" text-anchor="middle" fill="#111" font-weight="normal" textLength="192.7" lengthAdjust="spacingAndGlyphs" stroke="#111" stroke-width="0.1" >Chronic-type &gt; Evolution to acute</text>
<line x1="26.40" y1="893.00" x2="26.40" y2="1011.60" stroke="#111" stroke-width="1.7"/>
<line x1="25.60" y1="1010.80" x2="273.50" y2="1010.80" stroke="#111" stroke-width="1.7"/>
<path d="M26.4,887.8 L29.8,894.2 L23,894.2Z" fill="#111"/>
<path d="M279,1010.8 L272.5,1007.5 L272.5,1014.1Z" fill="#111"/>
<text transform="translate(21.70,949.40) rotate(-90)" font-size="14.6" text-anchor="middle" fill="#111" textLength="20.2" lengthAdjust="spacingAndGlyphs" stroke="#111" stroke-width="0.1">CD4</text>
<text x="152.20" y="1027.80" font-size="15" text-anchor="middle" fill="#111" font-weight="normal" textLength="41.8" lengthAdjust="spacingAndGlyphs" stroke="#111" stroke-width="0.1" >KIR3DL2</text>
<defs><radialGradient id="bg1" cx="0.5" cy="0.5" r="0.5"><stop offset="0" stop-color="#e08018"/><stop offset="0.15" stop-color="#b8d030"/><stop offset="0.35" stop-color="#38d048"/><stop offset="0.58" stop-color="#20b0e0"/><stop offset="0.78" stop-color="#2038f0" stop-opacity="0.85"/><stop offset="1" stop-color="#3a4cf6" stop-opacity="0"/></radialGradient></defs>
<path d="M68.5 936.6h0.9v0.9h-0.9zM68.8 928.3h0.9v0.9h-0.9zM62.4 929.4h0.9v0.9h-0.9zM80.8 935.7h0.9v0.9h-0.9zM80.1 934.0h0.9v0.9h-0.9zM74.4 933.4h0.9v0.9h-0.9zM75.4 936.5h0.9v0.9h-0.9zM62.8 926.8h0.9v0.9h-0.9zM73.5 931.0h0.9v0.9h-0.9zM75.5 925.1h0.9v0.9h-0.9zM73.6 935.4h0.9v0.9h-0.9zM64.8 948.7h0.9v0.9h-0.9zM75.8 943.5h0.9v0.9h-0.9zM65.2 924.1h0.9v0.9h-0.9zM67.7 930.4h0.9v0.9h-0.9zM76.5 934.0h0.9v0.9h-0.9zM66.8 921.9h0.9v0.9h-0.9zM66.1 943.7h0.9v0.9h-0.9zM63.5 933.9h0.9v0.9h-0.9zM74.6 916.6h0.9v0.9h-0.9zM71.2 944.6h0.9v0.9h-0.9zM69.8 923.3h0.9v0.9h-0.9zM75.3 930.9h0.9v0.9h-0.9zM76.8 941.0h0.9v0.9h-0.9zM83.8 935.1h0.9v0.9h-0.9zM71.9 918.5h0.9v0.9h-0.9zM76.3 925.4h0.9v0.9h-0.9zM66.7 918.9h0.9v0.9h-0.9zM62.1 926.2h0.9v0.9h-0.9zM82.4 911.2h0.9v0.9h-0.9zM83.8 937.3h0.9v0.9h-0.9zM74.0 924.1h0.9v0.9h-0.9zM60.7 941.3h0.9v0.9h-0.9zM80.7 933.1h0.9v0.9h-0.9zM73.0 935.8h0.9v0.9h-0.9zM85.1 937.7h0.9v0.9h-0.9zM75.5 937.0h0.9v0.9h-0.9zM79.4 936.8h0.9v0.9h-0.9zM78.4 913.4h0.9v0.9h-0.9zM69.1 941.7h0.9v0.9h-0.9zM75.8 930.0h0.9v0.9h-0.9zM73.7 938.0h0.9v0.9h-0.9zM71.9 943.0h0.9v0.9h-0.9zM64.8 927.4h0.9v0.9h-0.9zM80.2 931.8h0.9v0.9h-0.9zM62.9 941.0h0.9v0.9h-0.9zM84.0 927.1h0.9v0.9h-0.9zM69.5 928.5h0.9v0.9h-0.9zM83.4 921.2h0.9v0.9h-0.9zM82.1 918.8h0.9v0.9h-0.9zM63.7 937.8h0.9v0.9h-0.9zM81.0 940.1h0.9v0.9h-0.9zM73.9 932.9h0.9v0.9h-0.9zM72.2 937.3h0.9v0.9h-0.9zM69.2 934.3h0.9v0.9h-0.9zM76.0 931.5h0.9v0.9h-0.9zM77.7 937.2h0.9v0.9h-0.9zM88.9 934.7h0.9v0.9h-0.9zM67.0 927.8h0.9v0.9h-0.9zM70.7 940.7h0.9v0.9h-0.9zM67.8 935.4h0.9v0.9h-0.9zM87.3 905.9h0.9v0.9h-0.9zM60.7 933.9h0.9v0.9h-0.9zM74.4 933.9h0.9v0.9h-0.9zM66.9 938.1h0.9v0.9h-0.9zM73.3 926.3h0.9v0.9h-0.9zM92.7 935.1h0.9v0.9h-0.9zM65.8 930.5h0.9v0.9h-0.9zM68.8 930.9h0.9v0.9h-0.9zM79.9 919.8h0.9v0.9h-0.9zM70.2 941.0h0.9v0.9h-0.9zM78.5 946.4h0.9v0.9h-0.9zM67.7 937.7h0.9v0.9h-0.9zM80.6 904.7h0.9v0.9h-0.9zM80.6 917.0h0.9v0.9h-0.9zM76.9 916.6h0.9v0.9h-0.9zM72.4 943.4h0.9v0.9h-0.9zM69.5 933.4h0.9v0.9h-0.9zM78.0 932.9h0.9v0.9h-0.9zM70.0 946.8h0.9v0.9h-0.9zM80.2 928.6h0.9v0.9h-0.9zM95.5 920.0h0.9v0.9h-0.9zM79.0 928.8h0.9v0.9h-0.9zM72.0 938.6h0.9v0.9h-0.9zM72.8 937.9h0.9v0.9h-0.9zM76.3 921.9h0.9v0.9h-0.9zM61.6 916.8h0.9v0.9h-0.9zM82.2 939.0h0.9v0.9h-0.9zM84.1 922.1h0.9v0.9h-0.9zM70.8 920.1h0.9v0.9h-0.9zM77.7 947.4h0.9v0.9h-0.9zM62.8 947.1h0.9v0.9h-0.9zM79.7 929.7h0.9v0.9h-0.9zM69.9 925.5h0.9v0.9h-0.9zM74.4 935.6h0.9v0.9h-0.9zM84.3 921.3h0.9v0.9h-0.9zM76.2 970.4h0.9v0.9h-0.9zM78.0 962.1h0.9v0.9h-0.9zM65.9 968.1h0.9v0.9h-0.9zM70.6 963.6h0.9v0.9h-0.9zM77.8 961.7h0.9v0.9h-0.9zM59.8 967.1h0.9v0.9h-0.9zM71.7 959.9h0.9v0.9h-0.9zM69.9 967.2h0.9v0.9h-0.9zM70.4 969.6h0.9v0.9h-0.9zM69.7 968.2h0.9v0.9h-0.9zM78.2 971.0h0.9v0.9h-0.9zM66.3 967.4h0.9v0.9h-0.9zM59.7 957.6h0.9v0.9h-0.9zM63.2 962.9h0.9v0.9h-0.9zM68.9 962.9h0.9v0.9h-0.9zM66.7 964.2h0.9v0.9h-0.9zM79.9 963.2h0.9v0.9h-0.9zM72.9 968.0h0.9v0.9h-0.9zM68.9 956.7h0.9v0.9h-0.9zM66.9 968.4h0.9v0.9h-0.9zM60.9 960.0h0.9v0.9h-0.9zM75.5 967.0h0.9v0.9h-0.9zM70.0 967.0h0.9v0.9h-0.9zM70.9 957.1h0.9v0.9h-0.9zM61.4 959.8h0.9v0.9h-0.9zM75.1 960.2h0.9v0.9h-0.9zM65.0 959.1h0.9v0.9h-0.9zM61.6 962.4h0.9v0.9h-0.9zM63.5 964.8h0.9v0.9h-0.9zM66.5 953.3h0.9v0.9h-0.9zM74.0 961.6h0.9v0.9h-0.9zM71.6 960.7h0.9v0.9h-0.9zM74.3 966.7h0.9v0.9h-0.9zM73.7 964.6h0.9v0.9h-0.9zM77.3 966.3h0.9v0.9h-0.9zM72.5 952.6h0.9v0.9h-0.9zM74.9 969.5h0.9v0.9h-0.9zM68.4 960.7h0.9v0.9h-0.9zM80.7 954.2h0.9v0.9h-0.9zM72.6 975.1h0.9v0.9h-0.9zM64.9 966.4h0.9v0.9h-0.9zM80.4 962.4h0.9v0.9h-0.9zM73.1 967.5h0.9v0.9h-0.9zM65.0 962.6h0.9v0.9h-0.9zM71.6 967.1h0.9v0.9h-0.9zM69.8 962.0h0.9v0.9h-0.9zM64.4 961.2h0.9v0.9h-0.9zM74.9 963.5h0.9v0.9h-0.9zM65.3 958.8h0.9v0.9h-0.9zM84.7 968.7h0.9v0.9h-0.9zM73.5 950.0h0.9v0.9h-0.9zM73.4 965.4h0.9v0.9h-0.9zM79.3 965.1h0.9v0.9h-0.9zM69.6 965.6h0.9v0.9h-0.9zM59.3 968.2h0.9v0.9h-0.9zM71.8 959.5h0.9v0.9h-0.9zM77.3 972.0h0.9v0.9h-0.9zM62.3 959.7h0.9v0.9h-0.9zM71.6 963.9h0.9v0.9h-0.9zM67.8 958.1h0.9v0.9h-0.9zM81.7 968.2h0.9v0.9h-0.9zM63.4 956.3h0.9v0.9h-0.9zM79.4 967.9h0.9v0.9h-0.9zM80.0 967.1h0.9v0.9h-0.9zM65.2 964.3h0.9v0.9h-0.9zM69.7 965.6h0.9v0.9h-0.9zM66.0 962.4h0.9v0.9h-0.9zM72.5 964.9h0.9v0.9h-0.9zM73.5 964.0h0.9v0.9h-0.9zM68.2 966.9h0.9v0.9h-0.9zM70.3 958.9h0.9v0.9h-0.9zM66.6 963.0h0.9v0.9h-0.9zM69.4 963.8h0.9v0.9h-0.9zM70.0 963.9h0.9v0.9h-0.9zM69.3 956.7h0.9v0.9h-0.9z" fill="#6a78ff" fill-opacity="0.5"/>
<path d="M73.1 939.4h0.9v0.9h-0.9zM73.1 932.4h0.9v0.9h-0.9zM73.2 928.1h0.9v0.9h-0.9zM60.6 933.8h0.9v0.9h-0.9zM65.8 937.6h0.9v0.9h-0.9zM64.9 918.8h0.9v0.9h-0.9zM65.2 942.3h0.9v0.9h-0.9zM68.7 925.8h0.9v0.9h-0.9zM66.7 936.4h0.9v0.9h-0.9zM73.5 934.5h0.9v0.9h-0.9zM78.8 937.5h0.9v0.9h-0.9zM70.7 936.8h0.9v0.9h-0.9zM79.7 938.9h0.9v0.9h-0.9zM76.3 927.4h0.9v0.9h-0.9zM70.0 937.6h0.9v0.9h-0.9zM69.2 939.5h0.9v0.9h-0.9zM74.0 938.6h0.9v0.9h-0.9zM69.7 947.8h0.9v0.9h-0.9zM77.5 932.3h0.9v0.9h-0.9zM71.3 948.0h0.9v0.9h-0.9zM68.9 938.4h0.9v0.9h-0.9zM76.1 933.5h0.9v0.9h-0.9zM64.5 934.6h0.9v0.9h-0.9zM72.7 939.8h0.9v0.9h-0.9zM75.0 933.6h0.9v0.9h-0.9zM75.4 936.5h0.9v0.9h-0.9zM71.9 933.8h0.9v0.9h-0.9zM69.5 937.3h0.9v0.9h-0.9zM65.1 930.0h0.9v0.9h-0.9zM70.8 925.3h0.9v0.9h-0.9zM68.4 922.3h0.9v0.9h-0.9zM67.1 936.7h0.9v0.9h-0.9zM73.9 933.2h0.9v0.9h-0.9zM69.5 925.6h0.9v0.9h-0.9zM80.7 936.4h0.9v0.9h-0.9zM76.7 928.6h0.9v0.9h-0.9zM69.8 923.3h0.9v0.9h-0.9zM75.0 938.7h0.9v0.9h-0.9zM60.6 933.2h0.9v0.9h-0.9zM74.2 923.6h0.9v0.9h-0.9zM60.9 927.5h0.9v0.9h-0.9zM67.4 925.6h0.9v0.9h-0.9zM71.0 934.9h0.9v0.9h-0.9zM74.2 937.4h0.9v0.9h-0.9zM78.9 940.0h0.9v0.9h-0.9zM63.7 930.7h0.9v0.9h-0.9zM65.1 927.5h0.9v0.9h-0.9zM70.4 933.5h0.9v0.9h-0.9zM73.4 924.6h0.9v0.9h-0.9zM64.1 933.4h0.9v0.9h-0.9zM69.7 931.8h0.9v0.9h-0.9zM70.5 929.2h0.9v0.9h-0.9zM74.6 935.5h0.9v0.9h-0.9zM70.3 929.7h0.9v0.9h-0.9zM69.9 918.3h0.9v0.9h-0.9zM65.5 933.7h0.9v0.9h-0.9zM62.7 934.6h0.9v0.9h-0.9zM71.6 925.8h0.9v0.9h-0.9zM69.4 931.7h0.9v0.9h-0.9zM73.3 936.9h0.9v0.9h-0.9zM70.6 928.7h0.9v0.9h-0.9zM70.0 933.1h0.9v0.9h-0.9zM74.8 935.1h0.9v0.9h-0.9zM66.9 925.9h0.9v0.9h-0.9zM68.8 929.4h0.9v0.9h-0.9zM64.8 932.9h0.9v0.9h-0.9zM68.1 934.1h0.9v0.9h-0.9zM73.6 931.2h0.9v0.9h-0.9zM83.4 931.7h0.9v0.9h-0.9zM76.7 934.2h0.9v0.9h-0.9zM76.8 920.2h0.9v0.9h-0.9zM66.7 934.9h0.9v0.9h-0.9zM74.1 946.6h0.9v0.9h-0.9zM72.5 940.7h0.9v0.9h-0.9zM74.9 938.8h0.9v0.9h-0.9zM73.6 932.6h0.9v0.9h-0.9zM73.5 927.5h0.9v0.9h-0.9zM77.2 927.8h0.9v0.9h-0.9zM72.1 945.4h0.9v0.9h-0.9zM69.6 933.6h0.9v0.9h-0.9zM77.1 933.6h0.9v0.9h-0.9zM66.4 934.9h0.9v0.9h-0.9zM73.9 937.5h0.9v0.9h-0.9zM66.6 943.3h0.9v0.9h-0.9zM79.8 933.6h0.9v0.9h-0.9zM72.3 931.1h0.9v0.9h-0.9zM78.4 929.6h0.9v0.9h-0.9zM74.4 930.8h0.9v0.9h-0.9zM67.1 937.5h0.9v0.9h-0.9zM78.0 933.4h0.9v0.9h-0.9zM67.1 938.0h0.9v0.9h-0.9zM70.5 935.2h0.9v0.9h-0.9zM79.0 939.8h0.9v0.9h-0.9zM68.0 946.3h0.9v0.9h-0.9zM70.8 937.9h0.9v0.9h-0.9zM67.3 933.2h0.9v0.9h-0.9zM61.4 943.5h0.9v0.9h-0.9zM78.2 926.7h0.9v0.9h-0.9zM62.7 924.4h0.9v0.9h-0.9zM77.1 930.9h0.9v0.9h-0.9zM70.5 931.7h0.9v0.9h-0.9zM70.1 927.4h0.9v0.9h-0.9zM70.9 925.4h0.9v0.9h-0.9zM70.4 935.2h0.9v0.9h-0.9zM73.3 932.2h0.9v0.9h-0.9zM65.9 934.4h0.9v0.9h-0.9zM68.2 942.3h0.9v0.9h-0.9zM74.9 932.9h0.9v0.9h-0.9zM68.3 929.6h0.9v0.9h-0.9zM65.7 931.5h0.9v0.9h-0.9zM72.4 936.4h0.9v0.9h-0.9zM73.9 945.3h0.9v0.9h-0.9zM67.0 933.6h0.9v0.9h-0.9zM85.9 923.0h0.9v0.9h-0.9zM68.0 934.4h0.9v0.9h-0.9zM71.6 935.8h0.9v0.9h-0.9zM69.5 935.6h0.9v0.9h-0.9zM71.1 937.8h0.9v0.9h-0.9zM60.6 928.5h0.9v0.9h-0.9zM70.8 927.7h0.9v0.9h-0.9zM65.2 937.0h0.9v0.9h-0.9zM67.3 937.1h0.9v0.9h-0.9zM74.8 935.2h0.9v0.9h-0.9zM73.5 932.9h0.9v0.9h-0.9zM63.2 933.3h0.9v0.9h-0.9zM73.3 930.5h0.9v0.9h-0.9zM70.3 937.7h0.9v0.9h-0.9zM66.1 937.1h0.9v0.9h-0.9zM80.9 930.4h0.9v0.9h-0.9zM71.6 932.7h0.9v0.9h-0.9zM79.1 935.3h0.9v0.9h-0.9zM75.6 929.6h0.9v0.9h-0.9zM70.7 933.4h0.9v0.9h-0.9zM61.2 941.6h0.9v0.9h-0.9zM75.7 923.7h0.9v0.9h-0.9zM74.8 932.8h0.9v0.9h-0.9zM73.2 935.6h0.9v0.9h-0.9zM62.7 932.3h0.9v0.9h-0.9zM78.9 930.3h0.9v0.9h-0.9zM65.3 925.9h0.9v0.9h-0.9zM64.2 935.4h0.9v0.9h-0.9zM79.9 935.9h0.9v0.9h-0.9zM72.1 946.0h0.9v0.9h-0.9zM68.0 929.7h0.9v0.9h-0.9zM73.7 936.6h0.9v0.9h-0.9zM65.3 926.9h0.9v0.9h-0.9zM72.4 934.9h0.9v0.9h-0.9zM63.7 932.4h0.9v0.9h-0.9zM67.9 936.1h0.9v0.9h-0.9zM70.2 933.0h0.9v0.9h-0.9zM68.9 939.4h0.9v0.9h-0.9zM78.3 931.4h0.9v0.9h-0.9zM75.4 929.3h0.9v0.9h-0.9zM71.2 937.7h0.9v0.9h-0.9zM79.0 931.4h0.9v0.9h-0.9zM70.4 934.6h0.9v0.9h-0.9zM62.7 933.6h0.9v0.9h-0.9zM67.2 935.6h0.9v0.9h-0.9zM64.7 922.4h0.9v0.9h-0.9zM71.0 935.0h0.9v0.9h-0.9zM67.8 938.5h0.9v0.9h-0.9zM69.3 930.1h0.9v0.9h-0.9zM73.4 924.7h0.9v0.9h-0.9zM67.1 933.4h0.9v0.9h-0.9zM75.4 932.6h0.9v0.9h-0.9zM72.5 929.8h0.9v0.9h-0.9zM72.4 942.8h0.9v0.9h-0.9zM67.1 946.8h0.9v0.9h-0.9zM67.3 933.6h0.9v0.9h-0.9zM71.7 939.2h0.9v0.9h-0.9zM64.1 921.7h0.9v0.9h-0.9zM74.1 938.0h0.9v0.9h-0.9zM74.2 948.2h0.9v0.9h-0.9zM71.9 934.9h0.9v0.9h-0.9zM75.8 935.6h0.9v0.9h-0.9zM79.8 926.6h0.9v0.9h-0.9zM68.8 914.2h0.9v0.9h-0.9zM75.2 931.4h0.9v0.9h-0.9zM75.8 945.6h0.9v0.9h-0.9zM70.8 932.1h0.9v0.9h-0.9zM68.1 928.8h0.9v0.9h-0.9zM67.4 937.1h0.9v0.9h-0.9zM71.0 933.9h0.9v0.9h-0.9zM69.9 938.6h0.9v0.9h-0.9zM73.5 932.7h0.9v0.9h-0.9zM74.4 932.7h0.9v0.9h-0.9zM64.6 941.6h0.9v0.9h-0.9zM73.3 928.1h0.9v0.9h-0.9zM76.6 935.4h0.9v0.9h-0.9zM62.4 942.5h0.9v0.9h-0.9zM72.6 938.5h0.9v0.9h-0.9zM71.9 932.7h0.9v0.9h-0.9zM62.4 938.9h0.9v0.9h-0.9zM71.0 931.9h0.9v0.9h-0.9zM72.7 933.9h0.9v0.9h-0.9zM74.4 931.4h0.9v0.9h-0.9zM70.6 921.5h0.9v0.9h-0.9zM68.5 937.3h0.9v0.9h-0.9zM78.0 931.5h0.9v0.9h-0.9zM70.1 942.4h0.9v0.9h-0.9zM69.0 937.6h0.9v0.9h-0.9zM79.9 933.7h0.9v0.9h-0.9zM77.4 929.5h0.9v0.9h-0.9zM71.9 933.1h0.9v0.9h-0.9zM71.4 939.8h0.9v0.9h-0.9zM83.7 929.8h0.9v0.9h-0.9zM67.7 936.3h0.9v0.9h-0.9zM65.1 936.3h0.9v0.9h-0.9zM73.9 931.9h0.9v0.9h-0.9zM73.7 924.8h0.9v0.9h-0.9zM74.9 924.8h0.9v0.9h-0.9zM67.0 930.4h0.9v0.9h-0.9zM68.6 938.3h0.9v0.9h-0.9zM71.2 931.3h0.9v0.9h-0.9zM73.7 942.4h0.9v0.9h-0.9zM70.8 935.5h0.9v0.9h-0.9zM77.5 935.0h0.9v0.9h-0.9zM63.9 947.4h0.9v0.9h-0.9zM82.7 922.4h0.9v0.9h-0.9zM70.6 935.8h0.9v0.9h-0.9zM76.0 937.2h0.9v0.9h-0.9zM69.3 927.6h0.9v0.9h-0.9zM71.4 939.3h0.9v0.9h-0.9zM64.9 927.7h0.9v0.9h-0.9zM70.7 922.7h0.9v0.9h-0.9zM69.4 931.1h0.9v0.9h-0.9zM73.2 929.6h0.9v0.9h-0.9zM66.0 931.3h0.9v0.9h-0.9zM70.5 929.8h0.9v0.9h-0.9zM70.9 937.7h0.9v0.9h-0.9zM77.2 943.0h0.9v0.9h-0.9zM66.6 931.1h0.9v0.9h-0.9zM66.9 933.3h0.9v0.9h-0.9zM73.6 925.9h0.9v0.9h-0.9zM73.3 933.4h0.9v0.9h-0.9zM60.9 935.1h0.9v0.9h-0.9zM77.3 923.0h0.9v0.9h-0.9zM75.2 934.7h0.9v0.9h-0.9zM73.4 936.0h0.9v0.9h-0.9zM77.8 932.2h0.9v0.9h-0.9zM75.5 931.2h0.9v0.9h-0.9zM74.7 928.9h0.9v0.9h-0.9zM70.2 943.2h0.9v0.9h-0.9zM73.2 932.6h0.9v0.9h-0.9zM64.6 929.1h0.9v0.9h-0.9zM71.8 938.8h0.9v0.9h-0.9zM73.1 936.4h0.9v0.9h-0.9zM70.6 941.1h0.9v0.9h-0.9zM68.7 930.4h0.9v0.9h-0.9zM75.6 933.9h0.9v0.9h-0.9zM69.3 930.3h0.9v0.9h-0.9zM69.4 937.0h0.9v0.9h-0.9zM72.7 926.7h0.9v0.9h-0.9zM73.1 934.5h0.9v0.9h-0.9zM65.4 937.8h0.9v0.9h-0.9zM69.3 931.6h0.9v0.9h-0.9zM75.1 940.9h0.9v0.9h-0.9zM67.1 936.0h0.9v0.9h-0.9zM66.1 946.5h0.9v0.9h-0.9zM68.1 940.2h0.9v0.9h-0.9zM67.3 938.0h0.9v0.9h-0.9zM82.8 919.3h0.9v0.9h-0.9zM68.5 936.3h0.9v0.9h-0.9zM70.3 929.8h0.9v0.9h-0.9zM82.4 933.9h0.9v0.9h-0.9zM61.9 938.3h0.9v0.9h-0.9zM61.5 939.9h0.9v0.9h-0.9zM67.7 934.3h0.9v0.9h-0.9zM77.6 934.2h0.9v0.9h-0.9zM63.3 924.0h0.9v0.9h-0.9zM77.2 937.6h0.9v0.9h-0.9zM66.4 938.3h0.9v0.9h-0.9zM73.5 937.1h0.9v0.9h-0.9zM75.7 937.6h0.9v0.9h-0.9zM75.6 919.7h0.9v0.9h-0.9zM71.7 936.3h0.9v0.9h-0.9zM84.6 928.2h0.9v0.9h-0.9zM69.0 933.7h0.9v0.9h-0.9zM75.6 931.0h0.9v0.9h-0.9zM77.0 929.1h0.9v0.9h-0.9zM72.2 930.5h0.9v0.9h-0.9zM71.7 929.6h0.9v0.9h-0.9zM62.2 939.6h0.9v0.9h-0.9zM72.4 930.4h0.9v0.9h-0.9zM71.9 939.0h0.9v0.9h-0.9zM65.5 932.9h0.9v0.9h-0.9zM73.7 936.4h0.9v0.9h-0.9zM69.0 921.7h0.9v0.9h-0.9zM77.5 935.3h0.9v0.9h-0.9zM70.9 931.9h0.9v0.9h-0.9zM72.2 931.1h0.9v0.9h-0.9zM65.3 929.4h0.9v0.9h-0.9zM67.6 930.1h0.9v0.9h-0.9zM64.5 937.1h0.9v0.9h-0.9zM63.7 937.2h0.9v0.9h-0.9zM65.3 935.5h0.9v0.9h-0.9zM78.2 934.6h0.9v0.9h-0.9zM66.9 933.8h0.9v0.9h-0.9zM71.6 923.8h0.9v0.9h-0.9zM67.5 934.4h0.9v0.9h-0.9zM68.3 933.9h0.9v0.9h-0.9zM74.8 937.8h0.9v0.9h-0.9zM75.7 936.8h0.9v0.9h-0.9zM69.2 933.4h0.9v0.9h-0.9zM69.3 931.7h0.9v0.9h-0.9zM69.8 923.8h0.9v0.9h-0.9zM69.0 933.4h0.9v0.9h-0.9zM65.5 933.4h0.9v0.9h-0.9zM73.6 932.6h0.9v0.9h-0.9zM82.0 918.9h0.9v0.9h-0.9zM69.7 923.3h0.9v0.9h-0.9zM76.1 948.4h0.9v0.9h-0.9zM73.6 931.8h0.9v0.9h-0.9zM73.8 920.9h0.9v0.9h-0.9zM75.4 935.6h0.9v0.9h-0.9zM70.9 930.2h0.9v0.9h-0.9zM74.2 930.8h0.9v0.9h-0.9zM72.0 930.6h0.9v0.9h-0.9zM71.9 937.7h0.9v0.9h-0.9zM66.1 933.3h0.9v0.9h-0.9zM74.1 934.3h0.9v0.9h-0.9zM77.5 944.7h0.9v0.9h-0.9zM65.9 922.7h0.9v0.9h-0.9zM75.4 942.1h0.9v0.9h-0.9zM75.8 938.1h0.9v0.9h-0.9zM67.5 929.5h0.9v0.9h-0.9zM75.6 928.4h0.9v0.9h-0.9zM61.0 927.9h0.9v0.9h-0.9zM84.3 944.3h0.9v0.9h-0.9zM67.1 929.4h0.9v0.9h-0.9zM72.0 929.3h0.9v0.9h-0.9zM77.9 933.1h0.9v0.9h-0.9zM64.9 940.8h0.9v0.9h-0.9zM67.7 934.7h0.9v0.9h-0.9zM70.7 931.7h0.9v0.9h-0.9zM72.6 929.6h0.9v0.9h-0.9zM60.8 921.1h0.9v0.9h-0.9zM64.0 929.3h0.9v0.9h-0.9zM70.7 933.8h0.9v0.9h-0.9zM73.8 934.2h0.9v0.9h-0.9zM66.5 929.5h0.9v0.9h-0.9zM59.4 932.6h0.9v0.9h-0.9zM73.4 936.5h0.9v0.9h-0.9zM70.1 932.5h0.9v0.9h-0.9zM75.9 933.6h0.9v0.9h-0.9zM74.8 936.8h0.9v0.9h-0.9zM72.0 940.8h0.9v0.9h-0.9zM67.7 931.5h0.9v0.9h-0.9zM66.4 929.0h0.9v0.9h-0.9zM79.2 943.4h0.9v0.9h-0.9zM70.9 936.7h0.9v0.9h-0.9zM77.1 938.0h0.9v0.9h-0.9zM77.3 926.4h0.9v0.9h-0.9zM67.3 936.0h0.9v0.9h-0.9zM78.6 934.1h0.9v0.9h-0.9zM66.2 931.5h0.9v0.9h-0.9zM67.2 928.7h0.9v0.9h-0.9zM78.9 930.0h0.9v0.9h-0.9zM70.9 945.6h0.9v0.9h-0.9zM77.2 935.4h0.9v0.9h-0.9zM67.5 935.8h0.9v0.9h-0.9zM79.6 937.0h0.9v0.9h-0.9zM77.6 934.0h0.9v0.9h-0.9zM73.6 932.4h0.9v0.9h-0.9zM73.1 940.8h0.9v0.9h-0.9zM63.1 933.1h0.9v0.9h-0.9zM72.1 930.3h0.9v0.9h-0.9zM69.1 937.9h0.9v0.9h-0.9zM81.6 937.0h0.9v0.9h-0.9zM72.6 924.8h0.9v0.9h-0.9zM81.2 933.9h0.9v0.9h-0.9zM70.6 927.2h0.9v0.9h-0.9zM70.5 927.4h0.9v0.9h-0.9zM71.2 936.1h0.9v0.9h-0.9zM71.0 935.1h0.9v0.9h-0.9zM66.2 941.5h0.9v0.9h-0.9zM67.3 923.3h0.9v0.9h-0.9zM69.8 929.2h0.9v0.9h-0.9zM65.3 931.5h0.9v0.9h-0.9zM72.4 926.9h0.9v0.9h-0.9zM70.1 941.5h0.9v0.9h-0.9zM74.5 932.6h0.9v0.9h-0.9zM71.5 932.8h0.9v0.9h-0.9zM70.5 937.6h0.9v0.9h-0.9zM70.3 920.0h0.9v0.9h-0.9zM70.7 928.5h0.9v0.9h-0.9zM74.3 930.1h0.9v0.9h-0.9zM71.6 945.7h0.9v0.9h-0.9zM65.1 927.2h0.9v0.9h-0.9zM63.2 920.1h0.9v0.9h-0.9zM60.7 935.5h0.9v0.9h-0.9zM67.4 923.0h0.9v0.9h-0.9zM62.8 937.0h0.9v0.9h-0.9zM66.6 931.4h0.9v0.9h-0.9zM72.6 941.1h0.9v0.9h-0.9zM81.3 939.3h0.9v0.9h-0.9zM71.6 934.5h0.9v0.9h-0.9zM80.5 941.5h0.9v0.9h-0.9zM69.1 936.1h0.9v0.9h-0.9zM72.3 933.8h0.9v0.9h-0.9zM68.1 926.1h0.9v0.9h-0.9zM67.9 924.9h0.9v0.9h-0.9zM77.4 936.5h0.9v0.9h-0.9zM64.3 941.3h0.9v0.9h-0.9zM75.6 922.8h0.9v0.9h-0.9zM80.7 938.0h0.9v0.9h-0.9zM81.9 926.6h0.9v0.9h-0.9zM73.7 935.9h0.9v0.9h-0.9zM71.9 934.5h0.9v0.9h-0.9zM76.5 925.1h0.9v0.9h-0.9zM64.1 925.7h0.9v0.9h-0.9zM67.8 930.1h0.9v0.9h-0.9zM72.8 935.0h0.9v0.9h-0.9zM71.0 929.7h0.9v0.9h-0.9zM68.4 938.8h0.9v0.9h-0.9zM74.9 934.1h0.9v0.9h-0.9zM69.1 942.2h0.9v0.9h-0.9zM67.6 937.1h0.9v0.9h-0.9zM77.0 932.0h0.9v0.9h-0.9zM75.3 927.3h0.9v0.9h-0.9zM76.3 934.6h0.9v0.9h-0.9zM62.2 937.2h0.9v0.9h-0.9zM66.0 940.7h0.9v0.9h-0.9zM67.1 932.6h0.9v0.9h-0.9zM72.3 931.6h0.9v0.9h-0.9zM72.2 930.4h0.9v0.9h-0.9zM74.4 933.5h0.9v0.9h-0.9zM71.9 918.1h0.9v0.9h-0.9zM77.1 933.7h0.9v0.9h-0.9zM61.2 934.0h0.9v0.9h-0.9zM73.3 939.5h0.9v0.9h-0.9zM65.0 942.2h0.9v0.9h-0.9zM69.9 946.9h0.9v0.9h-0.9zM70.0 937.3h0.9v0.9h-0.9zM68.8 927.3h0.9v0.9h-0.9zM76.7 938.6h0.9v0.9h-0.9zM79.1 938.3h0.9v0.9h-0.9zM67.7 924.2h0.9v0.9h-0.9zM67.3 929.7h0.9v0.9h-0.9zM66.4 936.8h0.9v0.9h-0.9zM72.6 932.0h0.9v0.9h-0.9zM71.7 932.7h0.9v0.9h-0.9zM71.9 937.7h0.9v0.9h-0.9zM76.0 929.7h0.9v0.9h-0.9zM62.7 941.5h0.9v0.9h-0.9zM71.4 939.7h0.9v0.9h-0.9zM61.9 931.7h0.9v0.9h-0.9zM70.9 925.4h0.9v0.9h-0.9zM68.0 937.6h0.9v0.9h-0.9zM76.6 942.4h0.9v0.9h-0.9zM66.1 925.7h0.9v0.9h-0.9zM73.6 938.8h0.9v0.9h-0.9zM71.8 926.2h0.9v0.9h-0.9zM75.0 937.9h0.9v0.9h-0.9zM73.8 930.8h0.9v0.9h-0.9zM72.4 937.9h0.9v0.9h-0.9zM67.8 923.2h0.9v0.9h-0.9zM72.6 936.2h0.9v0.9h-0.9zM70.9 938.5h0.9v0.9h-0.9zM67.6 933.0h0.9v0.9h-0.9zM69.2 936.7h0.9v0.9h-0.9zM79.4 932.1h0.9v0.9h-0.9zM81.9 942.1h0.9v0.9h-0.9zM75.1 936.8h0.9v0.9h-0.9zM80.4 932.5h0.9v0.9h-0.9zM70.2 927.5h0.9v0.9h-0.9zM73.4 941.0h0.9v0.9h-0.9zM73.7 935.9h0.9v0.9h-0.9zM69.7 934.4h0.9v0.9h-0.9zM63.1 939.4h0.9v0.9h-0.9zM68.6 927.3h0.9v0.9h-0.9zM66.7 928.9h0.9v0.9h-0.9zM75.4 939.4h0.9v0.9h-0.9zM63.5 938.7h0.9v0.9h-0.9zM75.6 930.3h0.9v0.9h-0.9zM62.8 929.3h0.9v0.9h-0.9zM67.4 935.4h0.9v0.9h-0.9zM68.9 922.1h0.9v0.9h-0.9zM72.1 924.9h0.9v0.9h-0.9zM75.7 926.7h0.9v0.9h-0.9zM67.1 928.7h0.9v0.9h-0.9zM67.9 940.8h0.9v0.9h-0.9zM75.4 936.9h0.9v0.9h-0.9zM72.5 924.8h0.9v0.9h-0.9zM68.0 930.4h0.9v0.9h-0.9zM65.5 936.4h0.9v0.9h-0.9zM66.8 929.5h0.9v0.9h-0.9zM65.2 922.0h0.9v0.9h-0.9zM74.0 941.0h0.9v0.9h-0.9zM71.7 928.0h0.9v0.9h-0.9zM77.4 935.2h0.9v0.9h-0.9zM75.8 941.8h0.9v0.9h-0.9zM76.9 931.0h0.9v0.9h-0.9zM76.5 937.8h0.9v0.9h-0.9zM62.5 931.2h0.9v0.9h-0.9zM63.1 932.9h0.9v0.9h-0.9zM73.9 927.5h0.9v0.9h-0.9zM59.7 940.8h0.9v0.9h-0.9zM72.8 941.7h0.9v0.9h-0.9zM63.7 939.4h0.9v0.9h-0.9zM82.0 944.7h0.9v0.9h-0.9zM69.7 935.0h0.9v0.9h-0.9zM70.0 939.1h0.9v0.9h-0.9zM76.4 934.0h0.9v0.9h-0.9zM63.5 937.7h0.9v0.9h-0.9zM68.3 937.0h0.9v0.9h-0.9zM72.2 942.6h0.9v0.9h-0.9zM76.9 931.0h0.9v0.9h-0.9zM72.7 943.4h0.9v0.9h-0.9zM67.9 935.9h0.9v0.9h-0.9zM77.2 940.5h0.9v0.9h-0.9zM73.6 926.1h0.9v0.9h-0.9zM64.0 934.9h0.9v0.9h-0.9zM72.9 947.8h0.9v0.9h-0.9zM66.1 939.9h0.9v0.9h-0.9zM75.0 924.1h0.9v0.9h-0.9zM66.4 934.4h0.9v0.9h-0.9zM68.1 932.6h0.9v0.9h-0.9zM73.3 929.0h0.9v0.9h-0.9zM73.3 929.9h0.9v0.9h-0.9zM67.9 936.5h0.9v0.9h-0.9zM67.7 935.1h0.9v0.9h-0.9zM79.4 933.7h0.9v0.9h-0.9zM70.0 937.6h0.9v0.9h-0.9zM68.8 939.6h0.9v0.9h-0.9zM63.9 937.0h0.9v0.9h-0.9zM68.0 929.0h0.9v0.9h-0.9zM80.4 928.7h0.9v0.9h-0.9zM80.3 937.2h0.9v0.9h-0.9zM78.6 928.0h0.9v0.9h-0.9zM77.3 941.7h0.9v0.9h-0.9zM70.2 932.8h0.9v0.9h-0.9zM84.1 934.5h0.9v0.9h-0.9zM68.5 930.0h0.9v0.9h-0.9zM73.2 935.4h0.9v0.9h-0.9zM71.8 943.1h0.9v0.9h-0.9zM69.0 936.1h0.9v0.9h-0.9zM78.7 927.9h0.9v0.9h-0.9zM76.4 943.8h0.9v0.9h-0.9zM63.5 927.4h0.9v0.9h-0.9zM65.2 923.2h0.9v0.9h-0.9zM73.2 923.1h0.9v0.9h-0.9zM73.5 941.6h0.9v0.9h-0.9zM62.1 931.7h0.9v0.9h-0.9zM60.4 937.9h0.9v0.9h-0.9zM66.8 932.0h0.9v0.9h-0.9zM71.1 936.6h0.9v0.9h-0.9zM68.9 933.6h0.9v0.9h-0.9zM67.8 934.1h0.9v0.9h-0.9zM64.5 933.9h0.9v0.9h-0.9zM60.4 930.8h0.9v0.9h-0.9zM81.1 933.9h0.9v0.9h-0.9zM64.0 934.9h0.9v0.9h-0.9zM65.5 924.3h0.9v0.9h-0.9zM66.8 937.6h0.9v0.9h-0.9zM72.9 933.0h0.9v0.9h-0.9zM65.8 927.5h0.9v0.9h-0.9zM78.1 934.9h0.9v0.9h-0.9zM65.7 921.7h0.9v0.9h-0.9zM63.4 947.4h0.9v0.9h-0.9zM64.6 933.1h0.9v0.9h-0.9zM71.9 932.6h0.9v0.9h-0.9zM69.3 925.8h0.9v0.9h-0.9zM65.1 943.0h0.9v0.9h-0.9zM66.7 938.2h0.9v0.9h-0.9zM61.7 932.0h0.9v0.9h-0.9zM72.2 939.3h0.9v0.9h-0.9zM64.7 936.8h0.9v0.9h-0.9zM72.9 929.4h0.9v0.9h-0.9zM73.4 928.5h0.9v0.9h-0.9zM66.5 933.4h0.9v0.9h-0.9zM65.4 925.3h0.9v0.9h-0.9zM68.5 937.8h0.9v0.9h-0.9zM68.6 940.6h0.9v0.9h-0.9zM64.5 926.2h0.9v0.9h-0.9zM79.2 935.7h0.9v0.9h-0.9zM75.9 928.9h0.9v0.9h-0.9zM75.1 935.0h0.9v0.9h-0.9zM74.3 933.6h0.9v0.9h-0.9zM77.3 929.9h0.9v0.9h-0.9zM65.6 925.2h0.9v0.9h-0.9zM77.1 929.4h0.9v0.9h-0.9zM65.2 928.2h0.9v0.9h-0.9zM68.4 926.4h0.9v0.9h-0.9zM69.2 930.0h0.9v0.9h-0.9zM67.8 928.1h0.9v0.9h-0.9zM71.0 930.9h0.9v0.9h-0.9zM71.4 934.9h0.9v0.9h-0.9zM72.6 921.2h0.9v0.9h-0.9zM67.9 929.0h0.9v0.9h-0.9zM75.0 924.7h0.9v0.9h-0.9zM66.9 931.9h0.9v0.9h-0.9zM69.0 939.1h0.9v0.9h-0.9zM68.4 938.9h0.9v0.9h-0.9zM62.9 923.4h0.9v0.9h-0.9zM77.4 935.9h0.9v0.9h-0.9zM73.4 934.2h0.9v0.9h-0.9zM73.4 926.7h0.9v0.9h-0.9zM75.9 930.5h0.9v0.9h-0.9zM76.1 934.0h0.9v0.9h-0.9zM60.1 926.3h0.9v0.9h-0.9zM76.9 932.7h0.9v0.9h-0.9zM68.7 934.9h0.9v0.9h-0.9zM68.5 930.5h0.9v0.9h-0.9zM71.4 934.3h0.9v0.9h-0.9zM79.0 933.8h0.9v0.9h-0.9zM81.0 943.6h0.9v0.9h-0.9zM80.1 939.4h0.9v0.9h-0.9zM71.5 934.3h0.9v0.9h-0.9zM70.0 929.4h0.9v0.9h-0.9zM70.4 929.9h0.9v0.9h-0.9zM79.7 936.5h0.9v0.9h-0.9zM68.4 922.8h0.9v0.9h-0.9zM70.5 931.2h0.9v0.9h-0.9zM64.9 927.1h0.9v0.9h-0.9zM70.4 948.0h0.9v0.9h-0.9zM70.6 932.7h0.9v0.9h-0.9zM78.6 934.3h0.9v0.9h-0.9zM71.7 931.4h0.9v0.9h-0.9zM67.5 941.9h0.9v0.9h-0.9zM76.2 943.1h0.9v0.9h-0.9zM68.9 933.7h0.9v0.9h-0.9zM66.0 938.9h0.9v0.9h-0.9zM63.3 936.7h0.9v0.9h-0.9zM76.7 941.4h0.9v0.9h-0.9zM65.7 939.6h0.9v0.9h-0.9zM66.9 929.3h0.9v0.9h-0.9zM63.7 940.0h0.9v0.9h-0.9zM79.7 930.2h0.9v0.9h-0.9zM66.7 931.6h0.9v0.9h-0.9zM84.3 939.1h0.9v0.9h-0.9zM67.9 923.5h0.9v0.9h-0.9zM67.2 940.1h0.9v0.9h-0.9zM80.9 932.0h0.9v0.9h-0.9zM67.1 930.6h0.9v0.9h-0.9zM60.6 938.6h0.9v0.9h-0.9zM64.9 939.5h0.9v0.9h-0.9zM61.6 926.4h0.9v0.9h-0.9zM72.4 929.2h0.9v0.9h-0.9zM75.0 933.5h0.9v0.9h-0.9zM64.5 937.0h0.9v0.9h-0.9zM75.3 922.8h0.9v0.9h-0.9zM80.7 936.3h0.9v0.9h-0.9z" fill="#2438f4" fill-opacity="0.72"/>
<ellipse cx="70.8" cy="933.5" rx="9.4" ry="9.8" fill="url(#bg1)"/>
<rect x="58.50" y="889.40" width="95.3" height="94.80" fill="none" stroke="#222" stroke-width="1.1"/>
<line x1="83.20" y1="889.40" x2="83.20" y2="984.20" stroke="#333" stroke-width="1.1"/>
<line x1="58.50" y1="951.30" x2="153.80" y2="951.30" stroke="#222" stroke-width="1.1"/>
<text x="61.30" y="897.30" font-size="8.3" text-anchor="start" fill="#222" font-weight="normal" stroke="#222" stroke-width="0.1" >Q1</text>
<text x="61.30" y="906.60" font-size="8.3" text-anchor="start" fill="#222" font-weight="normal" stroke="#222" stroke-width="0.1" >96.5</text>
<text x="152.00" y="897.30" font-size="8.3" text-anchor="end" fill="#222" font-weight="normal" stroke="#222" stroke-width="0.1" >Q2</text>
<text x="152.00" y="906.60" font-size="8.3" text-anchor="end" fill="#222" font-weight="normal" stroke="#222" stroke-width="0.1" >1.16</text>
<text x="61.30" y="970.80" font-size="8.3" text-anchor="start" fill="#222" font-weight="normal" stroke="#222" stroke-width="0.1" >Q4</text>
<text x="61.30" y="980.40" font-size="8.3" text-anchor="start" fill="#222" font-weight="normal" stroke="#222" stroke-width="0.1" >2.29</text>
<text x="152.00" y="970.80" font-size="8.3" text-anchor="end" fill="#222" font-weight="normal" stroke="#222" stroke-width="0.1" >Q3</text>
<text x="152.00" y="980.40" font-size="8.3" text-anchor="end" fill="#222" font-weight="normal" stroke="#222" stroke-width="0.1" >0.041</text>
<line x1="54.70" y1="898.30" x2="58.50" y2="898.30" stroke="#222" stroke-width="1.0"/>
<text x="48.20" y="902.70" font-size="8.8" text-anchor="end" fill="#111" font-weight="normal" stroke="#111" stroke-width="0.1" >10</text>
<text x="48.30" y="898.90" font-size="6.3" text-anchor="start" fill="#111" font-weight="normal" stroke="#111" stroke-width="0.1" >5</text>
<line x1="54.70" y1="921.20" x2="58.50" y2="921.20" stroke="#222" stroke-width="1.0"/>
<text x="48.20" y="925.60" font-size="8.8" text-anchor="end" fill="#111" font-weight="normal" stroke="#111" stroke-width="0.1" >10</text>
<text x="48.30" y="921.80" font-size="6.3" text-anchor="start" fill="#111" font-weight="normal" stroke="#111" stroke-width="0.1" >4</text>
<line x1="54.70" y1="946.80" x2="58.50" y2="946.80" stroke="#222" stroke-width="1.0"/>
<text x="48.20" y="951.20" font-size="8.8" text-anchor="end" fill="#111" font-weight="normal" stroke="#111" stroke-width="0.1" >10</text>
<text x="48.30" y="947.40" font-size="6.3" text-anchor="start" fill="#111" font-weight="normal" stroke="#111" stroke-width="0.1" >3</text>
<line x1="54.70" y1="962.20" x2="58.50" y2="962.20" stroke="#222" stroke-width="1.0"/>
<rect x="54.10" y="960.30" width="3.80" height="3.90" fill="#777" />
<text x="47.70" y="966.10" font-size="8.8" text-anchor="end" fill="#111" font-weight="normal" stroke="#111" stroke-width="0.1" >0</text>
<line x1="54.70" y1="978.40" x2="58.50" y2="978.40" stroke="#222" stroke-width="1.0"/>
<text x="48.20" y="983.00" font-size="8.8" text-anchor="end" fill="#111" font-weight="normal" stroke="#111" stroke-width="0.1" >&#8722;10</text>
<text x="48.30" y="979.00" font-size="6.3" text-anchor="start" fill="#111" font-weight="normal" stroke="#111" stroke-width="0.1" >3</text>
<line x1="56.50" y1="904.00" x2="58.50" y2="904.00" stroke="#333" stroke-width="0.7"/>
<line x1="56.50" y1="908.50" x2="58.50" y2="908.50" stroke="#333" stroke-width="0.7"/>
<line x1="56.50" y1="911.50" x2="58.50" y2="911.50" stroke="#333" stroke-width="0.7"/>
<line x1="56.50" y1="914.00" x2="58.50" y2="914.00" stroke="#333" stroke-width="0.7"/>
<line x1="56.50" y1="916.00" x2="58.50" y2="916.00" stroke="#333" stroke-width="0.7"/>
<line x1="56.50" y1="917.70" x2="58.50" y2="917.70" stroke="#333" stroke-width="0.7"/>
<line x1="56.50" y1="919.40" x2="58.50" y2="919.40" stroke="#333" stroke-width="0.7"/>
<line x1="56.50" y1="927.00" x2="58.50" y2="927.00" stroke="#333" stroke-width="0.7"/>
<line x1="56.50" y1="931.50" x2="58.50" y2="931.50" stroke="#333" stroke-width="0.7"/>
<line x1="56.50" y1="934.50" x2="58.50" y2="934.50" stroke="#333" stroke-width="0.7"/>
<line x1="56.50" y1="937.00" x2="58.50" y2="937.00" stroke="#333" stroke-width="0.7"/>
<line x1="56.50" y1="939.00" x2="58.50" y2="939.00" stroke="#333" stroke-width="0.7"/>
<line x1="56.50" y1="940.70" x2="58.50" y2="940.70" stroke="#333" stroke-width="0.7"/>
<line x1="56.50" y1="942.20" x2="58.50" y2="942.20" stroke="#333" stroke-width="0.7"/>
<line x1="56.50" y1="944.50" x2="58.50" y2="944.50" stroke="#333" stroke-width="0.7"/>
<line x1="56.50" y1="955.00" x2="58.50" y2="955.00" stroke="#333" stroke-width="0.7"/>
<line x1="56.50" y1="958.00" x2="58.50" y2="958.00" stroke="#333" stroke-width="0.7"/>
<line x1="56.50" y1="966.00" x2="58.50" y2="966.00" stroke="#333" stroke-width="0.7"/>
<line x1="56.50" y1="970.00" x2="58.50" y2="970.00" stroke="#333" stroke-width="0.7"/>
<line x1="56.50" y1="974.00" x2="58.50" y2="974.00" stroke="#333" stroke-width="0.7"/>
<line x1="99.40" y1="984.20" x2="99.40" y2="987.40" stroke="#222" stroke-width="1.0"/>
<text x="99.40" y="1000.80" font-size="8.8" text-anchor="middle" fill="#111" font-weight="normal" stroke="#111" stroke-width="0.1" >10</text>
<text x="104.00" y="996.90" font-size="6.3" text-anchor="start" fill="#111" font-weight="normal" stroke="#111" stroke-width="0.1" >3</text>
<line x1="121.00" y1="984.20" x2="121.00" y2="987.40" stroke="#222" stroke-width="1.0"/>
<text x="121.00" y="1000.80" font-size="8.8" text-anchor="middle" fill="#111" font-weight="normal" stroke="#111" stroke-width="0.1" >10</text>
<text x="125.60" y="996.90" font-size="6.3" text-anchor="start" fill="#111" font-weight="normal" stroke="#111" stroke-width="0.1" >4</text>
<line x1="145.00" y1="984.20" x2="145.00" y2="987.40" stroke="#222" stroke-width="1.0"/>
<text x="145.00" y="1000.80" font-size="8.8" text-anchor="middle" fill="#111" font-weight="normal" stroke="#111" stroke-width="0.1" >10</text>
<text x="149.60" y="996.90" font-size="6.3" text-anchor="start" fill="#111" font-weight="normal" stroke="#111" stroke-width="0.1" >5</text>
<line x1="70.60" y1="984.20" x2="70.60" y2="987.60" stroke="#222" stroke-width="1.8"/>
<text x="71.10" y="1000.80" font-size="8.8" text-anchor="middle" fill="#111" font-weight="normal" stroke="#111" stroke-width="0.1" >0</text>
<line x1="64.00" y1="984.20" x2="64.00" y2="986.20" stroke="#333" stroke-width="0.7"/>
<line x1="66.50" y1="984.20" x2="66.50" y2="986.20" stroke="#333" stroke-width="0.7"/>
<line x1="68.50" y1="984.20" x2="68.50" y2="986.20" stroke="#333" stroke-width="0.7"/>
<line x1="70.20" y1="984.20" x2="70.20" y2="986.20" stroke="#333" stroke-width="0.7"/>
<line x1="75.00" y1="984.20" x2="75.00" y2="986.20" stroke="#333" stroke-width="0.7"/>
<line x1="77.00" y1="984.20" x2="77.00" y2="986.20" stroke="#333" stroke-width="0.7"/>
<line x1="80.00" y1="984.20" x2="80.00" y2="986.20" stroke="#333" stroke-width="0.7"/>
<line x1="86.00" y1="984.20" x2="86.00" y2="986.20" stroke="#333" stroke-width="0.7"/>
<line x1="91.00" y1="984.20" x2="91.00" y2="986.20" stroke="#333" stroke-width="0.7"/>
<line x1="94.00" y1="984.20" x2="94.00" y2="986.20" stroke="#333" stroke-width="0.7"/>
<line x1="96.50" y1="984.20" x2="96.50" y2="986.20" stroke="#333" stroke-width="0.7"/>
<line x1="98.50" y1="984.20" x2="98.50" y2="986.20" stroke="#333" stroke-width="0.7"/>
<line x1="106.00" y1="984.20" x2="106.00" y2="986.20" stroke="#333" stroke-width="0.7"/>
<line x1="110.00" y1="984.20" x2="110.00" y2="986.20" stroke="#333" stroke-width="0.7"/>
<line x1="113.00" y1="984.20" x2="113.00" y2="986.20" stroke="#333" stroke-width="0.7"/>
<line x1="115.50" y1="984.20" x2="115.50" y2="986.20" stroke="#333" stroke-width="0.7"/>
<line x1="117.50" y1="984.20" x2="117.50" y2="986.20" stroke="#333" stroke-width="0.7"/>
<line x1="119.50" y1="984.20" x2="119.50" y2="986.20" stroke="#333" stroke-width="0.7"/>
<line x1="129.00" y1="984.20" x2="129.00" y2="986.20" stroke="#333" stroke-width="0.7"/>
<line x1="133.00" y1="984.20" x2="133.00" y2="986.20" stroke="#333" stroke-width="0.7"/>
<line x1="136.00" y1="984.20" x2="136.00" y2="986.20" stroke="#333" stroke-width="0.7"/>
<line x1="138.50" y1="984.20" x2="138.50" y2="986.20" stroke="#333" stroke-width="0.7"/>
<line x1="140.50" y1="984.20" x2="140.50" y2="986.20" stroke="#333" stroke-width="0.7"/>
<line x1="142.50" y1="984.20" x2="142.50" y2="986.20" stroke="#333" stroke-width="0.7"/>
<defs><radialGradient id="bg2" cx="0.5" cy="0.5" r="0.5"><stop offset="0" stop-color="#e01c10"/><stop offset="0.1" stop-color="#f06a10"/><stop offset="0.2" stop-color="#e8e020"/><stop offset="0.34" stop-color="#30d840"/><stop offset="0.5" stop-color="#20c4e4"/><stop offset="0.64" stop-color="#1838f0"/><stop offset="0.86" stop-color="#1c30f0"/><stop offset="1" stop-color="#3040f4" stop-opacity="0"/></radialGradient></defs>
<path d="M222.2 912.0h0.9v0.9h-0.9zM197.1 933.1h0.9v0.9h-0.9zM227.6 917.6h0.9v0.9h-0.9zM194.3 909.6h0.9v0.9h-0.9zM205.2 942.8h0.9v0.9h-0.9zM218.0 960.2h0.9v0.9h-0.9zM220.6 933.7h0.9v0.9h-0.9zM189.3 924.9h0.9v0.9h-0.9zM198.0 940.1h0.9v0.9h-0.9zM208.5 961.3h0.9v0.9h-0.9zM214.2 923.0h0.9v0.9h-0.9zM235.6 951.3h0.9v0.9h-0.9zM211.0 927.9h0.9v0.9h-0.9zM224.8 926.8h0.9v0.9h-0.9zM186.9 940.7h0.9v0.9h-0.9zM213.4 946.5h0.9v0.9h-0.9zM220.4 957.7h0.9v0.9h-0.9zM195.0 951.7h0.9v0.9h-0.9zM192.5 947.7h0.9v0.9h-0.9zM212.3 941.4h0.9v0.9h-0.9zM225.8 937.8h0.9v0.9h-0.9zM228.2 950.3h0.9v0.9h-0.9zM211.6 930.1h0.9v0.9h-0.9zM196.5 930.6h0.9v0.9h-0.9zM205.9 937.7h0.9v0.9h-0.9zM260.0 946.9h0.9v0.9h-0.9zM222.4 926.0h0.9v0.9h-0.9zM197.2 933.5h0.9v0.9h-0.9zM212.6 923.5h0.9v0.9h-0.9zM236.7 930.1h0.9v0.9h-0.9zM227.6 905.3h0.9v0.9h-0.9zM209.2 941.9h0.9v0.9h-0.9zM212.6 946.4h0.9v0.9h-0.9zM214.1 940.3h0.9v0.9h-0.9zM214.5 935.3h0.9v0.9h-0.9zM195.3 929.9h0.9v0.9h-0.9zM240.7 962.2h0.9v0.9h-0.9zM208.3 956.0h0.9v0.9h-0.9zM201.1 925.8h0.9v0.9h-0.9zM199.8 940.6h0.9v0.9h-0.9zM260.7 928.7h0.9v0.9h-0.9zM210.1 941.9h0.9v0.9h-0.9zM208.7 951.0h0.9v0.9h-0.9zM239.5 920.6h0.9v0.9h-0.9zM212.0 934.3h0.9v0.9h-0.9zM215.4 916.6h0.9v0.9h-0.9zM218.2 940.7h0.9v0.9h-0.9zM210.6 904.9h0.9v0.9h-0.9zM202.9 927.4h0.9v0.9h-0.9zM185.3 925.2h0.9v0.9h-0.9zM221.2 945.6h0.9v0.9h-0.9zM208.9 945.2h0.9v0.9h-0.9zM199.0 939.0h0.9v0.9h-0.9zM210.0 945.8h0.9v0.9h-0.9zM208.1 936.0h0.9v0.9h-0.9zM207.0 929.0h0.9v0.9h-0.9zM247.3 945.2h0.9v0.9h-0.9zM216.6 970.1h0.9v0.9h-0.9zM233.2 916.2h0.9v0.9h-0.9zM221.1 949.7h0.9v0.9h-0.9zM241.3 956.4h0.9v0.9h-0.9zM222.4 921.5h0.9v0.9h-0.9zM194.5 941.8h0.9v0.9h-0.9zM217.9 923.7h0.9v0.9h-0.9zM202.8 932.4h0.9v0.9h-0.9zM210.3 942.7h0.9v0.9h-0.9zM204.4 920.7h0.9v0.9h-0.9zM230.4 960.3h0.9v0.9h-0.9zM207.5 952.3h0.9v0.9h-0.9zM216.9 947.2h0.9v0.9h-0.9zM217.5 927.3h0.9v0.9h-0.9zM219.1 952.1h0.9v0.9h-0.9zM194.1 965.5h0.9v0.9h-0.9zM244.8 963.5h0.9v0.9h-0.9zM243.1 948.4h0.9v0.9h-0.9zM203.5 929.6h0.9v0.9h-0.9zM195.5 939.6h0.9v0.9h-0.9zM208.7 947.4h0.9v0.9h-0.9zM248.0 937.6h0.9v0.9h-0.9zM220.8 944.7h0.9v0.9h-0.9zM213.9 935.1h0.9v0.9h-0.9zM207.2 926.5h0.9v0.9h-0.9zM212.3 937.7h0.9v0.9h-0.9zM214.7 926.0h0.9v0.9h-0.9zM210.0 938.7h0.9v0.9h-0.9zM219.6 923.1h0.9v0.9h-0.9zM216.4 951.8h0.9v0.9h-0.9zM219.5 932.8h0.9v0.9h-0.9zM200.9 934.7h0.9v0.9h-0.9zM221.7 959.7h0.9v0.9h-0.9zM206.6 929.0h0.9v0.9h-0.9zM215.7 940.9h0.9v0.9h-0.9zM193.9 927.7h0.9v0.9h-0.9zM207.6 947.4h0.9v0.9h-0.9zM189.0 923.7h0.9v0.9h-0.9zM217.8 920.9h0.9v0.9h-0.9zM211.2 942.9h0.9v0.9h-0.9zM207.4 923.7h0.9v0.9h-0.9zM208.3 933.3h0.9v0.9h-0.9zM215.0 926.3h0.9v0.9h-0.9zM227.9 914.5h0.9v0.9h-0.9zM206.3 938.1h0.9v0.9h-0.9zM225.6 929.5h0.9v0.9h-0.9zM218.6 930.1h0.9v0.9h-0.9zM221.8 962.3h0.9v0.9h-0.9zM202.5 944.2h0.9v0.9h-0.9zM193.5 951.6h0.9v0.9h-0.9zM229.9 938.5h0.9v0.9h-0.9zM190.0 943.6h0.9v0.9h-0.9zM228.8 953.3h0.9v0.9h-0.9zM223.1 912.4h0.9v0.9h-0.9zM197.7 957.9h0.9v0.9h-0.9zM188.5 953.8h0.9v0.9h-0.9zM241.3 948.7h0.9v0.9h-0.9zM228.3 933.3h0.9v0.9h-0.9zM188.5 936.6h0.9v0.9h-0.9zM205.9 937.3h0.9v0.9h-0.9zM221.1 936.0h0.9v0.9h-0.9zM212.6 943.9h0.9v0.9h-0.9zM209.2 963.8h0.9v0.9h-0.9zM216.8 939.2h0.9v0.9h-0.9zM205.8 929.2h0.9v0.9h-0.9zM232.2 940.1h0.9v0.9h-0.9zM191.0 930.1h0.9v0.9h-0.9zM207.0 931.8h0.9v0.9h-0.9zM227.7 921.7h0.9v0.9h-0.9zM217.7 940.0h0.9v0.9h-0.9zM189.3 938.7h0.9v0.9h-0.9zM207.7 945.0h0.9v0.9h-0.9zM201.6 942.2h0.9v0.9h-0.9zM222.6 952.6h0.9v0.9h-0.9zM209.1 929.6h0.9v0.9h-0.9zM227.7 908.7h0.9v0.9h-0.9zM195.7 947.4h0.9v0.9h-0.9zM220.4 923.5h0.9v0.9h-0.9zM211.9 925.5h0.9v0.9h-0.9zM210.2 950.6h0.9v0.9h-0.9zM221.9 908.9h0.9v0.9h-0.9zM222.4 913.1h0.9v0.9h-0.9zM228.7 943.6h0.9v0.9h-0.9zM247.6 929.5h0.9v0.9h-0.9zM209.4 952.7h0.9v0.9h-0.9zM198.4 928.1h0.9v0.9h-0.9zM203.0 937.0h0.9v0.9h-0.9zM190.9 944.8h0.9v0.9h-0.9zM218.5 939.0h0.9v0.9h-0.9zM238.2 933.4h0.9v0.9h-0.9zM231.5 930.3h0.9v0.9h-0.9zM222.1 910.9h0.9v0.9h-0.9zM212.7 935.5h0.9v0.9h-0.9zM200.9 929.5h0.9v0.9h-0.9zM203.4 927.9h0.9v0.9h-0.9zM200.0 930.7h0.9v0.9h-0.9zM191.3 936.1h0.9v0.9h-0.9zM222.6 934.5h0.9v0.9h-0.9zM200.9 957.0h0.9v0.9h-0.9zM225.9 950.9h0.9v0.9h-0.9zM228.9 933.4h0.9v0.9h-0.9zM207.1 953.6h0.9v0.9h-0.9zM199.9 936.3h0.9v0.9h-0.9zM215.7 943.2h0.9v0.9h-0.9zM204.6 951.8h0.9v0.9h-0.9zM206.3 948.2h0.9v0.9h-0.9zM227.5 947.2h0.9v0.9h-0.9zM221.8 921.8h0.9v0.9h-0.9zM187.0 929.3h0.9v0.9h-0.9zM217.4 959.0h0.9v0.9h-0.9zM188.5 942.3h0.9v0.9h-0.9zM194.8 927.7h0.9v0.9h-0.9zM204.6 947.7h0.9v0.9h-0.9zM212.9 954.5h0.9v0.9h-0.9zM192.5 950.4h0.9v0.9h-0.9zM225.1 939.0h0.9v0.9h-0.9zM217.4 930.1h0.9v0.9h-0.9zM190.8 932.3h0.9v0.9h-0.9zM198.4 978.5h0.9v0.9h-0.9zM201.1 961.1h0.9v0.9h-0.9zM212.7 942.4h0.9v0.9h-0.9zM221.9 927.1h0.9v0.9h-0.9zM224.9 943.3h0.9v0.9h-0.9zM218.7 944.3h0.9v0.9h-0.9zM236.2 932.2h0.9v0.9h-0.9zM218.0 948.5h0.9v0.9h-0.9zM194.0 954.8h0.9v0.9h-0.9zM218.2 922.8h0.9v0.9h-0.9zM207.3 915.0h0.9v0.9h-0.9zM210.5 922.1h0.9v0.9h-0.9zM215.1 916.5h0.9v0.9h-0.9zM216.9 934.3h0.9v0.9h-0.9zM210.4 937.1h0.9v0.9h-0.9zM211.5 919.5h0.9v0.9h-0.9zM193.4 931.6h0.9v0.9h-0.9zM216.6 910.2h0.9v0.9h-0.9zM196.3 929.5h0.9v0.9h-0.9zM191.3 942.6h0.9v0.9h-0.9zM206.9 926.5h0.9v0.9h-0.9zM192.6 949.3h0.9v0.9h-0.9zM198.1 946.2h0.9v0.9h-0.9zM216.9 911.5h0.9v0.9h-0.9zM190.9 938.0h0.9v0.9h-0.9zM215.1 948.9h0.9v0.9h-0.9zM222.9 952.5h0.9v0.9h-0.9zM202.9 935.1h0.9v0.9h-0.9zM222.5 932.0h0.9v0.9h-0.9zM227.3 915.8h0.9v0.9h-0.9zM220.4 935.6h0.9v0.9h-0.9zM214.6 938.3h0.9v0.9h-0.9zM191.0 931.5h0.9v0.9h-0.9zM235.0 926.4h0.9v0.9h-0.9zM188.9 936.2h0.9v0.9h-0.9zM202.6 925.2h0.9v0.9h-0.9zM195.0 952.7h0.9v0.9h-0.9zM200.1 922.7h0.9v0.9h-0.9zM222.7 945.9h0.9v0.9h-0.9zM191.6 948.5h0.9v0.9h-0.9zM228.4 934.4h0.9v0.9h-0.9zM187.2 945.2h0.9v0.9h-0.9zM224.9 937.7h0.9v0.9h-0.9zM216.4 948.8h0.9v0.9h-0.9zM240.8 934.5h0.9v0.9h-0.9zM201.1 937.5h0.9v0.9h-0.9zM229.8 924.8h0.9v0.9h-0.9zM231.5 899.5h0.9v0.9h-0.9zM222.9 928.5h0.9v0.9h-0.9zM217.1 947.6h0.9v0.9h-0.9zM189.2 936.8h0.9v0.9h-0.9zM213.4 946.2h0.9v0.9h-0.9zM193.5 924.1h0.9v0.9h-0.9zM206.0 934.9h0.9v0.9h-0.9zM200.2 958.1h0.9v0.9h-0.9zM223.8 938.3h0.9v0.9h-0.9zM221.7 922.4h0.9v0.9h-0.9zM203.8 929.9h0.9v0.9h-0.9zM187.7 938.2h0.9v0.9h-0.9zM206.8 958.1h0.9v0.9h-0.9zM193.7 931.5h0.9v0.9h-0.9zM216.5 943.7h0.9v0.9h-0.9zM209.8 931.4h0.9v0.9h-0.9zM217.7 943.0h0.9v0.9h-0.9zM185.9 921.5h0.9v0.9h-0.9zM211.8 938.8h0.9v0.9h-0.9zM211.2 925.7h0.9v0.9h-0.9zM205.9 925.2h0.9v0.9h-0.9zM215.8 947.6h0.9v0.9h-0.9zM239.1 955.7h0.9v0.9h-0.9zM195.6 931.6h0.9v0.9h-0.9zM193.3 942.3h0.9v0.9h-0.9zM243.0 947.9h0.9v0.9h-0.9zM187.3 945.2h0.9v0.9h-0.9zM209.3 942.2h0.9v0.9h-0.9zM239.6 926.4h0.9v0.9h-0.9zM194.9 965.5h0.9v0.9h-0.9zM215.1 927.1h0.9v0.9h-0.9zM210.1 951.9h0.9v0.9h-0.9zM206.9 928.3h0.9v0.9h-0.9zM196.7 964.6h0.9v0.9h-0.9zM209.7 946.6h0.9v0.9h-0.9zM202.4 945.0h0.9v0.9h-0.9zM223.2 935.9h0.9v0.9h-0.9zM201.5 935.4h0.9v0.9h-0.9zM192.9 935.1h0.9v0.9h-0.9zM204.2 940.9h0.9v0.9h-0.9zM232.0 956.3h0.9v0.9h-0.9zM201.7 946.4h0.9v0.9h-0.9zM214.3 948.7h0.9v0.9h-0.9zM209.7 941.7h0.9v0.9h-0.9zM201.3 927.0h0.9v0.9h-0.9zM224.1 956.2h0.9v0.9h-0.9zM220.6 944.1h0.9v0.9h-0.9zM213.8 931.7h0.9v0.9h-0.9zM212.7 930.2h0.9v0.9h-0.9zM192.9 955.9h0.9v0.9h-0.9zM220.2 971.2h0.9v0.9h-0.9zM197.1 937.7h0.9v0.9h-0.9zM200.7 940.2h0.9v0.9h-0.9zM205.7 927.5h0.9v0.9h-0.9zM227.6 927.0h0.9v0.9h-0.9zM200.7 945.8h0.9v0.9h-0.9zM200.2 931.9h0.9v0.9h-0.9zM215.4 932.9h0.9v0.9h-0.9zM188.1 936.6h0.9v0.9h-0.9zM205.6 961.9h0.9v0.9h-0.9zM190.7 951.6h0.9v0.9h-0.9zM195.9 933.0h0.9v0.9h-0.9zM203.7 941.8h0.9v0.9h-0.9zM224.0 962.5h0.9v0.9h-0.9zM198.5 956.6h0.9v0.9h-0.9zM226.2 949.4h0.9v0.9h-0.9zM196.4 950.6h0.9v0.9h-0.9zM207.5 942.9h0.9v0.9h-0.9zM204.7 947.3h0.9v0.9h-0.9zM228.3 953.8h0.9v0.9h-0.9zM205.8 951.9h0.9v0.9h-0.9zM234.0 924.9h0.9v0.9h-0.9zM234.3 919.3h0.9v0.9h-0.9zM218.5 946.3h0.9v0.9h-0.9zM234.5 941.9h0.9v0.9h-0.9zM201.1 926.8h0.9v0.9h-0.9zM188.0 948.7h0.9v0.9h-0.9zM205.3 928.0h0.9v0.9h-0.9zM218.3 927.3h0.9v0.9h-0.9z" fill="#6474ff" fill-opacity="0.55"/>
<path d="M199.7 933.1h0.9v0.9h-0.9zM221.7 949.6h0.9v0.9h-0.9zM202.6 923.5h0.9v0.9h-0.9zM207.2 937.6h0.9v0.9h-0.9zM208.0 941.9h0.9v0.9h-0.9zM200.9 945.0h0.9v0.9h-0.9zM213.1 938.8h0.9v0.9h-0.9zM200.0 932.9h0.9v0.9h-0.9zM211.6 927.5h0.9v0.9h-0.9zM202.6 930.6h0.9v0.9h-0.9zM189.7 942.2h0.9v0.9h-0.9zM204.0 937.3h0.9v0.9h-0.9zM213.5 924.2h0.9v0.9h-0.9zM203.6 939.5h0.9v0.9h-0.9zM213.0 927.7h0.9v0.9h-0.9zM211.8 938.9h0.9v0.9h-0.9zM218.5 946.8h0.9v0.9h-0.9zM210.1 955.5h0.9v0.9h-0.9zM204.3 933.3h0.9v0.9h-0.9zM200.7 928.9h0.9v0.9h-0.9zM204.0 920.8h0.9v0.9h-0.9zM203.4 940.7h0.9v0.9h-0.9zM214.7 934.0h0.9v0.9h-0.9zM218.9 931.4h0.9v0.9h-0.9zM202.9 920.9h0.9v0.9h-0.9zM196.3 930.2h0.9v0.9h-0.9zM219.6 941.5h0.9v0.9h-0.9zM193.0 941.5h0.9v0.9h-0.9zM209.2 935.0h0.9v0.9h-0.9zM204.5 934.4h0.9v0.9h-0.9zM198.7 922.1h0.9v0.9h-0.9zM203.4 947.8h0.9v0.9h-0.9zM219.0 934.7h0.9v0.9h-0.9zM196.6 935.2h0.9v0.9h-0.9zM213.5 940.0h0.9v0.9h-0.9zM198.3 940.0h0.9v0.9h-0.9zM202.2 941.3h0.9v0.9h-0.9zM200.1 924.7h0.9v0.9h-0.9zM204.9 943.4h0.9v0.9h-0.9zM193.0 936.1h0.9v0.9h-0.9zM213.3 933.9h0.9v0.9h-0.9zM197.6 954.0h0.9v0.9h-0.9zM212.8 945.6h0.9v0.9h-0.9zM194.6 950.7h0.9v0.9h-0.9zM187.4 932.7h0.9v0.9h-0.9zM211.9 948.1h0.9v0.9h-0.9zM194.8 931.4h0.9v0.9h-0.9zM206.3 920.9h0.9v0.9h-0.9zM210.8 941.7h0.9v0.9h-0.9zM199.7 941.5h0.9v0.9h-0.9zM212.2 939.6h0.9v0.9h-0.9zM209.6 949.6h0.9v0.9h-0.9zM199.4 938.4h0.9v0.9h-0.9zM199.0 945.6h0.9v0.9h-0.9zM200.1 941.0h0.9v0.9h-0.9zM205.7 937.6h0.9v0.9h-0.9zM221.8 936.3h0.9v0.9h-0.9zM218.7 943.9h0.9v0.9h-0.9zM217.7 935.6h0.9v0.9h-0.9zM213.7 943.3h0.9v0.9h-0.9zM198.1 939.2h0.9v0.9h-0.9zM203.0 936.7h0.9v0.9h-0.9zM217.5 931.0h0.9v0.9h-0.9zM187.2 922.5h0.9v0.9h-0.9zM199.7 931.6h0.9v0.9h-0.9zM204.4 941.7h0.9v0.9h-0.9zM222.1 939.6h0.9v0.9h-0.9zM209.0 930.9h0.9v0.9h-0.9zM210.2 948.3h0.9v0.9h-0.9zM217.9 920.8h0.9v0.9h-0.9zM213.3 950.1h0.9v0.9h-0.9zM212.7 924.6h0.9v0.9h-0.9zM201.2 941.9h0.9v0.9h-0.9zM208.5 930.3h0.9v0.9h-0.9zM195.3 945.0h0.9v0.9h-0.9zM190.8 948.9h0.9v0.9h-0.9zM204.5 939.5h0.9v0.9h-0.9zM190.8 932.1h0.9v0.9h-0.9zM211.3 924.8h0.9v0.9h-0.9zM225.2 925.4h0.9v0.9h-0.9zM192.0 937.4h0.9v0.9h-0.9zM209.2 943.1h0.9v0.9h-0.9zM200.6 935.3h0.9v0.9h-0.9zM201.9 932.2h0.9v0.9h-0.9zM206.8 938.3h0.9v0.9h-0.9zM198.0 939.1h0.9v0.9h-0.9zM204.2 936.4h0.9v0.9h-0.9zM215.5 922.8h0.9v0.9h-0.9zM206.8 928.2h0.9v0.9h-0.9zM201.1 949.4h0.9v0.9h-0.9zM193.4 936.2h0.9v0.9h-0.9zM198.3 944.8h0.9v0.9h-0.9zM194.4 923.1h0.9v0.9h-0.9zM209.5 934.1h0.9v0.9h-0.9zM201.1 945.9h0.9v0.9h-0.9zM195.3 933.9h0.9v0.9h-0.9zM205.8 940.4h0.9v0.9h-0.9zM199.1 945.5h0.9v0.9h-0.9zM226.9 933.6h0.9v0.9h-0.9zM223.2 919.6h0.9v0.9h-0.9zM218.5 934.2h0.9v0.9h-0.9zM205.7 934.2h0.9v0.9h-0.9zM197.9 926.4h0.9v0.9h-0.9zM200.3 947.7h0.9v0.9h-0.9zM215.8 934.1h0.9v0.9h-0.9zM199.0 931.2h0.9v0.9h-0.9zM192.2 951.9h0.9v0.9h-0.9zM211.0 938.0h0.9v0.9h-0.9zM199.3 928.6h0.9v0.9h-0.9zM217.6 943.4h0.9v0.9h-0.9zM194.7 945.2h0.9v0.9h-0.9zM193.1 942.3h0.9v0.9h-0.9zM194.6 933.6h0.9v0.9h-0.9zM209.3 940.6h0.9v0.9h-0.9zM214.5 930.1h0.9v0.9h-0.9zM220.2 948.1h0.9v0.9h-0.9zM204.2 940.8h0.9v0.9h-0.9zM196.5 935.7h0.9v0.9h-0.9zM191.0 937.7h0.9v0.9h-0.9zM206.3 948.1h0.9v0.9h-0.9zM213.9 943.7h0.9v0.9h-0.9zM200.7 935.1h0.9v0.9h-0.9zM200.9 938.8h0.9v0.9h-0.9zM184.8 943.4h0.9v0.9h-0.9zM188.5 932.7h0.9v0.9h-0.9zM204.5 932.8h0.9v0.9h-0.9zM221.1 936.2h0.9v0.9h-0.9zM220.1 946.7h0.9v0.9h-0.9zM199.3 940.3h0.9v0.9h-0.9zM217.4 934.3h0.9v0.9h-0.9zM205.2 932.4h0.9v0.9h-0.9zM204.9 934.1h0.9v0.9h-0.9zM205.1 945.3h0.9v0.9h-0.9zM218.3 938.1h0.9v0.9h-0.9zM206.3 944.1h0.9v0.9h-0.9zM201.4 928.3h0.9v0.9h-0.9zM215.5 929.3h0.9v0.9h-0.9zM213.7 929.0h0.9v0.9h-0.9zM222.8 928.4h0.9v0.9h-0.9zM212.9 949.4h0.9v0.9h-0.9zM194.6 949.3h0.9v0.9h-0.9zM196.0 922.4h0.9v0.9h-0.9zM211.6 942.8h0.9v0.9h-0.9zM202.3 916.2h0.9v0.9h-0.9zM203.7 934.5h0.9v0.9h-0.9zM200.5 934.6h0.9v0.9h-0.9zM186.3 932.3h0.9v0.9h-0.9zM222.4 949.8h0.9v0.9h-0.9zM200.7 931.1h0.9v0.9h-0.9zM208.3 945.8h0.9v0.9h-0.9zM211.6 927.3h0.9v0.9h-0.9zM205.9 938.2h0.9v0.9h-0.9zM218.8 946.9h0.9v0.9h-0.9zM209.6 947.0h0.9v0.9h-0.9zM200.3 949.7h0.9v0.9h-0.9zM200.0 940.3h0.9v0.9h-0.9zM213.6 929.5h0.9v0.9h-0.9zM197.2 922.5h0.9v0.9h-0.9zM206.0 936.5h0.9v0.9h-0.9zM201.0 941.1h0.9v0.9h-0.9zM205.2 934.8h0.9v0.9h-0.9zM212.3 951.5h0.9v0.9h-0.9zM199.8 929.2h0.9v0.9h-0.9zM198.2 937.8h0.9v0.9h-0.9zM210.2 929.9h0.9v0.9h-0.9zM214.4 928.5h0.9v0.9h-0.9zM212.6 940.5h0.9v0.9h-0.9zM209.0 954.8h0.9v0.9h-0.9zM201.6 935.6h0.9v0.9h-0.9zM209.1 944.1h0.9v0.9h-0.9zM190.8 939.3h0.9v0.9h-0.9zM196.8 942.2h0.9v0.9h-0.9zM218.1 937.4h0.9v0.9h-0.9zM203.2 938.5h0.9v0.9h-0.9zM210.0 938.4h0.9v0.9h-0.9zM200.3 931.0h0.9v0.9h-0.9zM202.5 947.0h0.9v0.9h-0.9zM203.3 948.1h0.9v0.9h-0.9zM207.1 936.9h0.9v0.9h-0.9zM187.6 931.5h0.9v0.9h-0.9zM216.9 926.3h0.9v0.9h-0.9zM194.3 927.9h0.9v0.9h-0.9zM198.7 942.3h0.9v0.9h-0.9zM210.3 920.2h0.9v0.9h-0.9zM219.0 932.1h0.9v0.9h-0.9zM198.4 950.8h0.9v0.9h-0.9zM203.5 926.8h0.9v0.9h-0.9zM197.9 931.0h0.9v0.9h-0.9zM194.1 934.2h0.9v0.9h-0.9zM213.1 939.9h0.9v0.9h-0.9zM190.4 960.0h0.9v0.9h-0.9zM194.3 938.0h0.9v0.9h-0.9zM204.6 943.3h0.9v0.9h-0.9zM201.0 940.8h0.9v0.9h-0.9zM225.5 937.8h0.9v0.9h-0.9zM193.4 939.7h0.9v0.9h-0.9zM196.2 933.9h0.9v0.9h-0.9zM206.2 939.8h0.9v0.9h-0.9zM201.4 944.0h0.9v0.9h-0.9zM202.4 926.2h0.9v0.9h-0.9zM213.1 934.0h0.9v0.9h-0.9zM216.5 931.6h0.9v0.9h-0.9zM210.1 939.6h0.9v0.9h-0.9zM193.0 948.6h0.9v0.9h-0.9zM185.3 944.5h0.9v0.9h-0.9zM215.3 941.1h0.9v0.9h-0.9zM211.1 932.9h0.9v0.9h-0.9zM204.2 938.9h0.9v0.9h-0.9zM208.5 942.8h0.9v0.9h-0.9zM202.2 931.2h0.9v0.9h-0.9zM198.6 940.4h0.9v0.9h-0.9zM187.6 926.6h0.9v0.9h-0.9zM200.1 932.4h0.9v0.9h-0.9zM201.6 915.0h0.9v0.9h-0.9zM200.9 934.9h0.9v0.9h-0.9zM212.1 920.7h0.9v0.9h-0.9zM201.2 940.9h0.9v0.9h-0.9zM209.2 946.9h0.9v0.9h-0.9zM214.9 928.3h0.9v0.9h-0.9zM210.7 934.2h0.9v0.9h-0.9zM196.2 949.7h0.9v0.9h-0.9zM197.9 929.9h0.9v0.9h-0.9zM200.2 930.0h0.9v0.9h-0.9zM214.5 940.1h0.9v0.9h-0.9zM218.4 940.4h0.9v0.9h-0.9zM198.1 945.7h0.9v0.9h-0.9zM197.7 933.2h0.9v0.9h-0.9zM202.6 937.3h0.9v0.9h-0.9zM216.4 932.0h0.9v0.9h-0.9zM207.9 936.8h0.9v0.9h-0.9zM191.6 927.9h0.9v0.9h-0.9zM202.1 940.3h0.9v0.9h-0.9zM207.5 941.0h0.9v0.9h-0.9zM204.8 933.3h0.9v0.9h-0.9zM208.6 928.7h0.9v0.9h-0.9zM190.7 934.2h0.9v0.9h-0.9zM189.8 932.7h0.9v0.9h-0.9zM196.7 932.4h0.9v0.9h-0.9zM203.8 930.4h0.9v0.9h-0.9zM200.0 922.8h0.9v0.9h-0.9zM205.8 929.7h0.9v0.9h-0.9zM208.4 913.6h0.9v0.9h-0.9zM196.2 939.0h0.9v0.9h-0.9zM205.3 937.9h0.9v0.9h-0.9zM189.2 938.9h0.9v0.9h-0.9zM205.8 928.9h0.9v0.9h-0.9zM211.8 936.6h0.9v0.9h-0.9zM204.5 933.3h0.9v0.9h-0.9zM209.8 937.8h0.9v0.9h-0.9zM215.8 940.7h0.9v0.9h-0.9zM198.0 935.1h0.9v0.9h-0.9zM213.6 934.0h0.9v0.9h-0.9zM208.2 941.3h0.9v0.9h-0.9zM202.5 917.7h0.9v0.9h-0.9zM205.6 938.8h0.9v0.9h-0.9zM205.7 930.7h0.9v0.9h-0.9zM216.6 935.9h0.9v0.9h-0.9zM198.0 931.0h0.9v0.9h-0.9zM207.9 927.9h0.9v0.9h-0.9zM194.1 953.6h0.9v0.9h-0.9zM217.6 945.8h0.9v0.9h-0.9zM218.2 941.9h0.9v0.9h-0.9zM187.2 946.9h0.9v0.9h-0.9zM216.9 941.1h0.9v0.9h-0.9zM218.2 932.9h0.9v0.9h-0.9zM205.6 943.5h0.9v0.9h-0.9zM203.4 946.1h0.9v0.9h-0.9zM205.1 942.8h0.9v0.9h-0.9zM205.2 924.7h0.9v0.9h-0.9zM194.2 963.4h0.9v0.9h-0.9zM207.1 947.9h0.9v0.9h-0.9zM215.9 951.3h0.9v0.9h-0.9zM209.9 932.0h0.9v0.9h-0.9zM204.5 921.0h0.9v0.9h-0.9zM202.4 944.6h0.9v0.9h-0.9zM212.7 948.1h0.9v0.9h-0.9zM194.9 931.6h0.9v0.9h-0.9zM185.2 928.5h0.9v0.9h-0.9zM209.7 954.3h0.9v0.9h-0.9zM192.6 948.5h0.9v0.9h-0.9zM208.7 932.9h0.9v0.9h-0.9zM226.7 916.0h0.9v0.9h-0.9zM203.6 938.8h0.9v0.9h-0.9zM226.0 952.0h0.9v0.9h-0.9zM227.4 938.1h0.9v0.9h-0.9zM214.3 948.4h0.9v0.9h-0.9zM209.5 940.0h0.9v0.9h-0.9zM202.4 933.6h0.9v0.9h-0.9zM191.8 953.3h0.9v0.9h-0.9zM199.7 919.6h0.9v0.9h-0.9zM207.0 936.7h0.9v0.9h-0.9zM206.1 952.2h0.9v0.9h-0.9zM203.2 934.8h0.9v0.9h-0.9zM196.7 936.8h0.9v0.9h-0.9zM199.8 938.7h0.9v0.9h-0.9zM236.2 940.3h0.9v0.9h-0.9zM195.6 953.1h0.9v0.9h-0.9zM213.1 943.8h0.9v0.9h-0.9zM211.6 943.9h0.9v0.9h-0.9zM211.2 948.8h0.9v0.9h-0.9zM214.6 948.3h0.9v0.9h-0.9zM199.2 937.0h0.9v0.9h-0.9zM196.9 945.0h0.9v0.9h-0.9zM212.8 933.1h0.9v0.9h-0.9zM210.3 959.0h0.9v0.9h-0.9zM216.9 927.7h0.9v0.9h-0.9zM203.4 942.3h0.9v0.9h-0.9zM203.9 940.2h0.9v0.9h-0.9zM216.4 939.7h0.9v0.9h-0.9zM193.1 943.0h0.9v0.9h-0.9zM203.3 938.0h0.9v0.9h-0.9zM198.5 925.4h0.9v0.9h-0.9zM191.6 934.0h0.9v0.9h-0.9zM193.4 914.3h0.9v0.9h-0.9zM216.0 927.3h0.9v0.9h-0.9zM196.9 941.5h0.9v0.9h-0.9zM196.4 942.5h0.9v0.9h-0.9zM199.4 939.6h0.9v0.9h-0.9zM205.4 937.0h0.9v0.9h-0.9zM185.6 924.7h0.9v0.9h-0.9zM203.9 948.8h0.9v0.9h-0.9zM198.7 941.5h0.9v0.9h-0.9zM206.0 941.1h0.9v0.9h-0.9zM214.4 924.4h0.9v0.9h-0.9zM207.1 935.5h0.9v0.9h-0.9zM201.1 929.8h0.9v0.9h-0.9zM196.3 928.4h0.9v0.9h-0.9zM193.1 958.0h0.9v0.9h-0.9zM221.7 937.1h0.9v0.9h-0.9zM211.9 928.8h0.9v0.9h-0.9zM205.7 949.1h0.9v0.9h-0.9zM203.9 928.6h0.9v0.9h-0.9zM201.8 928.6h0.9v0.9h-0.9zM190.0 935.1h0.9v0.9h-0.9zM200.2 930.2h0.9v0.9h-0.9zM195.2 929.2h0.9v0.9h-0.9zM206.7 948.7h0.9v0.9h-0.9zM202.1 955.7h0.9v0.9h-0.9zM187.7 939.3h0.9v0.9h-0.9zM192.5 935.6h0.9v0.9h-0.9zM205.3 941.7h0.9v0.9h-0.9zM215.9 932.3h0.9v0.9h-0.9zM191.6 935.4h0.9v0.9h-0.9zM207.3 931.1h0.9v0.9h-0.9zM213.4 951.1h0.9v0.9h-0.9zM189.7 940.0h0.9v0.9h-0.9zM214.7 920.9h0.9v0.9h-0.9zM206.4 935.1h0.9v0.9h-0.9zM189.7 948.0h0.9v0.9h-0.9zM206.5 933.0h0.9v0.9h-0.9zM208.8 942.4h0.9v0.9h-0.9zM212.2 941.9h0.9v0.9h-0.9zM208.5 927.1h0.9v0.9h-0.9zM200.0 938.1h0.9v0.9h-0.9zM200.4 928.2h0.9v0.9h-0.9zM185.7 939.1h0.9v0.9h-0.9zM204.6 932.1h0.9v0.9h-0.9zM200.0 929.6h0.9v0.9h-0.9zM196.6 936.2h0.9v0.9h-0.9zM197.7 942.7h0.9v0.9h-0.9zM202.8 938.1h0.9v0.9h-0.9zM208.4 947.7h0.9v0.9h-0.9zM210.5 938.9h0.9v0.9h-0.9zM202.6 930.2h0.9v0.9h-0.9zM200.8 942.7h0.9v0.9h-0.9zM206.6 933.8h0.9v0.9h-0.9zM190.7 924.2h0.9v0.9h-0.9zM207.6 945.6h0.9v0.9h-0.9zM208.1 925.5h0.9v0.9h-0.9zM202.1 938.9h0.9v0.9h-0.9zM194.9 939.9h0.9v0.9h-0.9zM202.3 930.0h0.9v0.9h-0.9zM191.6 943.8h0.9v0.9h-0.9zM208.0 929.6h0.9v0.9h-0.9zM193.9 944.5h0.9v0.9h-0.9zM210.4 934.4h0.9v0.9h-0.9zM220.6 934.6h0.9v0.9h-0.9zM193.5 946.1h0.9v0.9h-0.9zM202.4 939.9h0.9v0.9h-0.9zM204.7 928.6h0.9v0.9h-0.9zM192.2 935.4h0.9v0.9h-0.9zM218.7 928.6h0.9v0.9h-0.9zM218.2 938.8h0.9v0.9h-0.9zM192.9 939.2h0.9v0.9h-0.9zM210.1 929.5h0.9v0.9h-0.9zM193.0 940.7h0.9v0.9h-0.9zM196.0 924.6h0.9v0.9h-0.9zM201.8 938.4h0.9v0.9h-0.9zM198.6 927.1h0.9v0.9h-0.9zM206.5 922.4h0.9v0.9h-0.9zM209.8 941.1h0.9v0.9h-0.9zM221.4 944.4h0.9v0.9h-0.9zM207.9 939.2h0.9v0.9h-0.9zM204.6 925.9h0.9v0.9h-0.9zM219.2 941.4h0.9v0.9h-0.9zM201.4 927.4h0.9v0.9h-0.9zM219.4 941.4h0.9v0.9h-0.9zM192.2 942.6h0.9v0.9h-0.9zM223.6 936.8h0.9v0.9h-0.9zM208.4 933.5h0.9v0.9h-0.9zM197.9 946.0h0.9v0.9h-0.9zM235.7 938.0h0.9v0.9h-0.9zM203.0 943.6h0.9v0.9h-0.9zM201.2 943.1h0.9v0.9h-0.9zM212.8 928.5h0.9v0.9h-0.9zM193.4 936.4h0.9v0.9h-0.9zM212.8 939.3h0.9v0.9h-0.9zM217.0 925.5h0.9v0.9h-0.9zM209.3 931.8h0.9v0.9h-0.9zM205.3 939.7h0.9v0.9h-0.9zM194.4 935.1h0.9v0.9h-0.9zM192.4 939.2h0.9v0.9h-0.9zM195.6 932.9h0.9v0.9h-0.9zM206.5 931.5h0.9v0.9h-0.9zM216.0 931.7h0.9v0.9h-0.9zM213.0 939.4h0.9v0.9h-0.9zM193.8 935.2h0.9v0.9h-0.9zM195.8 934.0h0.9v0.9h-0.9zM201.5 952.2h0.9v0.9h-0.9zM200.0 950.1h0.9v0.9h-0.9zM208.9 926.1h0.9v0.9h-0.9zM214.8 940.3h0.9v0.9h-0.9zM202.2 934.9h0.9v0.9h-0.9zM206.9 934.5h0.9v0.9h-0.9zM198.9 933.9h0.9v0.9h-0.9zM216.2 931.8h0.9v0.9h-0.9zM208.2 927.4h0.9v0.9h-0.9zM197.1 925.6h0.9v0.9h-0.9zM202.3 942.7h0.9v0.9h-0.9zM207.4 932.9h0.9v0.9h-0.9zM210.5 934.1h0.9v0.9h-0.9zM208.1 939.3h0.9v0.9h-0.9zM209.8 916.4h0.9v0.9h-0.9zM191.1 943.4h0.9v0.9h-0.9zM203.2 955.7h0.9v0.9h-0.9zM201.9 932.4h0.9v0.9h-0.9zM219.5 941.6h0.9v0.9h-0.9zM223.6 941.2h0.9v0.9h-0.9zM202.2 943.0h0.9v0.9h-0.9zM196.3 933.3h0.9v0.9h-0.9zM198.7 935.2h0.9v0.9h-0.9zM212.2 933.0h0.9v0.9h-0.9zM207.6 932.9h0.9v0.9h-0.9zM213.3 914.1h0.9v0.9h-0.9zM202.2 938.4h0.9v0.9h-0.9zM193.3 945.4h0.9v0.9h-0.9zM206.5 947.7h0.9v0.9h-0.9zM214.1 942.3h0.9v0.9h-0.9zM202.8 928.0h0.9v0.9h-0.9zM202.1 933.2h0.9v0.9h-0.9zM206.8 933.1h0.9v0.9h-0.9zM235.3 923.7h0.9v0.9h-0.9zM216.2 933.1h0.9v0.9h-0.9zM201.8 944.7h0.9v0.9h-0.9zM204.3 926.9h0.9v0.9h-0.9zM208.5 935.4h0.9v0.9h-0.9zM193.6 930.8h0.9v0.9h-0.9zM209.2 939.5h0.9v0.9h-0.9zM201.4 955.0h0.9v0.9h-0.9zM208.6 931.9h0.9v0.9h-0.9zM206.7 936.0h0.9v0.9h-0.9zM190.2 954.2h0.9v0.9h-0.9zM202.4 934.7h0.9v0.9h-0.9zM198.6 945.1h0.9v0.9h-0.9zM204.6 951.2h0.9v0.9h-0.9zM212.3 950.7h0.9v0.9h-0.9zM203.1 940.1h0.9v0.9h-0.9zM199.9 935.6h0.9v0.9h-0.9zM186.8 932.2h0.9v0.9h-0.9zM194.7 931.6h0.9v0.9h-0.9zM216.6 939.2h0.9v0.9h-0.9zM216.7 944.1h0.9v0.9h-0.9zM213.6 945.3h0.9v0.9h-0.9zM198.2 943.7h0.9v0.9h-0.9zM201.0 932.6h0.9v0.9h-0.9zM216.4 954.9h0.9v0.9h-0.9zM194.4 951.4h0.9v0.9h-0.9zM212.7 930.0h0.9v0.9h-0.9zM207.1 940.1h0.9v0.9h-0.9zM208.1 934.0h0.9v0.9h-0.9zM191.3 937.3h0.9v0.9h-0.9zM213.0 943.5h0.9v0.9h-0.9zM211.0 946.1h0.9v0.9h-0.9zM194.3 936.6h0.9v0.9h-0.9zM207.7 945.3h0.9v0.9h-0.9zM205.9 941.3h0.9v0.9h-0.9zM205.7 954.4h0.9v0.9h-0.9zM229.3 939.0h0.9v0.9h-0.9zM185.8 938.1h0.9v0.9h-0.9zM189.8 931.4h0.9v0.9h-0.9zM206.6 951.2h0.9v0.9h-0.9zM209.0 942.5h0.9v0.9h-0.9zM214.6 938.7h0.9v0.9h-0.9zM195.6 936.2h0.9v0.9h-0.9zM207.7 934.7h0.9v0.9h-0.9zM197.5 934.0h0.9v0.9h-0.9zM189.1 928.5h0.9v0.9h-0.9zM203.4 934.0h0.9v0.9h-0.9zM204.7 948.6h0.9v0.9h-0.9zM207.3 936.7h0.9v0.9h-0.9zM192.4 928.1h0.9v0.9h-0.9zM208.1 929.8h0.9v0.9h-0.9zM208.6 928.1h0.9v0.9h-0.9zM205.7 936.4h0.9v0.9h-0.9zM214.4 933.8h0.9v0.9h-0.9zM200.5 939.0h0.9v0.9h-0.9zM204.9 951.0h0.9v0.9h-0.9zM201.7 932.6h0.9v0.9h-0.9zM201.1 940.9h0.9v0.9h-0.9zM206.7 942.7h0.9v0.9h-0.9zM190.3 957.5h0.9v0.9h-0.9zM222.9 936.7h0.9v0.9h-0.9zM192.1 938.3h0.9v0.9h-0.9zM208.5 918.5h0.9v0.9h-0.9zM204.4 924.8h0.9v0.9h-0.9zM208.9 948.4h0.9v0.9h-0.9zM214.7 924.5h0.9v0.9h-0.9zM218.3 944.5h0.9v0.9h-0.9zM200.7 941.2h0.9v0.9h-0.9zM219.6 934.3h0.9v0.9h-0.9zM204.1 932.4h0.9v0.9h-0.9zM216.0 919.2h0.9v0.9h-0.9zM218.6 929.0h0.9v0.9h-0.9zM213.7 923.6h0.9v0.9h-0.9zM194.8 932.1h0.9v0.9h-0.9zM212.7 923.6h0.9v0.9h-0.9zM210.4 931.7h0.9v0.9h-0.9zM216.8 934.4h0.9v0.9h-0.9zM209.2 935.6h0.9v0.9h-0.9zM222.4 934.0h0.9v0.9h-0.9zM204.0 953.4h0.9v0.9h-0.9zM205.1 942.7h0.9v0.9h-0.9zM196.9 938.7h0.9v0.9h-0.9zM197.8 924.6h0.9v0.9h-0.9zM190.0 946.4h0.9v0.9h-0.9zM208.6 924.5h0.9v0.9h-0.9zM222.6 931.2h0.9v0.9h-0.9zM200.6 939.0h0.9v0.9h-0.9zM192.8 923.6h0.9v0.9h-0.9zM196.8 946.8h0.9v0.9h-0.9zM213.9 923.9h0.9v0.9h-0.9zM216.5 937.3h0.9v0.9h-0.9zM209.4 937.4h0.9v0.9h-0.9zM208.5 928.7h0.9v0.9h-0.9zM195.1 931.2h0.9v0.9h-0.9zM200.6 942.1h0.9v0.9h-0.9zM192.0 950.2h0.9v0.9h-0.9zM197.9 932.1h0.9v0.9h-0.9zM211.4 940.6h0.9v0.9h-0.9zM200.9 928.1h0.9v0.9h-0.9zM194.2 923.8h0.9v0.9h-0.9zM215.9 946.0h0.9v0.9h-0.9zM223.2 941.1h0.9v0.9h-0.9zM207.7 943.3h0.9v0.9h-0.9zM213.9 934.9h0.9v0.9h-0.9zM207.9 954.8h0.9v0.9h-0.9zM187.2 925.4h0.9v0.9h-0.9zM194.6 943.2h0.9v0.9h-0.9zM216.3 934.2h0.9v0.9h-0.9zM211.1 936.6h0.9v0.9h-0.9zM207.3 932.5h0.9v0.9h-0.9zM204.0 937.0h0.9v0.9h-0.9zM215.7 955.5h0.9v0.9h-0.9zM186.0 941.4h0.9v0.9h-0.9zM204.3 945.0h0.9v0.9h-0.9zM215.0 943.5h0.9v0.9h-0.9zM212.5 929.1h0.9v0.9h-0.9zM187.1 950.8h0.9v0.9h-0.9zM216.5 929.1h0.9v0.9h-0.9zM217.3 942.5h0.9v0.9h-0.9zM194.3 946.7h0.9v0.9h-0.9zM197.4 930.8h0.9v0.9h-0.9zM188.7 935.2h0.9v0.9h-0.9zM214.6 931.4h0.9v0.9h-0.9zM185.5 954.8h0.9v0.9h-0.9zM223.0 942.7h0.9v0.9h-0.9zM198.9 927.0h0.9v0.9h-0.9zM187.7 941.6h0.9v0.9h-0.9zM217.4 928.2h0.9v0.9h-0.9zM204.3 934.7h0.9v0.9h-0.9zM201.7 941.2h0.9v0.9h-0.9zM225.5 931.7h0.9v0.9h-0.9zM212.9 946.0h0.9v0.9h-0.9zM201.4 935.8h0.9v0.9h-0.9zM190.7 945.9h0.9v0.9h-0.9zM198.9 931.6h0.9v0.9h-0.9zM205.0 929.9h0.9v0.9h-0.9zM193.8 934.5h0.9v0.9h-0.9zM219.3 935.3h0.9v0.9h-0.9zM209.6 924.8h0.9v0.9h-0.9zM200.3 924.2h0.9v0.9h-0.9zM203.2 942.0h0.9v0.9h-0.9zM186.8 929.7h0.9v0.9h-0.9zM206.9 929.4h0.9v0.9h-0.9zM212.4 945.0h0.9v0.9h-0.9zM208.8 933.4h0.9v0.9h-0.9zM203.8 931.8h0.9v0.9h-0.9zM203.0 939.6h0.9v0.9h-0.9zM201.3 945.1h0.9v0.9h-0.9zM230.6 932.5h0.9v0.9h-0.9zM207.8 943.8h0.9v0.9h-0.9zM210.8 935.0h0.9v0.9h-0.9zM199.4 945.3h0.9v0.9h-0.9zM210.6 941.2h0.9v0.9h-0.9zM196.2 942.2h0.9v0.9h-0.9zM212.4 935.5h0.9v0.9h-0.9zM210.9 955.0h0.9v0.9h-0.9zM185.3 942.0h0.9v0.9h-0.9zM192.4 925.7h0.9v0.9h-0.9zM201.9 941.5h0.9v0.9h-0.9zM204.8 927.3h0.9v0.9h-0.9zM189.7 932.4h0.9v0.9h-0.9zM204.4 930.1h0.9v0.9h-0.9zM189.0 951.6h0.9v0.9h-0.9zM195.8 935.7h0.9v0.9h-0.9zM198.7 932.1h0.9v0.9h-0.9zM204.7 934.5h0.9v0.9h-0.9zM210.6 927.1h0.9v0.9h-0.9zM189.2 953.2h0.9v0.9h-0.9zM203.5 943.4h0.9v0.9h-0.9zM216.3 941.6h0.9v0.9h-0.9zM204.7 924.1h0.9v0.9h-0.9zM188.0 945.1h0.9v0.9h-0.9zM211.2 941.7h0.9v0.9h-0.9zM187.4 919.2h0.9v0.9h-0.9zM193.6 927.2h0.9v0.9h-0.9zM205.9 928.5h0.9v0.9h-0.9zM220.4 931.8h0.9v0.9h-0.9zM198.6 944.2h0.9v0.9h-0.9zM207.6 929.5h0.9v0.9h-0.9zM212.7 953.0h0.9v0.9h-0.9zM191.8 934.9h0.9v0.9h-0.9zM193.3 920.8h0.9v0.9h-0.9zM210.7 942.8h0.9v0.9h-0.9zM214.2 940.6h0.9v0.9h-0.9zM197.5 927.2h0.9v0.9h-0.9zM193.0 943.4h0.9v0.9h-0.9zM201.3 953.4h0.9v0.9h-0.9zM209.1 921.1h0.9v0.9h-0.9zM213.4 947.4h0.9v0.9h-0.9zM204.6 926.9h0.9v0.9h-0.9zM222.3 926.0h0.9v0.9h-0.9zM203.4 921.1h0.9v0.9h-0.9zM191.5 922.8h0.9v0.9h-0.9zM215.4 946.9h0.9v0.9h-0.9zM200.2 925.7h0.9v0.9h-0.9zM203.7 940.2h0.9v0.9h-0.9zM188.7 927.3h0.9v0.9h-0.9zM203.3 942.9h0.9v0.9h-0.9zM205.1 940.8h0.9v0.9h-0.9zM191.5 916.1h0.9v0.9h-0.9zM207.5 929.3h0.9v0.9h-0.9zM203.0 933.8h0.9v0.9h-0.9zM209.2 930.5h0.9v0.9h-0.9zM219.1 937.3h0.9v0.9h-0.9zM209.7 942.3h0.9v0.9h-0.9zM214.9 940.4h0.9v0.9h-0.9zM186.4 931.7h0.9v0.9h-0.9zM223.4 941.0h0.9v0.9h-0.9zM210.1 940.9h0.9v0.9h-0.9zM197.7 931.3h0.9v0.9h-0.9zM197.7 946.7h0.9v0.9h-0.9zM208.0 952.0h0.9v0.9h-0.9zM209.4 952.9h0.9v0.9h-0.9zM209.0 927.0h0.9v0.9h-0.9zM222.2 939.8h0.9v0.9h-0.9zM216.5 938.8h0.9v0.9h-0.9zM200.9 938.4h0.9v0.9h-0.9zM192.8 926.9h0.9v0.9h-0.9zM195.2 932.6h0.9v0.9h-0.9zM190.3 936.1h0.9v0.9h-0.9zM207.4 954.1h0.9v0.9h-0.9zM223.3 936.6h0.9v0.9h-0.9zM213.4 935.2h0.9v0.9h-0.9zM208.3 936.7h0.9v0.9h-0.9zM198.7 937.6h0.9v0.9h-0.9zM189.1 940.7h0.9v0.9h-0.9zM201.3 927.9h0.9v0.9h-0.9zM200.6 941.7h0.9v0.9h-0.9zM197.3 941.0h0.9v0.9h-0.9zM210.2 950.2h0.9v0.9h-0.9zM193.1 936.1h0.9v0.9h-0.9zM209.6 949.7h0.9v0.9h-0.9zM207.0 943.4h0.9v0.9h-0.9zM189.1 932.1h0.9v0.9h-0.9zM221.5 934.6h0.9v0.9h-0.9zM226.7 930.8h0.9v0.9h-0.9zM201.4 923.5h0.9v0.9h-0.9zM210.9 939.2h0.9v0.9h-0.9zM225.2 938.4h0.9v0.9h-0.9zM201.7 925.1h0.9v0.9h-0.9zM203.4 945.0h0.9v0.9h-0.9zM212.0 947.4h0.9v0.9h-0.9zM213.3 936.6h0.9v0.9h-0.9zM210.6 938.5h0.9v0.9h-0.9zM190.5 951.5h0.9v0.9h-0.9zM208.2 928.1h0.9v0.9h-0.9zM208.3 939.4h0.9v0.9h-0.9zM214.6 949.3h0.9v0.9h-0.9zM220.2 928.9h0.9v0.9h-0.9zM185.0 939.4h0.9v0.9h-0.9zM207.8 940.0h0.9v0.9h-0.9zM192.8 933.0h0.9v0.9h-0.9zM206.3 943.3h0.9v0.9h-0.9zM227.1 939.5h0.9v0.9h-0.9zM198.0 916.9h0.9v0.9h-0.9zM215.5 935.9h0.9v0.9h-0.9zM203.2 928.6h0.9v0.9h-0.9zM211.9 921.7h0.9v0.9h-0.9zM205.4 938.0h0.9v0.9h-0.9zM207.4 948.1h0.9v0.9h-0.9zM203.3 937.8h0.9v0.9h-0.9zM213.2 923.8h0.9v0.9h-0.9zM201.3 937.6h0.9v0.9h-0.9zM214.2 930.2h0.9v0.9h-0.9zM212.7 940.3h0.9v0.9h-0.9zM188.8 924.4h0.9v0.9h-0.9zM189.4 938.2h0.9v0.9h-0.9zM206.5 943.2h0.9v0.9h-0.9zM212.9 932.3h0.9v0.9h-0.9zM215.5 944.0h0.9v0.9h-0.9zM209.2 941.1h0.9v0.9h-0.9zM190.9 940.1h0.9v0.9h-0.9zM193.5 926.8h0.9v0.9h-0.9zM200.7 938.2h0.9v0.9h-0.9zM203.7 934.2h0.9v0.9h-0.9zM193.9 938.6h0.9v0.9h-0.9zM196.6 925.0h0.9v0.9h-0.9zM205.3 949.4h0.9v0.9h-0.9zM200.1 927.9h0.9v0.9h-0.9zM218.8 951.6h0.9v0.9h-0.9zM201.2 935.2h0.9v0.9h-0.9zM206.5 962.2h0.9v0.9h-0.9zM205.7 945.5h0.9v0.9h-0.9zM208.9 921.4h0.9v0.9h-0.9zM192.8 926.5h0.9v0.9h-0.9zM208.8 937.9h0.9v0.9h-0.9zM223.0 934.7h0.9v0.9h-0.9zM207.5 937.6h0.9v0.9h-0.9zM205.8 956.8h0.9v0.9h-0.9zM207.3 949.6h0.9v0.9h-0.9zM217.9 931.8h0.9v0.9h-0.9zM211.5 933.7h0.9v0.9h-0.9zM205.4 938.4h0.9v0.9h-0.9zM204.5 933.0h0.9v0.9h-0.9zM220.6 934.7h0.9v0.9h-0.9zM211.7 951.4h0.9v0.9h-0.9zM210.9 945.8h0.9v0.9h-0.9zM218.8 946.3h0.9v0.9h-0.9zM222.3 924.8h0.9v0.9h-0.9zM224.8 937.2h0.9v0.9h-0.9zM186.0 931.5h0.9v0.9h-0.9zM189.7 936.8h0.9v0.9h-0.9zM188.7 928.4h0.9v0.9h-0.9zM207.4 938.3h0.9v0.9h-0.9zM195.9 935.0h0.9v0.9h-0.9zM203.3 937.6h0.9v0.9h-0.9zM204.2 935.1h0.9v0.9h-0.9zM213.5 923.2h0.9v0.9h-0.9zM199.1 938.1h0.9v0.9h-0.9zM200.1 932.3h0.9v0.9h-0.9zM199.7 938.8h0.9v0.9h-0.9zM217.4 935.4h0.9v0.9h-0.9zM201.5 940.1h0.9v0.9h-0.9zM201.8 920.4h0.9v0.9h-0.9zM207.1 933.8h0.9v0.9h-0.9zM198.3 942.4h0.9v0.9h-0.9zM204.8 932.2h0.9v0.9h-0.9zM204.4 936.0h0.9v0.9h-0.9zM208.9 938.9h0.9v0.9h-0.9zM199.3 926.1h0.9v0.9h-0.9zM192.8 935.8h0.9v0.9h-0.9zM192.2 943.5h0.9v0.9h-0.9zM190.4 921.6h0.9v0.9h-0.9zM202.3 921.7h0.9v0.9h-0.9zM221.4 928.5h0.9v0.9h-0.9zM203.8 934.9h0.9v0.9h-0.9zM195.7 921.8h0.9v0.9h-0.9zM215.0 955.6h0.9v0.9h-0.9zM188.9 941.8h0.9v0.9h-0.9zM204.2 944.3h0.9v0.9h-0.9zM198.9 943.2h0.9v0.9h-0.9zM213.7 942.2h0.9v0.9h-0.9zM219.5 935.5h0.9v0.9h-0.9zM220.5 931.0h0.9v0.9h-0.9zM221.8 913.4h0.9v0.9h-0.9zM204.4 930.1h0.9v0.9h-0.9zM204.3 945.9h0.9v0.9h-0.9zM211.8 937.8h0.9v0.9h-0.9zM222.2 924.3h0.9v0.9h-0.9zM195.8 950.0h0.9v0.9h-0.9zM207.7 919.2h0.9v0.9h-0.9zM207.9 926.8h0.9v0.9h-0.9zM219.8 946.8h0.9v0.9h-0.9zM198.6 948.1h0.9v0.9h-0.9zM195.5 944.9h0.9v0.9h-0.9zM210.4 935.9h0.9v0.9h-0.9zM189.4 934.6h0.9v0.9h-0.9zM184.9 947.5h0.9v0.9h-0.9zM194.2 916.1h0.9v0.9h-0.9zM210.4 940.2h0.9v0.9h-0.9zM199.0 955.2h0.9v0.9h-0.9zM212.4 937.6h0.9v0.9h-0.9zM197.5 911.6h0.9v0.9h-0.9zM209.3 945.3h0.9v0.9h-0.9zM198.1 924.8h0.9v0.9h-0.9zM203.9 922.6h0.9v0.9h-0.9zM204.4 943.6h0.9v0.9h-0.9zM220.2 939.3h0.9v0.9h-0.9zM206.4 943.4h0.9v0.9h-0.9zM219.0 934.3h0.9v0.9h-0.9zM191.4 930.2h0.9v0.9h-0.9zM191.1 929.4h0.9v0.9h-0.9zM203.0 939.9h0.9v0.9h-0.9zM205.9 937.6h0.9v0.9h-0.9zM200.6 940.6h0.9v0.9h-0.9zM213.6 943.5h0.9v0.9h-0.9zM220.0 934.5h0.9v0.9h-0.9zM201.7 951.6h0.9v0.9h-0.9zM206.4 940.6h0.9v0.9h-0.9zM200.8 945.3h0.9v0.9h-0.9zM200.1 928.3h0.9v0.9h-0.9zM203.7 933.2h0.9v0.9h-0.9zM213.1 933.8h0.9v0.9h-0.9zM205.6 935.1h0.9v0.9h-0.9zM207.9 931.6h0.9v0.9h-0.9zM215.9 924.8h0.9v0.9h-0.9zM200.3 930.9h0.9v0.9h-0.9zM211.1 937.3h0.9v0.9h-0.9zM209.4 934.2h0.9v0.9h-0.9zM196.8 927.4h0.9v0.9h-0.9zM200.8 932.4h0.9v0.9h-0.9zM207.2 940.1h0.9v0.9h-0.9zM214.6 936.1h0.9v0.9h-0.9zM196.4 927.9h0.9v0.9h-0.9zM204.9 940.1h0.9v0.9h-0.9zM224.8 938.6h0.9v0.9h-0.9zM222.8 953.1h0.9v0.9h-0.9zM193.3 947.4h0.9v0.9h-0.9zM216.2 948.6h0.9v0.9h-0.9zM204.2 945.2h0.9v0.9h-0.9zM199.2 936.4h0.9v0.9h-0.9zM204.5 952.3h0.9v0.9h-0.9zM202.0 945.2h0.9v0.9h-0.9zM205.0 930.9h0.9v0.9h-0.9zM206.8 942.7h0.9v0.9h-0.9zM196.8 942.5h0.9v0.9h-0.9zM196.8 929.5h0.9v0.9h-0.9zM206.6 935.0h0.9v0.9h-0.9zM194.0 923.0h0.9v0.9h-0.9zM204.5 939.1h0.9v0.9h-0.9zM199.5 938.6h0.9v0.9h-0.9zM188.3 940.4h0.9v0.9h-0.9zM208.7 939.4h0.9v0.9h-0.9zM197.9 937.7h0.9v0.9h-0.9zM205.7 946.2h0.9v0.9h-0.9zM207.2 939.2h0.9v0.9h-0.9zM196.7 944.4h0.9v0.9h-0.9zM216.6 932.8h0.9v0.9h-0.9zM211.0 939.6h0.9v0.9h-0.9zM203.8 925.9h0.9v0.9h-0.9zM222.7 921.0h0.9v0.9h-0.9zM207.5 933.8h0.9v0.9h-0.9zM216.3 933.4h0.9v0.9h-0.9zM204.7 942.3h0.9v0.9h-0.9zM209.1 932.5h0.9v0.9h-0.9zM211.4 940.4h0.9v0.9h-0.9zM214.7 932.6h0.9v0.9h-0.9zM203.8 933.6h0.9v0.9h-0.9zM195.5 939.2h0.9v0.9h-0.9zM208.6 949.2h0.9v0.9h-0.9zM200.9 940.3h0.9v0.9h-0.9zM216.3 936.0h0.9v0.9h-0.9zM205.0 938.2h0.9v0.9h-0.9zM197.1 928.5h0.9v0.9h-0.9zM216.0 938.5h0.9v0.9h-0.9zM203.5 926.3h0.9v0.9h-0.9zM205.5 947.1h0.9v0.9h-0.9zM192.3 929.4h0.9v0.9h-0.9zM215.9 949.3h0.9v0.9h-0.9zM220.5 932.3h0.9v0.9h-0.9zM210.6 930.6h0.9v0.9h-0.9zM209.7 933.9h0.9v0.9h-0.9zM206.4 948.5h0.9v0.9h-0.9zM207.8 934.9h0.9v0.9h-0.9zM204.9 939.3h0.9v0.9h-0.9zM198.9 938.8h0.9v0.9h-0.9zM210.6 950.3h0.9v0.9h-0.9zM191.4 944.5h0.9v0.9h-0.9zM229.8 938.7h0.9v0.9h-0.9zM205.6 946.7h0.9v0.9h-0.9zM199.0 932.9h0.9v0.9h-0.9zM207.8 932.0h0.9v0.9h-0.9zM215.9 937.0h0.9v0.9h-0.9zM208.3 958.7h0.9v0.9h-0.9zM199.6 944.9h0.9v0.9h-0.9zM195.7 947.7h0.9v0.9h-0.9zM214.4 938.2h0.9v0.9h-0.9zM214.6 950.7h0.9v0.9h-0.9zM218.7 937.0h0.9v0.9h-0.9zM203.7 946.5h0.9v0.9h-0.9zM189.0 931.9h0.9v0.9h-0.9zM209.4 941.9h0.9v0.9h-0.9zM223.7 952.0h0.9v0.9h-0.9zM207.7 940.8h0.9v0.9h-0.9zM190.6 935.4h0.9v0.9h-0.9zM207.0 935.1h0.9v0.9h-0.9zM204.9 942.2h0.9v0.9h-0.9zM194.4 932.2h0.9v0.9h-0.9zM185.8 946.8h0.9v0.9h-0.9zM193.3 922.5h0.9v0.9h-0.9zM212.3 935.2h0.9v0.9h-0.9zM214.3 933.9h0.9v0.9h-0.9zM226.4 943.1h0.9v0.9h-0.9zM205.9 938.0h0.9v0.9h-0.9zM202.2 943.9h0.9v0.9h-0.9zM225.1 933.4h0.9v0.9h-0.9zM193.0 942.1h0.9v0.9h-0.9zM215.4 924.3h0.9v0.9h-0.9zM197.1 928.5h0.9v0.9h-0.9zM210.1 941.3h0.9v0.9h-0.9zM196.7 927.4h0.9v0.9h-0.9zM211.4 919.5h0.9v0.9h-0.9zM211.0 935.7h0.9v0.9h-0.9zM224.2 945.4h0.9v0.9h-0.9zM198.3 934.7h0.9v0.9h-0.9zM201.4 930.8h0.9v0.9h-0.9zM205.1 945.2h0.9v0.9h-0.9zM188.7 935.1h0.9v0.9h-0.9zM219.8 943.3h0.9v0.9h-0.9zM195.9 930.2h0.9v0.9h-0.9zM195.4 923.4h0.9v0.9h-0.9zM216.2 937.6h0.9v0.9h-0.9zM197.1 924.8h0.9v0.9h-0.9zM200.3 932.7h0.9v0.9h-0.9zM222.1 933.1h0.9v0.9h-0.9zM205.5 946.1h0.9v0.9h-0.9zM211.2 935.5h0.9v0.9h-0.9zM210.5 933.3h0.9v0.9h-0.9zM203.4 928.9h0.9v0.9h-0.9zM195.0 924.4h0.9v0.9h-0.9zM209.5 941.4h0.9v0.9h-0.9zM206.1 943.6h0.9v0.9h-0.9zM209.8 938.0h0.9v0.9h-0.9zM195.2 942.0h0.9v0.9h-0.9zM216.6 942.3h0.9v0.9h-0.9zM217.2 933.0h0.9v0.9h-0.9zM194.2 947.6h0.9v0.9h-0.9zM198.3 939.1h0.9v0.9h-0.9zM202.3 937.2h0.9v0.9h-0.9zM201.5 932.4h0.9v0.9h-0.9zM185.9 953.1h0.9v0.9h-0.9zM206.4 920.8h0.9v0.9h-0.9zM195.0 927.5h0.9v0.9h-0.9zM196.7 915.5h0.9v0.9h-0.9zM210.2 950.8h0.9v0.9h-0.9zM201.8 943.3h0.9v0.9h-0.9zM210.5 926.5h0.9v0.9h-0.9zM216.9 922.8h0.9v0.9h-0.9zM198.4 934.0h0.9v0.9h-0.9zM217.2 938.0h0.9v0.9h-0.9zM203.0 930.2h0.9v0.9h-0.9zM205.2 937.4h0.9v0.9h-0.9zM211.8 948.8h0.9v0.9h-0.9zM211.9 937.2h0.9v0.9h-0.9zM202.7 950.5h0.9v0.9h-0.9zM206.4 936.9h0.9v0.9h-0.9zM222.8 950.2h0.9v0.9h-0.9zM210.2 936.1h0.9v0.9h-0.9zM197.8 946.0h0.9v0.9h-0.9zM199.6 945.1h0.9v0.9h-0.9zM196.3 937.9h0.9v0.9h-0.9zM208.4 938.2h0.9v0.9h-0.9zM206.7 940.2h0.9v0.9h-0.9zM192.8 927.7h0.9v0.9h-0.9zM202.8 952.2h0.9v0.9h-0.9zM203.0 929.2h0.9v0.9h-0.9zM197.5 937.3h0.9v0.9h-0.9zM216.4 932.2h0.9v0.9h-0.9zM210.1 938.6h0.9v0.9h-0.9zM200.6 929.1h0.9v0.9h-0.9zM202.7 930.9h0.9v0.9h-0.9zM209.8 922.2h0.9v0.9h-0.9zM215.9 943.4h0.9v0.9h-0.9zM210.2 949.6h0.9v0.9h-0.9zM210.5 922.6h0.9v0.9h-0.9zM204.8 940.8h0.9v0.9h-0.9zM197.3 927.5h0.9v0.9h-0.9zM208.7 941.3h0.9v0.9h-0.9zM199.9 935.0h0.9v0.9h-0.9zM199.1 932.2h0.9v0.9h-0.9zM203.7 946.0h0.9v0.9h-0.9zM187.8 934.1h0.9v0.9h-0.9zM220.8 939.7h0.9v0.9h-0.9zM205.9 944.0h0.9v0.9h-0.9zM194.0 926.9h0.9v0.9h-0.9zM187.3 924.8h0.9v0.9h-0.9zM206.8 944.1h0.9v0.9h-0.9zM200.0 931.3h0.9v0.9h-0.9zM208.4 942.1h0.9v0.9h-0.9zM206.9 921.0h0.9v0.9h-0.9zM198.7 915.8h0.9v0.9h-0.9zM206.8 929.9h0.9v0.9h-0.9zM197.6 949.6h0.9v0.9h-0.9zM217.8 941.0h0.9v0.9h-0.9zM207.1 938.4h0.9v0.9h-0.9zM198.3 936.6h0.9v0.9h-0.9zM223.9 929.7h0.9v0.9h-0.9zM197.5 938.4h0.9v0.9h-0.9zM213.4 944.0h0.9v0.9h-0.9zM194.4 935.9h0.9v0.9h-0.9zM201.6 926.7h0.9v0.9h-0.9zM205.1 933.0h0.9v0.9h-0.9zM213.7 940.6h0.9v0.9h-0.9zM196.3 937.7h0.9v0.9h-0.9zM200.7 931.7h0.9v0.9h-0.9zM199.3 945.9h0.9v0.9h-0.9zM200.1 922.7h0.9v0.9h-0.9zM196.4 943.8h0.9v0.9h-0.9zM226.3 928.2h0.9v0.9h-0.9zM200.7 934.3h0.9v0.9h-0.9zM189.9 940.4h0.9v0.9h-0.9zM203.8 939.3h0.9v0.9h-0.9zM227.2 934.8h0.9v0.9h-0.9zM212.4 944.0h0.9v0.9h-0.9zM197.8 932.0h0.9v0.9h-0.9zM220.2 943.0h0.9v0.9h-0.9zM205.8 927.9h0.9v0.9h-0.9zM213.3 941.4h0.9v0.9h-0.9zM226.7 949.3h0.9v0.9h-0.9zM212.5 939.2h0.9v0.9h-0.9zM204.9 932.4h0.9v0.9h-0.9zM207.5 939.0h0.9v0.9h-0.9zM211.0 946.1h0.9v0.9h-0.9zM207.5 932.5h0.9v0.9h-0.9zM212.5 950.0h0.9v0.9h-0.9zM195.8 940.5h0.9v0.9h-0.9zM209.9 941.5h0.9v0.9h-0.9zM209.5 936.2h0.9v0.9h-0.9zM203.3 951.1h0.9v0.9h-0.9zM222.0 925.3h0.9v0.9h-0.9zM197.4 932.7h0.9v0.9h-0.9zM188.0 940.0h0.9v0.9h-0.9zM203.7 932.5h0.9v0.9h-0.9zM213.5 957.3h0.9v0.9h-0.9zM219.4 946.8h0.9v0.9h-0.9zM200.1 942.5h0.9v0.9h-0.9zM203.9 946.7h0.9v0.9h-0.9zM210.2 936.7h0.9v0.9h-0.9zM209.9 931.0h0.9v0.9h-0.9zM212.4 949.6h0.9v0.9h-0.9zM200.6 941.6h0.9v0.9h-0.9zM187.3 944.8h0.9v0.9h-0.9zM213.3 928.5h0.9v0.9h-0.9zM222.1 938.0h0.9v0.9h-0.9zM186.7 925.6h0.9v0.9h-0.9zM213.2 934.7h0.9v0.9h-0.9zM215.6 924.0h0.9v0.9h-0.9zM203.3 945.2h0.9v0.9h-0.9zM197.4 942.7h0.9v0.9h-0.9zM200.6 939.9h0.9v0.9h-0.9zM207.6 955.7h0.9v0.9h-0.9zM191.7 943.5h0.9v0.9h-0.9zM217.7 927.6h0.9v0.9h-0.9zM205.1 956.3h0.9v0.9h-0.9zM215.0 912.2h0.9v0.9h-0.9zM201.9 922.7h0.9v0.9h-0.9zM207.4 930.9h0.9v0.9h-0.9zM198.6 930.0h0.9v0.9h-0.9zM207.3 933.1h0.9v0.9h-0.9zM195.1 935.1h0.9v0.9h-0.9zM208.4 929.9h0.9v0.9h-0.9zM215.6 923.1h0.9v0.9h-0.9zM208.5 933.8h0.9v0.9h-0.9zM220.4 931.6h0.9v0.9h-0.9zM197.5 925.8h0.9v0.9h-0.9zM224.6 942.2h0.9v0.9h-0.9zM193.2 934.2h0.9v0.9h-0.9zM194.5 949.7h0.9v0.9h-0.9zM208.6 920.0h0.9v0.9h-0.9zM206.4 944.6h0.9v0.9h-0.9zM204.3 941.0h0.9v0.9h-0.9zM203.2 938.7h0.9v0.9h-0.9zM206.5 931.1h0.9v0.9h-0.9zM207.8 938.4h0.9v0.9h-0.9zM203.9 931.3h0.9v0.9h-0.9zM194.0 939.1h0.9v0.9h-0.9zM212.7 916.8h0.9v0.9h-0.9zM198.8 948.3h0.9v0.9h-0.9zM213.6 931.0h0.9v0.9h-0.9zM218.1 928.8h0.9v0.9h-0.9zM196.2 953.2h0.9v0.9h-0.9zM199.8 935.2h0.9v0.9h-0.9zM187.5 928.6h0.9v0.9h-0.9zM192.3 935.9h0.9v0.9h-0.9zM185.6 945.9h0.9v0.9h-0.9zM200.7 931.9h0.9v0.9h-0.9zM197.8 943.2h0.9v0.9h-0.9zM220.0 933.6h0.9v0.9h-0.9zM220.8 950.5h0.9v0.9h-0.9zM218.0 939.5h0.9v0.9h-0.9zM189.1 942.6h0.9v0.9h-0.9zM200.1 938.6h0.9v0.9h-0.9zM185.1 934.6h0.9v0.9h-0.9zM206.7 929.2h0.9v0.9h-0.9zM207.3 951.0h0.9v0.9h-0.9zM206.7 931.3h0.9v0.9h-0.9zM228.7 919.0h0.9v0.9h-0.9zM194.9 940.4h0.9v0.9h-0.9zM198.3 917.8h0.9v0.9h-0.9zM207.0 944.0h0.9v0.9h-0.9zM196.2 949.3h0.9v0.9h-0.9zM209.4 947.0h0.9v0.9h-0.9zM188.7 937.0h0.9v0.9h-0.9zM220.7 953.9h0.9v0.9h-0.9zM217.8 937.0h0.9v0.9h-0.9zM206.2 931.7h0.9v0.9h-0.9zM215.5 931.2h0.9v0.9h-0.9zM205.6 919.7h0.9v0.9h-0.9zM188.9 951.9h0.9v0.9h-0.9zM204.9 938.8h0.9v0.9h-0.9zM225.5 924.5h0.9v0.9h-0.9zM198.9 935.2h0.9v0.9h-0.9zM191.4 925.6h0.9v0.9h-0.9zM191.6 942.4h0.9v0.9h-0.9zM203.8 943.9h0.9v0.9h-0.9zM193.2 942.0h0.9v0.9h-0.9zM199.8 937.7h0.9v0.9h-0.9zM213.9 937.3h0.9v0.9h-0.9zM200.7 923.0h0.9v0.9h-0.9zM205.0 943.6h0.9v0.9h-0.9zM197.8 936.4h0.9v0.9h-0.9zM186.2 925.8h0.9v0.9h-0.9zM208.4 947.9h0.9v0.9h-0.9zM201.1 922.9h0.9v0.9h-0.9zM200.4 923.8h0.9v0.9h-0.9zM201.5 953.3h0.9v0.9h-0.9zM207.4 935.7h0.9v0.9h-0.9zM215.0 933.8h0.9v0.9h-0.9zM207.7 938.7h0.9v0.9h-0.9zM208.9 924.6h0.9v0.9h-0.9zM211.6 944.4h0.9v0.9h-0.9zM195.1 949.6h0.9v0.9h-0.9zM204.5 942.7h0.9v0.9h-0.9zM210.0 944.5h0.9v0.9h-0.9zM197.7 932.1h0.9v0.9h-0.9zM208.2 942.1h0.9v0.9h-0.9zM210.2 939.9h0.9v0.9h-0.9zM199.3 946.3h0.9v0.9h-0.9zM209.2 946.0h0.9v0.9h-0.9zM197.4 938.0h0.9v0.9h-0.9zM199.4 934.4h0.9v0.9h-0.9zM206.3 939.9h0.9v0.9h-0.9zM196.0 915.6h0.9v0.9h-0.9zM196.2 941.6h0.9v0.9h-0.9zM195.6 940.6h0.9v0.9h-0.9zM200.5 929.0h0.9v0.9h-0.9zM216.4 951.1h0.9v0.9h-0.9zM203.2 936.6h0.9v0.9h-0.9zM214.2 925.7h0.9v0.9h-0.9zM195.3 946.6h0.9v0.9h-0.9zM213.6 932.8h0.9v0.9h-0.9zM196.2 940.0h0.9v0.9h-0.9zM189.7 932.8h0.9v0.9h-0.9zM201.9 916.1h0.9v0.9h-0.9zM210.4 943.5h0.9v0.9h-0.9zM215.4 924.8h0.9v0.9h-0.9zM191.0 930.1h0.9v0.9h-0.9zM190.7 954.5h0.9v0.9h-0.9zM194.2 934.3h0.9v0.9h-0.9zM206.4 940.9h0.9v0.9h-0.9zM219.4 927.7h0.9v0.9h-0.9zM213.4 938.3h0.9v0.9h-0.9zM192.1 938.3h0.9v0.9h-0.9zM189.7 950.8h0.9v0.9h-0.9zM196.7 945.6h0.9v0.9h-0.9zM217.8 931.7h0.9v0.9h-0.9zM195.0 938.1h0.9v0.9h-0.9zM193.4 944.7h0.9v0.9h-0.9zM206.1 930.5h0.9v0.9h-0.9zM197.2 943.2h0.9v0.9h-0.9zM189.2 951.4h0.9v0.9h-0.9zM196.1 935.3h0.9v0.9h-0.9zM194.7 950.9h0.9v0.9h-0.9zM212.9 948.1h0.9v0.9h-0.9zM211.1 937.8h0.9v0.9h-0.9zM222.0 942.7h0.9v0.9h-0.9zM208.9 941.9h0.9v0.9h-0.9zM212.0 939.4h0.9v0.9h-0.9zM202.6 923.3h0.9v0.9h-0.9zM225.8 925.9h0.9v0.9h-0.9zM224.5 947.4h0.9v0.9h-0.9zM198.0 939.3h0.9v0.9h-0.9zM204.0 920.0h0.9v0.9h-0.9zM200.8 939.5h0.9v0.9h-0.9zM216.6 926.7h0.9v0.9h-0.9zM207.8 937.7h0.9v0.9h-0.9zM205.9 938.3h0.9v0.9h-0.9zM200.5 925.3h0.9v0.9h-0.9zM209.1 940.3h0.9v0.9h-0.9zM210.4 947.7h0.9v0.9h-0.9zM191.3 916.9h0.9v0.9h-0.9zM185.6 955.4h0.9v0.9h-0.9zM194.7 940.4h0.9v0.9h-0.9zM204.1 943.3h0.9v0.9h-0.9zM238.0 932.6h0.9v0.9h-0.9zM202.5 931.9h0.9v0.9h-0.9zM206.9 941.5h0.9v0.9h-0.9zM194.1 948.3h0.9v0.9h-0.9zM216.3 940.8h0.9v0.9h-0.9zM203.1 935.0h0.9v0.9h-0.9zM187.0 942.6h0.9v0.9h-0.9zM194.1 932.7h0.9v0.9h-0.9zM214.8 929.1h0.9v0.9h-0.9zM198.8 944.4h0.9v0.9h-0.9zM223.8 931.1h0.9v0.9h-0.9zM215.9 931.4h0.9v0.9h-0.9zM208.4 941.2h0.9v0.9h-0.9zM192.3 945.8h0.9v0.9h-0.9zM223.2 937.4h0.9v0.9h-0.9zM207.1 926.9h0.9v0.9h-0.9zM223.1 937.5h0.9v0.9h-0.9zM190.9 943.6h0.9v0.9h-0.9zM189.0 931.1h0.9v0.9h-0.9zM227.5 931.5h0.9v0.9h-0.9zM197.4 932.0h0.9v0.9h-0.9zM198.4 941.8h0.9v0.9h-0.9zM219.6 928.3h0.9v0.9h-0.9zM208.9 921.5h0.9v0.9h-0.9zM220.3 936.2h0.9v0.9h-0.9zM196.9 950.2h0.9v0.9h-0.9zM203.2 948.8h0.9v0.9h-0.9zM215.6 951.2h0.9v0.9h-0.9zM195.9 937.5h0.9v0.9h-0.9zM208.2 935.3h0.9v0.9h-0.9zM220.3 930.9h0.9v0.9h-0.9zM214.8 948.7h0.9v0.9h-0.9zM194.8 932.3h0.9v0.9h-0.9zM208.4 935.5h0.9v0.9h-0.9zM205.1 933.1h0.9v0.9h-0.9zM203.4 941.2h0.9v0.9h-0.9zM212.1 930.3h0.9v0.9h-0.9zM203.1 930.4h0.9v0.9h-0.9zM202.4 924.7h0.9v0.9h-0.9zM214.3 942.8h0.9v0.9h-0.9zM203.0 931.1h0.9v0.9h-0.9zM199.5 931.3h0.9v0.9h-0.9zM188.1 951.0h0.9v0.9h-0.9zM238.8 926.4h0.9v0.9h-0.9zM192.0 942.0h0.9v0.9h-0.9zM210.7 923.5h0.9v0.9h-0.9zM199.1 937.7h0.9v0.9h-0.9zM204.3 932.2h0.9v0.9h-0.9zM202.8 934.4h0.9v0.9h-0.9zM217.4 936.2h0.9v0.9h-0.9zM204.0 932.4h0.9v0.9h-0.9zM197.6 930.7h0.9v0.9h-0.9zM204.4 952.8h0.9v0.9h-0.9z" fill="#1c30f2" fill-opacity="0.8"/>
<ellipse cx="203.3" cy="937.0" rx="17.5" ry="14.5" transform="rotate(-10 203.3 937.0)" fill="url(#bg2)"/>
<rect x="184.00" y="889.40" width="95.3" height="94.80" fill="none" stroke="#222" stroke-width="1.1"/>
<line x1="208.20" y1="889.40" x2="208.20" y2="984.20" stroke="#333" stroke-width="1.1"/>
<line x1="184.00" y1="951.30" x2="279.30" y2="951.30" stroke="#222" stroke-width="1.1"/>
<text x="186.80" y="897.30" font-size="8.3" text-anchor="start" fill="#222" font-weight="normal" stroke="#222" stroke-width="0.1" >Q1</text>
<text x="186.80" y="906.60" font-size="8.3" text-anchor="start" fill="#222" font-weight="normal" stroke="#222" stroke-width="0.1" >79.2</text>
<text x="277.50" y="897.30" font-size="8.3" text-anchor="end" fill="#222" font-weight="normal" stroke="#222" stroke-width="0.1" >Q2</text>
<text x="277.50" y="906.60" font-size="8.3" text-anchor="end" fill="#222" font-weight="normal" stroke="#222" stroke-width="0.1" >20.1</text>
<text x="186.80" y="970.80" font-size="8.3" text-anchor="start" fill="#222" font-weight="normal" stroke="#222" stroke-width="0.1" >Q4</text>
<text x="186.80" y="980.40" font-size="8.3" text-anchor="start" fill="#222" font-weight="normal" stroke="#222" stroke-width="0.1" >0.34</text>
<text x="277.50" y="970.80" font-size="8.3" text-anchor="end" fill="#222" font-weight="normal" stroke="#222" stroke-width="0.1" >Q3</text>
<text x="277.50" y="980.40" font-size="8.3" text-anchor="end" fill="#222" font-weight="normal" stroke="#222" stroke-width="0.1" >0.31</text>
<line x1="180.20" y1="898.30" x2="184.00" y2="898.30" stroke="#222" stroke-width="1.0"/>
<text x="173.70" y="902.70" font-size="8.8" text-anchor="end" fill="#111" font-weight="normal" stroke="#111" stroke-width="0.1" >10</text>
<text x="173.80" y="898.90" font-size="6.3" text-anchor="start" fill="#111" font-weight="normal" stroke="#111" stroke-width="0.1" >5</text>
<line x1="180.20" y1="921.20" x2="184.00" y2="921.20" stroke="#222" stroke-width="1.0"/>
<text x="173.70" y="925.60" font-size="8.8" text-anchor="end" fill="#111" font-weight="normal" stroke="#111" stroke-width="0.1" >10</text>
<text x="173.80" y="921.80" font-size="6.3" text-anchor="start" fill="#111" font-weight="normal" stroke="#111" stroke-width="0.1" >4</text>
<line x1="180.20" y1="946.80" x2="184.00" y2="946.80" stroke="#222" stroke-width="1.0"/>
<text x="173.70" y="951.20" font-size="8.8" text-anchor="end" fill="#111" font-weight="normal" stroke="#111" stroke-width="0.1" >10</text>
<text x="173.80" y="947.40" font-size="6.3" text-anchor="start" fill="#111" font-weight="normal" stroke="#111" stroke-width="0.1" >3</text>
<line x1="180.20" y1="962.20" x2="184.00" y2="962.20" stroke="#222" stroke-width="1.0"/>
<rect x="179.60" y="960.30" width="3.80" height="3.90" fill="#777" />
<text x="173.20" y="966.10" font-size="8.8" text-anchor="end" fill="#111" font-weight="normal" stroke="#111" stroke-width="0.1" >0</text>
<line x1="180.20" y1="978.40" x2="184.00" y2="978.40" stroke="#222" stroke-width="1.0"/>
<text x="173.70" y="983.00" font-size="8.8" text-anchor="end" fill="#111" font-weight="normal" stroke="#111" stroke-width="0.1" >&#8722;10</text>
<text x="173.80" y="979.00" font-size="6.3" text-anchor="start" fill="#111" font-weight="normal" stroke="#111" stroke-width="0.1" >3</text>
<line x1="182.00" y1="904.00" x2="184.00" y2="904.00" stroke="#333" stroke-width="0.7"/>
<line x1="182.00" y1="908.50" x2="184.00" y2="908.50" stroke="#333" stroke-width="0.7"/>
<line x1="182.00" y1="911.50" x2="184.00" y2="911.50" stroke="#333" stroke-width="0.7"/>
<line x1="182.00" y1="914.00" x2="184.00" y2="914.00" stroke="#333" stroke-width="0.7"/>
<line x1="182.00" y1="916.00" x2="184.00" y2="916.00" stroke="#333" stroke-width="0.7"/>
<line x1="182.00" y1="917.70" x2="184.00" y2="917.70" stroke="#333" stroke-width="0.7"/>
<line x1="182.00" y1="919.40" x2="184.00" y2="919.40" stroke="#333" stroke-width="0.7"/>
<line x1="182.00" y1="927.00" x2="184.00" y2="927.00" stroke="#333" stroke-width="0.7"/>
<line x1="182.00" y1="931.50" x2="184.00" y2="931.50" stroke="#333" stroke-width="0.7"/>
<line x1="182.00" y1="934.50" x2="184.00" y2="934.50" stroke="#333" stroke-width="0.7"/>
<line x1="182.00" y1="937.00" x2="184.00" y2="937.00" stroke="#333" stroke-width="0.7"/>
<line x1="182.00" y1="939.00" x2="184.00" y2="939.00" stroke="#333" stroke-width="0.7"/>
<line x1="182.00" y1="940.70" x2="184.00" y2="940.70" stroke="#333" stroke-width="0.7"/>
<line x1="182.00" y1="942.20" x2="184.00" y2="942.20" stroke="#333" stroke-width="0.7"/>
<line x1="182.00" y1="944.50" x2="184.00" y2="944.50" stroke="#333" stroke-width="0.7"/>
<line x1="182.00" y1="955.00" x2="184.00" y2="955.00" stroke="#333" stroke-width="0.7"/>
<line x1="182.00" y1="958.00" x2="184.00" y2="958.00" stroke="#333" stroke-width="0.7"/>
<line x1="182.00" y1="966.00" x2="184.00" y2="966.00" stroke="#333" stroke-width="0.7"/>
<line x1="182.00" y1="970.00" x2="184.00" y2="970.00" stroke="#333" stroke-width="0.7"/>
<line x1="182.00" y1="974.00" x2="184.00" y2="974.00" stroke="#333" stroke-width="0.7"/>
<line x1="224.90" y1="984.20" x2="224.90" y2="987.40" stroke="#222" stroke-width="1.0"/>
<text x="224.90" y="1000.80" font-size="8.8" text-anchor="middle" fill="#111" font-weight="normal" stroke="#111" stroke-width="0.1" >10</text>
<text x="229.50" y="996.90" font-size="6.3" text-anchor="start" fill="#111" font-weight="normal" stroke="#111" stroke-width="0.1" >3</text>
<line x1="246.50" y1="984.20" x2="246.50" y2="987.40" stroke="#222" stroke-width="1.0"/>
<text x="246.50" y="1000.80" font-size="8.8" text-anchor="middle" fill="#111" font-weight="normal" stroke="#111" stroke-width="0.1" >10</text>
<text x="251.10" y="996.90" font-size="6.3" text-anchor="start" fill="#111" font-weight="normal" stroke="#111" stroke-width="0.1" >4</text>
<line x1="270.50" y1="984.20" x2="270.50" y2="987.40" stroke="#222" stroke-width="1.0"/>
<text x="270.50" y="1000.80" font-size="8.8" text-anchor="middle" fill="#111" font-weight="normal" stroke="#111" stroke-width="0.1" >10</text>
<text x="275.10" y="996.90" font-size="6.3" text-anchor="start" fill="#111" font-weight="normal" stroke="#111" stroke-width="0.1" >5</text>
<line x1="196.10" y1="984.20" x2="196.10" y2="987.60" stroke="#222" stroke-width="1.8"/>
<text x="196.60" y="1000.80" font-size="8.8" text-anchor="middle" fill="#111" font-weight="normal" stroke="#111" stroke-width="0.1" >0</text>
<line x1="189.50" y1="984.20" x2="189.50" y2="986.20" stroke="#333" stroke-width="0.7"/>
<line x1="192.00" y1="984.20" x2="192.00" y2="986.20" stroke="#333" stroke-width="0.7"/>
<line x1="194.00" y1="984.20" x2="194.00" y2="986.20" stroke="#333" stroke-width="0.7"/>
<line x1="195.70" y1="984.20" x2="195.70" y2="986.20" stroke="#333" stroke-width="0.7"/>
<line x1="200.50" y1="984.20" x2="200.50" y2="986.20" stroke="#333" stroke-width="0.7"/>
<line x1="202.50" y1="984.20" x2="202.50" y2="986.20" stroke="#333" stroke-width="0.7"/>
<line x1="205.50" y1="984.20" x2="205.50" y2="986.20" stroke="#333" stroke-width="0.7"/>
<line x1="211.50" y1="984.20" x2="211.50" y2="986.20" stroke="#333" stroke-width="0.7"/>
<line x1="216.50" y1="984.20" x2="216.50" y2="986.20" stroke="#333" stroke-width="0.7"/>
<line x1="219.50" y1="984.20" x2="219.50" y2="986.20" stroke="#333" stroke-width="0.7"/>
<line x1="222.00" y1="984.20" x2="222.00" y2="986.20" stroke="#333" stroke-width="0.7"/>
<line x1="224.00" y1="984.20" x2="224.00" y2="986.20" stroke="#333" stroke-width="0.7"/>
<line x1="231.50" y1="984.20" x2="231.50" y2="986.20" stroke="#333" stroke-width="0.7"/>
<line x1="235.50" y1="984.20" x2="235.50" y2="986.20" stroke="#333" stroke-width="0.7"/>
<line x1="238.50" y1="984.20" x2="238.50" y2="986.20" stroke="#333" stroke-width="0.7"/>
<line x1="241.00" y1="984.20" x2="241.00" y2="986.20" stroke="#333" stroke-width="0.7"/>
<line x1="243.00" y1="984.20" x2="243.00" y2="986.20" stroke="#333" stroke-width="0.7"/>
<line x1="245.00" y1="984.20" x2="245.00" y2="986.20" stroke="#333" stroke-width="0.7"/>
<line x1="254.50" y1="984.20" x2="254.50" y2="986.20" stroke="#333" stroke-width="0.7"/>
<line x1="258.50" y1="984.20" x2="258.50" y2="986.20" stroke="#333" stroke-width="0.7"/>
<line x1="261.50" y1="984.20" x2="261.50" y2="986.20" stroke="#333" stroke-width="0.7"/>
<line x1="264.00" y1="984.20" x2="264.00" y2="986.20" stroke="#333" stroke-width="0.7"/>
<line x1="266.00" y1="984.20" x2="266.00" y2="986.20" stroke="#333" stroke-width="0.7"/>
<line x1="268.00" y1="984.20" x2="268.00" y2="986.20" stroke="#333" stroke-width="0.7"/>
<line x1="331.60" y1="706.60" x2="331.60" y2="870.01" stroke="#111" stroke-width="1.8"/>
<line x1="330.70" y1="869.21" x2="509.60" y2="869.21" stroke="#111" stroke-width="1.8"/>
<line x1="327.00" y1="711.55" x2="331.60" y2="711.55" stroke="#111" stroke-width="1.5"/>
<text x="322.80" y="715.55" font-size="11" text-anchor="end" fill="#111" font-weight="normal" stroke="#111" stroke-width="0.1" >150</text>
<line x1="327.00" y1="750.97" x2="331.60" y2="750.97" stroke="#111" stroke-width="1.5"/>
<text x="322.80" y="754.97" font-size="11" text-anchor="end" fill="#111" font-weight="normal" stroke="#111" stroke-width="0.1" >100</text>
<line x1="327.00" y1="790.38" x2="331.60" y2="790.38" stroke="#111" stroke-width="1.5"/>
<text x="322.80" y="794.38" font-size="11" text-anchor="end" fill="#111" font-weight="normal" stroke="#111" stroke-width="0.1" >50</text>
<line x1="327.00" y1="829.80" x2="331.60" y2="829.80" stroke="#111" stroke-width="1.5"/>
<text x="322.80" y="833.80" font-size="11" text-anchor="end" fill="#111" font-weight="normal" stroke="#111" stroke-width="0.1" >0</text>
<line x1="327.00" y1="869.21" x2="331.60" y2="869.21" stroke="#111" stroke-width="1.5"/>
<text x="322.80" y="873.21" font-size="11" text-anchor="end" fill="#111" font-weight="normal" stroke="#111" stroke-width="0.1" >&#8722;50</text>
<text transform="translate(297.80,787.50) rotate(-90)" font-size="13.5" text-anchor="middle" fill="#111" textLength="60.7" lengthAdjust="spacingAndGlyphs" stroke="#111" stroke-width="0.1">NQ KIR3DL2</text>
<line x1="351.00" y1="869.21" x2="351.00" y2="873.51" stroke="#111" stroke-width="1.5"/>
<text transform="translate(357.60,883.50) rotate(-45)" font-size="12" text-anchor="end" fill="#111" stroke="#111" stroke-width="0.1">Acute (n=30)</text>
<line x1="380.30" y1="869.21" x2="380.30" y2="873.51" stroke="#111" stroke-width="1.5"/>
<text transform="translate(386.90,883.50) rotate(-45)" font-size="12" text-anchor="end" fill="#111" stroke="#111" stroke-width="0.1">Lymphoma (n=4)</text>
<line x1="409.40" y1="869.21" x2="409.40" y2="873.51" stroke="#111" stroke-width="1.5"/>
<text transform="translate(416.00,883.50) rotate(-45)" font-size="12" text-anchor="end" fill="#111" stroke="#111" stroke-width="0.1">Chronic (n=13)</text>
<line x1="438.50" y1="869.21" x2="438.50" y2="873.51" stroke="#111" stroke-width="1.5"/>
<text transform="translate(446.60,883.50) rotate(-45)" font-size="12" text-anchor="end" fill="#111" stroke="#111" stroke-width="0.1">Carrier HTLV1 (n=5)</text>
<line x1="467.40" y1="869.21" x2="467.40" y2="873.51" stroke="#111" stroke-width="1.5"/>
<text transform="translate(476.20,883.50) rotate(-45)" font-size="12" text-anchor="end" fill="#111" stroke="#111" stroke-width="0.1">CD4+TL (n=4)</text>
<line x1="496.60" y1="869.21" x2="496.60" y2="873.51" stroke="#111" stroke-width="1.5"/>
<text transform="translate(506.30,883.50) rotate(-45)" font-size="12" text-anchor="end" fill="#111" stroke="#111" stroke-width="0.1">HUT-78 (n=2)</text>
<path d="M351.2,694.4 V689.6 H410.1 V694.4" fill="none" stroke="#111" stroke-width="1.5"/>
<path d="M351.2,717.5 V712.7 H381.3 V717.5" fill="none" stroke="#111" stroke-width="1.5"/>
<text x="367.50" y="684.30" font-size="12" text-anchor="start" fill="#111" font-weight="normal" stroke="#111" stroke-width="0.1" >p</text>
<rect x="375.40" y="679.30" width="5.80" height="3.10" fill="#8a8a8a" />
<text x="382.60" y="684.30" font-size="12" text-anchor="start" fill="#111" font-weight="normal" stroke="#111" stroke-width="0.1" >ns</text>
<text x="366.90" y="708.10" font-size="12" text-anchor="middle" fill="#111" font-weight="normal" textLength="43.9" lengthAdjust="spacingAndGlyphs" stroke="#111" stroke-width="0.1" >p&lt;0.001</text>
<text x="413.80" y="715.90" font-size="12" text-anchor="start" fill="#c8203c" font-weight="normal" textLength="82.4" lengthAdjust="spacingAndGlyphs" stroke="#c8203c" stroke-width="0.1" >Rapid evolution</text>
<text x="413.80" y="730.30" font-size="12" text-anchor="start" fill="#c8203c" font-weight="normal" textLength="95.2" lengthAdjust="spacingAndGlyphs" stroke="#c8203c" stroke-width="0.1" >to acute-type ATL</text>
<text x="413.80" y="743.60" font-size="12" text-anchor="start" fill="#c8203c" font-weight="normal" textLength="73.1" lengthAdjust="spacingAndGlyphs" stroke="#c8203c" stroke-width="0.1" >(P13 and P36)</text>
<ellipse cx="409.6" cy="772.4" rx="19.2" ry="22.9" fill="none" stroke="#d0283c" stroke-width="1.3"/>
<rect x="341.00" y="811.91" width="19.60" height="17.89" fill="#d6707f" fill-opacity="0.85"/>
<line x1="351.00" y1="785.20" x2="351.00" y2="837.30" stroke="#111" stroke-width="1.6"/>
<line x1="346.00" y1="785.20" x2="356.00" y2="785.20" stroke="#111" stroke-width="1.7"/>
<line x1="346.00" y1="837.30" x2="356.00" y2="837.30" stroke="#111" stroke-width="1.7"/>
<circle cx="351.30" cy="731.70" r="1.9" fill="#c8102e"/>
<circle cx="351.30" cy="747.10" r="1.9" fill="#c8102e"/>
<circle cx="347.30" cy="770.80" r="1.9" fill="#c8102e"/>
<circle cx="355.00" cy="773.80" r="1.9" fill="#c8102e"/>
<circle cx="351.40" cy="789.80" r="1.9" fill="#c8102e"/>
<circle cx="347.50" cy="796.40" r="1.9" fill="#c8102e"/>
<circle cx="354.80" cy="798.20" r="1.9" fill="#c8102e"/>
<circle cx="358.90" cy="805.10" r="1.9" fill="#c8102e"/>
<circle cx="343.10" cy="807.90" r="1.9" fill="#c8102e"/>
<circle cx="348.30" cy="810.20" r="1.9" fill="#c8102e"/>
<circle cx="353.20" cy="809.40" r="1.9" fill="#c8102e"/>
<circle cx="350.90" cy="819.40" r="1.9" fill="#c8102e"/>
<circle cx="345.40" cy="823.30" r="1.9" fill="#c8102e"/>
<circle cx="356.90" cy="822.90" r="1.9" fill="#c8102e"/>
<circle cx="354.60" cy="825.00" r="1.9" fill="#c8102e"/>
<circle cx="347.70" cy="825.60" r="1.9" fill="#c8102e"/>
<circle cx="344.20" cy="827.30" r="1.9" fill="#c8102e"/>
<circle cx="358.10" cy="827.30" r="1.9" fill="#c8102e"/>
<circle cx="346.50" cy="829.00" r="1.9" fill="#c8102e"/>
<circle cx="349.00" cy="829.60" r="1.9" fill="#c8102e"/>
<circle cx="351.50" cy="830.00" r="1.9" fill="#c8102e"/>
<circle cx="354.00" cy="829.60" r="1.9" fill="#c8102e"/>
<circle cx="356.50" cy="829.00" r="1.9" fill="#c8102e"/>
<circle cx="342.80" cy="828.80" r="1.9" fill="#c8102e"/>
<circle cx="359.50" cy="828.60" r="1.9" fill="#c8102e"/>
<line x1="372.50" y1="830.50" x2="387.50" y2="830.50" stroke="#222" stroke-width="1.1"/>
<path d="M372.50,828.70 L374.10,831.58 L370.90,831.58Z" fill="#1a4f8a"/>
<path d="M377.70,828.70 L379.30,831.58 L376.10,831.58Z" fill="#1a4f8a"/>
<path d="M382.30,828.70 L383.90,831.58 L380.70,831.58Z" fill="#1a4f8a"/>
<path d="M387.50,828.70 L389.10,831.58 L385.90,831.58Z" fill="#1a4f8a"/>
<rect x="399.80" y="820.00" width="19.40" height="9.80" fill="#8ed68e" fill-opacity="0.9"/>
<line x1="409.40" y1="797.80" x2="409.40" y2="840.70" stroke="#111" stroke-width="1.5"/>
<line x1="404.80" y1="797.80" x2="414.00" y2="797.80" stroke="#111" stroke-width="1.7"/>
<line x1="404.80" y1="840.70" x2="414.00" y2="840.70" stroke="#111" stroke-width="1.7"/>
<path d="M409.50,758.80 L412.00,761.30 L409.50,763.80 L407.00,761.30Z" fill="#35b548"/>
<path d="M409.50,783.80 L412.00,786.30 L409.50,788.80 L407.00,786.30Z" fill="#35b548"/>
<path d="M409.40,816.90 L411.90,819.40 L409.40,821.90 L406.90,819.40Z" fill="#35b548"/>
<path d="M413.20,820.90 L415.70,823.40 L413.20,825.90 L410.70,823.40Z" fill="#35b548"/>
<path d="M401.50,826.80 L403.70,829.00 L401.50,831.20 L399.30,829.00Z" fill="#35b548"/>
<path d="M403.50,826.80 L405.70,829.00 L403.50,831.20 L401.30,829.00Z" fill="#35b548"/>
<path d="M405.50,826.80 L407.70,829.00 L405.50,831.20 L403.30,829.00Z" fill="#35b548"/>
<path d="M407.50,827.40 L409.70,829.60 L407.50,831.80 L405.30,829.60Z" fill="#35b548"/>
<path d="M409.40,827.40 L411.60,829.60 L409.40,831.80 L407.20,829.60Z" fill="#35b548"/>
<path d="M411.30,827.40 L413.50,829.60 L411.30,831.80 L409.10,829.60Z" fill="#35b548"/>
<path d="M413.30,826.80 L415.50,829.00 L413.30,831.20 L411.10,829.00Z" fill="#35b548"/>
<path d="M415.30,826.80 L417.50,829.00 L415.30,831.20 L413.10,829.00Z" fill="#35b548"/>
<path d="M417.30,826.80 L419.50,829.00 L417.30,831.20 L415.10,829.00Z" fill="#35b548"/>
<path d="M409.40,828.80 L411.60,831.00 L409.40,833.20 L407.20,831.00Z" fill="#35b548"/>
<line x1="429.00" y1="829.40" x2="448.60" y2="829.40" stroke="#222" stroke-width="1.3"/>
<rect x="431.20" y="825.40" width="2.60" height="2.60" fill="#5a1a7a" />
<rect x="434.20" y="827.00" width="2.60" height="2.60" fill="#5a1a7a" />
<rect x="436.50" y="828.30" width="2.60" height="2.60" fill="#5a1a7a" />
<rect x="439.20" y="828.90" width="2.60" height="2.60" fill="#5a1a7a" />
<rect x="441.90" y="828.30" width="2.60" height="2.60" fill="#5a1a7a" />
<rect x="444.30" y="827.00" width="2.60" height="2.60" fill="#5a1a7a" />
<line x1="460.50" y1="829.80" x2="475.10" y2="829.80" stroke="#333" stroke-width="1.2"/>
<circle cx="460.50" cy="829.80" r="1.45" fill="#f28a10"/>
<circle cx="465.40" cy="829.80" r="1.45" fill="#f28a10"/>
<circle cx="470.20" cy="829.80" r="1.45" fill="#f28a10"/>
<circle cx="475.10" cy="829.80" r="1.45" fill="#f28a10"/>
<rect x="487.10" y="816.80" width="19.60" height="13.00" fill="#7ab8a8" fill-opacity="0.95"/>
<line x1="496.90" y1="802.50" x2="496.90" y2="830.40" stroke="#111" stroke-width="1.6"/>
<line x1="492.10" y1="802.50" x2="501.70" y2="802.50" stroke="#111" stroke-width="1.7"/>
<line x1="492.10" y1="830.40" x2="501.70" y2="830.40" stroke="#111" stroke-width="1.7"/>
<circle cx="496.90" cy="806.70" r="1.7" fill="#1a6a5a"/>
<circle cx="496.90" cy="826.70" r="1.7" fill="#1a6a5a"/>
</svg>
</body></html>
